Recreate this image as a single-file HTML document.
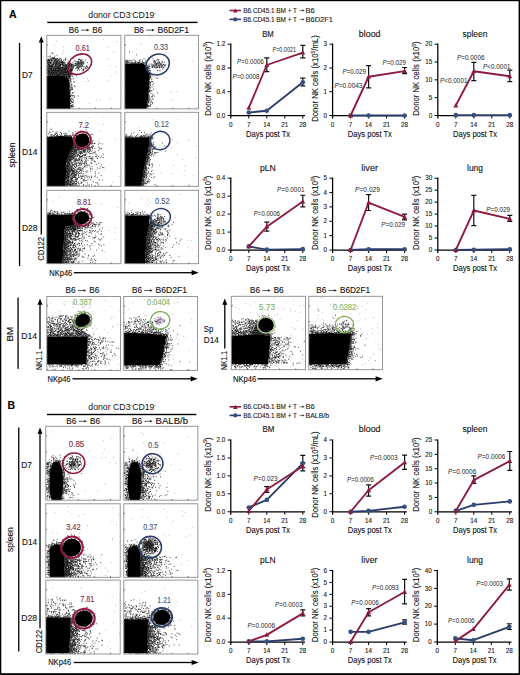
<!DOCTYPE html>
<html><head><meta charset="utf-8"><style>
html,body{margin:0;padding:0;background:#fff;}
svg{display:block;}
text{font-family:"Liberation Sans",sans-serif;}
</style></head><body>
<svg width="520" height="675" viewBox="0 0 520 675">
<defs><filter id="b1" x="-20%" y="-20%" width="140%" height="140%"><feGaussianBlur stdDeviation="0.65"/></filter><filter id="b2" x="-30%" y="-30%" width="160%" height="160%"><feGaussianBlur stdDeviation="1.0"/></filter><filter id="b0" x="-5%" y="-5%" width="110%" height="110%"><feGaussianBlur stdDeviation="0.35"/></filter></defs>
<rect x="0" y="0" width="520" height="675" fill="#fff"/>
<rect x="0" y="0" width="1.3" height="675" fill="#000"/>
<rect x="0" y="0" width="520" height="1.2" fill="#000"/>
<rect x="518.6" y="0" width="1.4" height="675" fill="#000"/>
<rect x="0" y="673.2" width="520" height="1.8" fill="#000"/>
<text x="9.00" y="17.98" font-size="11" fill="#000" stroke="#000" stroke-width="0.12" font-weight="bold" textLength="7.60" lengthAdjust="spacingAndGlyphs">A</text>
<text x="7.60" y="409.38" font-size="11" fill="#000" stroke="#000" stroke-width="0.12" font-weight="bold" textLength="7.60" lengthAdjust="spacingAndGlyphs">B</text>
<text x="88.3" y="18.00" font-size="8.2" fill="#111" textLength="67.8" lengthAdjust="spacingAndGlyphs">donor CD3<tspan dy="-2.9" font-size="4.6">-</tspan><tspan dy="2.9">CD19</tspan><tspan dy="-2.9" font-size="4.6">-</tspan></text>
<rect x="47.3" y="21.70" width="150.20" height="1.4" fill="#000"/>
<text x="68.70" y="32.92" font-size="8.2" fill="#111" stroke="#111" stroke-width="0.12" textLength="10.03" lengthAdjust="spacingAndGlyphs">B6</text>
<path d="M81.03 30.10H87.83" stroke="#222" stroke-width="0.75"/>
<path d="M89.33 30.10L86.73 28.80L86.73 31.40Z" fill="#222"/>
<text x="92.33" y="32.92" font-size="8.2" fill="#111" stroke="#111" stroke-width="0.12" textLength="10.03" lengthAdjust="spacingAndGlyphs">B6</text>
<text x="133.90" y="32.92" font-size="8.2" fill="#111" stroke="#111" stroke-width="0.12" textLength="10.03" lengthAdjust="spacingAndGlyphs">B6</text>
<path d="M146.23 30.10H153.03" stroke="#222" stroke-width="0.75"/>
<path d="M154.53 30.10L151.93 28.80L151.93 31.40Z" fill="#222"/>
<text x="157.53" y="32.92" font-size="8.2" fill="#111" stroke="#111" stroke-width="0.12" textLength="31.47" lengthAdjust="spacingAndGlyphs">B6D2F1</text>
<rect x="40.65" y="40.20" width="1.3" height="194.30" fill="#000"/>
<path d="M41.30 36.20 L43.80 42.40 L38.80 42.40 Z" fill="#000"/>
<text transform="translate(43.62,260.80) rotate(-90)" x="0" y="0" font-size="8.2" fill="#111" stroke="#111" stroke-width="0.12" textLength="23.80" lengthAdjust="spacingAndGlyphs">CD122</text>
<text x="49.20" y="275.52" font-size="8.2" fill="#111" stroke="#111" stroke-width="0.12" textLength="23.10" lengthAdjust="spacingAndGlyphs">NKp46</text>
<rect x="73.80" y="272.05" width="121.00" height="1.3" fill="#000"/>
<path d="M198.80 272.70 L191.60 270.10 L191.60 275.30 Z" fill="#000"/>
<rect x="18.9" y="43" width="1.3" height="223" fill="#000"/>
<text transform="translate(14.62,167.50) rotate(-90)" x="0" y="0" font-size="8.2" fill="#111" stroke="#111" stroke-width="0.12" textLength="24.90" lengthAdjust="spacingAndGlyphs">spleen</text>
<text x="22.00" y="77.82" font-size="8.2" fill="#111" stroke="#111" stroke-width="0.12" textLength="10.50" lengthAdjust="spacingAndGlyphs">D7</text>
<text x="22.00" y="154.62" font-size="8.2" fill="#111" stroke="#111" stroke-width="0.12" textLength="15.50" lengthAdjust="spacingAndGlyphs">D14</text>
<text x="22.00" y="231.32" font-size="8.2" fill="#111" stroke="#111" stroke-width="0.12" textLength="15.50" lengthAdjust="spacingAndGlyphs">D28</text>
<path d="M103.8 39.7h0m-47.2 1.5h0m60.3 .4h0m-62.3 3.7h0m9 1.5h0m44.7 1h0m-44.4 2.1h0m-1.1 2.1h0m51.2 0h0m-62 1.3h0m10.5 .9h0m14 .9h0m-9.8 2.7h0m40.8 1h0m-57 .7h0m18.7 1.3h0m41.2 5h0m-54.6 1h0m60.6 .4h0m-56 .8h0m10.3 4h0m45.5 .1h0m-5.8 3.6h0m-43.7 .7h0m10.5 .9h0m10.4 1.4h0m-16.9 1.7h0m17.8 .2h0m18.9-.3h0m-20.9 1.2h0m-14.8 8.5h0m-3.2 3.9h0m41.4 4.9h0m-13.6 1.2h0m4-.2h0m-31.3 2.8h0m4.1 .6h0m16.1 .1h0" stroke="#000" stroke-opacity="0.35" stroke-width="0.75" stroke-linecap="square" fill="none" filter="url(#b0)"/>
<path d="M52.1 52.9h0m.6 .7h0m4.3 1.6h0m23.2-.2h0m-29.7 1h0m-2.3 .4h0m6.6-.2h0m-5 .8h0m1.4 .2h0m1.5 .6h0m.9-.1h0m.8 .1h0m.2 .1h0m-3.6 .7h0m1.5-.5h0m1 .4h0m.7 .1h0m3.1-.2h0m2.8 .1h0m5.4 0h0m-17.2 .8h0m.9-.1h0m.9-.1h0m1.4-.1h0m.6-.2h0m.9 0h0m1-.1h0m.9 .3h0m.4 0h0m.7-.3h0m.9 .2h0m1.2 .1h0m.9 .2h0m.3-.1h0m1.7-.3h0m17.6 .3h0m.7 .1h0m-31.6 .4h0m1 .3h0m.1-.2h0m2.5-.1h0m.2 .3h0m1.5-.4h0m2 .3h0m.3-.4h0m1.1 .2h0m.6 .2h0m1.8-.3h0m2.6 0h0m2.7 .4h0m1.8-.4h0m13.8-.1h0m.6 .5h0m1.9-.1h0m-34.2 .7h0m.4-.2h0m.6-.1h0m1 .2h0m1.1-.1h0m.8 0h0m1.8-.1h0m.3 .1h0m1 .3h0m.8-.5h0m.2 .4h0m1.3-.2h0m1 .1h0m.7 0h0m6.4-.1h0m13.1-.2h0m2.7 .3h0m.3 0h0m4-.3h0m-37.7 .9h0m.7-.3h0m1.3 0h0m.4 .4h0m2-.4h0m2.3 .4h0m.7-.3h0m.8 0h0m1.6 .1h0m.3 .2h0m1.6-.1h0m.5 0h0m.7 .1h0m.5-.3h0m.7 .2h0m1.7-.2h0m11.4-.1h0m5.3 .3h0m.6-.2h0m-33.3 .6h0m.7-.1h0m1 .3h0m.2-.3h0m.6 .6h0m1.9-.3h0m2.4 .1h0m.7-.1h0m1.3 0h0m.3-.2h0m.5-.1h0m.9 .4h0m2.4 .2h0m1-.2h0m.6 0h0m.5-.2h0m12.7 .4h0m1.8-.2h0m3.7-.3h0m-33 1h0m.3 .1h0m.8-.1h0m.7-.1h0m.7 .2h0m.6-.2h0m.5-.3h0m1.8 .2h0m.2-.2h0m1.7 .3h0m.3-.1h0m1 .3h0m.6-.5h0m.4 .3h0m1.5 0h0m.7-.2h0m.3 .4h0m.9-.3h0m.9 .3h0m.2-.1h0m.6-.1h0m.8 .2h0m.7-.5h0m1.1 .5h0m2.7-.4h0m2.1 .4h0m3.3-.4h0m3.7-.1h0m1.8 0h0m1.8 .4h0m.5-.1h0m1.5-.1h0m1.6-.1h0m-36.6 .6h0m1.4 .2h0m.7 .2h0m.9-.3h0m.2-.1h0m.7 0h0m1.5 .4h0m.6-.2h0m.5 0h0m.7 .2h0m1.5-.1h0m.5-.3h0m.5 .3h0m1.2 0h0m.4-.2h0m.5 .1h0m2.1 .2h0m.6-.4h0m.7-.1h0m1.5 .5h0m5.9-.1h0m7.1-.1h0m1.5-.3h0m4.3 .6h0m.8-.1h0m3.5-.4h0m-39.5 .8h0m.4 .1h0m.9 .2h0m1.5-.4h0m1.3 .2h0m1.5-.2h0m1.3-.1h0m.8 .4h0m.7-.3h0m.4-.1h0m1 .5h0m.6-.4h0m.8 .3h0m.8-.1h0m2.5 .1h0m.4 0h0m.6-.3h0m.9-.1h0m3.7 .2h0m.9 .1h0m.7 .2h0m.5-.2h0m.3 .2h0m.7-.1h0m4.3 0h0m.3-.1h0m.5 .2h0m1-.5h0m.6 .2h0m1.7-.1h0m1.6 .2h0m.4-.1h0m1.3-.1h0m-34.7 .5h0m.4 .4h0m.6 0h0m1.4-.3h0m2 .5h0m1.4-.4h0m.3 .2h0m1.4-.1h0m1.1-.2h0m.6 .3h0m1.1 .1h0m.4-.3h0m1 .2h0m.7-.4h0m.3 .2h0m.6 0h0m.9 .1h0m.3 .2h0m.8-.2h0m1.5-.2h0m.3 .1h0m.8 .3h0m1.9-.4h0m.8 .3h0m.4-.2h0m.7 .3h0m1.5 .1h0m.5-.1h0m.7-.4h0m2 .1h0m2.8 0h0m.2-.1h0m1 .5h0m4.7-.1h0m-35.2 .2h0m.5 .1h0m.6 0h0m.6 .4h0m.6-.1h0m1.6-.4h0m.3 .5h0m1.1-.5h0m.4 .1h0m1.4 .4h0m.6-.1h0m.4-.3h0m.6 .2h0m2.7 .2h0m.9-.3h0m.3-.2h0m.7 .1h0m.8 .2h0m.7 .1h0m.5-.1h0m.8-.3h0m1.4 .4h0m.6-.2h0m.7 .3h0m.3 0h0m1.8-.3h0m.4 0h0m.7 0h0m.3 .3h0m1.1 0h0m.6-.2h0m.5-.2h0m.8 .1h0m2.9-.2h0m5.5 0h0m-33.8 1.1h0m.4-.4h0m1.3 .5h0m.9 0h0m.8-.2h0m.2 .1h0m.9-.3h0m.6-.1h0m2.2 0h0m.2 .5h0m.7-.2h0m1-.4h0m.3 0h0m1 0h0m.7 .4h0m.7 0h0m.5-.3h0m.4 .1h0m3-.2h0m.1 .2h0m.7 .2h0m1.8 .1h0m.5-.4h0m1.9 .3h0m.3 0h0m1.9-.1h0m.2-.2h0m2.1 .4h0m1.6-.2h0m2.4-.3h0m1 .2h0m2.1 .2h0m2.4-.2h0m4.1 .2h0m-39 .5h0m.7-.1h0m.5 .1h0m.9 .1h0m.9-.3h0m.8 .3h0m1 .1h0m.4-.4h0m.7 .1h0m1.6-.1h0m.3 .5h0m1.1-.4h0m1.1 0h0m.5 .2h0m.7-.2h0m.6-.1h0m.6 0h0m.6 .1h0m1.8 .3h0m.9-.3h0m.8 .3h0m.7-.4h0m.1 0h0m.9 .1h0m.5-.1h0m.8 .2h0m.7 .1h0m.7-.2h0m.7 .4h0m.4-.5h0m1 .3h0m.5-.3h0m.6 .1h0m.8 0h0m.8 0h0m.5 .1h0m1.8-.2h0m4.1 .5h0m.3-.2h0m-32.6 .5h0m.9 0h0m.9 0h0m.5-.1h0m.7 .1h0m.6-.1h0m.6 .2h0m.6-.2h0m.4 .3h0m1.2-.3h0m.3 .4h0m1.9-.2h0m.7 0h0m.6 0h0m.9 .1h0m.5 .1h0m.8-.4h0m.5 .1h0m2.1 .3h0m.4-.1h0m.5 .2h0m1.7-.5h0m.7 .3h0m.6 0h0m.3 .1h0m.9-.5h0m.8 .3h0m.6 .1h0m.3 0h0m.7-.2h0m1.7-.1h0m1.5 .4h0m.9-.1h0m5.1-.2h0m2.2-.1h0m.8 .2h0m2.4 0h0m2.3-.2h0m.8 .3h0m-39.6 .4h0m1.1 .1h0m.5-.1h0m.7 .1h0m.9 .3h0m.9-.3h0m.3-.1h0m.7 .4h0m1.6-.5h0m.7 .3h0m.2-.2h0m.6 0h0m.8-.1h0m.8 .4h0m.8-.4h0m.6 .2h0m.3-.2h0m.6 .2h0m.7 .2h0m.7-.1h0m.5 0h0m.7 0h0m.8 0h0m.6 0h0m1 .2h0m.4-.2h0m.9 .1h0m.5-.3h0m.5 0h0m.6 .4h0m.6-.2h0m1 0h0m1.2-.3h0m.6 .5h0m.6-.5h0m1.1 .3h0m.7-.3h0m3.8 .3h0m1.7 0h0m6.4-.3h0m1.9 0h0m-39.8 1.1h0m.7-.4h0m.7 0h0m1 .1h0m.5 .4h0m.7-.1h0m.2-.1h0m.7-.3h0m1.1 .4h0m.3-.2h0m.8 .1h0m1.2 0h0m.9-.1h0m.7 0h0m.7-.2h0m.2 .3h0m.5 0h0m.8 .2h0m.7-.5h0m.6 .1h0m.7-.1h0m.9 .2h0m.3-.2h0m.6 0h0m1 .2h0m.3 .1h0m.6 .1h0m1.2 0h0m.5 .1h0m.3-.5h0m.8 .5h0m.6-.1h0m.7-.1h0m1.5 .1h0m1.3-.5h0m.3 .3h0m4-.2h0m.8 .2h0m1.9-.1h0m2.8 .3h0m3.6-.1h0m1.5-.2h0m-39.3 1h0m1.1-.3h0m.3-.2h0m.7 .5h0m.6-.4h0m.8 .1h0m.6 .1h0m1.1-.3h0m.9 .5h0m.6-.2h0m.7-.2h0m.4 .2h0m.6-.3h0m.9 .1h0m1-.1h0m.3 .4h0m.7-.2h0m.6-.1h0m.5 .3h0m.9-.1h0m.8-.1h0m.5 0h0m.5-.1h0m.9 .1h0m.7 .1h0m.3 .2h0m.7 0h0m.5-.4h0m.9 .1h0m.5 .3h0m1-.4h0m.7 .3h0m2-.3h0m1 .2h0m.4 .2h0m.9-.3h0m2.7-.1h0m3 0h0m4.3 .2h0m2.9-.2h0m-38.3 .7h0m.5 .1h0m.9 0h0m.8-.1h0m.2-.1h0m1 .2h0m.4 .1h0m.6-.2h0m1 .2h0m.4 .1h0m.5 .1h0m1-.3h0m.5 .2h0m.7-.3h0m.8-.1h0m.3 .1h0m.7-.1h0m.7-.1h0m.8 .1h0m.4 .1h0m.7 .1h0m1.1 .3h0m.3-.1h0m.8-.3h0m.4 .1h0m.7 .2h0m.5 0h0m1.2-.1h0m.1-.3h0m1 0h0m.4 .1h0m1.1 .3h0m.4-.2h0m.4 0h0m.8-.2h0m1.1-.1h0m.8 .5h0m1-.4h0m5.4 .3h0m5.4 .1h0m.4-.2h0m-36.2 .8h0m.7-.2h0m.5 .2h0m1.1 .1h0m.3-.4h0m.8 .2h0m.7 .2h0m.5-.1h0m.9-.3h0m.4 .4h0m.4-.4h0m1 .4h0m.3-.1h0m.9-.1h0m.8 .1h0m.7 0h0m.6-.2h0m.6-.2h0m.3 .2h0m1.1 .3h0m.6 0h0m.3-.5h0m1.1 .5h0m.3-.3h0m.8 .3h0m.9-.5h0m.1 0h0m.9 .4h0m.5-.4h0m.7 .3h0m.5-.2h0m.8 .3h0m.7-.1h0m.9-.2h0m.7-.1h0m.4 .3h0m.7-.2h0m.4 .2h0m.6 0h0m7.4 .2h0m2.7-.2h0m1.4 .2h0m-36.2 .6h0m.6-.4h0m.7 .1h0m1 .2h0m.4-.3h0m1.1 .2h0m.1 .2h0m1.1 0h0m.4-.2h0m.5 0h0m1.1-.2h0m.6 .3h0m.2-.3h0m.8 .2h0m1 0h0m.2-.3h0m.9 .2h0m.6 .2h0m.7-.2h0m.8 0h0m.5 .3h0m.4-.3h0m.6 .1h0m.8-.1h0m.7 .3h0m.7-.4h0m.5 .4h0m.9-.2h0m.4 .2h0m1.1-.4h0m.5 .5h0m.7-.3h0m.7-.2h0m.2 .1h0m1 0h0m.7 .2h0m.5-.3h0m.5-.1h0m.6 .5h0m5.3-.3h0m-29.7 .7h0m.5 .1h0m.9 0h0m.4-.3h0m.4 .3h0m.8-.2h0m.7 0h0m.6-.1h0m1 .3h0m.1 .1h0m1-.4h0m.7 .4h0m.7-.4h0m.4 .2h0m.8-.1h0m.5 .1h0m.8 .1h0m.5-.3h0m.6 .4h0m.9-.4h0m.5 .2h0m1-.2h0m.2 .4h0m1-.1h0m.6-.1h0m.8-.2h0m.5 .2h0m.7 .2h0m.6-.2h0m.8-.2h0m.4 0h0m.6 .5h0m.9-.2h0m.2 0h0m.8-.1h0m.6 0h0m.7 .1h0m11.9-.3h0m-35.2 1.1h0m.7-.5h0m.4 .3h0m.7 .1h0m.5 .2h0m1-.4h0m.5 .4h0m.9-.2h0m.3-.1h0m.6 .2h0m.9-.3h0m.4 .2h0m1-.2h0m.5 .2h0m.5-.3h0m1 0h0m.7 .1h0m.5-.1h0m.5 .3h0m.6 .1h0m.5-.3h0m1.1 .2h0m.7-.1h0m.6 0h0m.4 .1h0m.9 .1h0m.5-.2h0m.5-.1h0m1 .1h0m.3 0h0m.5 .2h0m1-.4h0m.4 .1h0m.8 .2h0m.4-.2h0m1 0h0m.5-.1h0m.4 0h0m-23.9 1h0m.7-.3h0m.5 .2h0m.9 .2h0m.9-.5h0m.5 .3h0m.7-.3h0m.8 .2h0m.6-.1h0m.3-.1h0m.5 .4h0m1.1-.2h0m.5 .1h0m.3-.2h0m.7 0h0m1 .4h0m.3-.5h0m1.1 .1h0m.7 .4h0m.6-.2h0m.5 .1h0m.7-.3h0m.7-.1h0m.4 0h0m.5 .2h0m.6 0h0m.7-.1h0m1 .1h0m.7-.2h0m.7 .1h0m.3 .3h0m.9 0h0m.4-.2h0m1.1 .3h0m.3-.1h0m.6-.1h0m1.3-.2h0m-23.7 .5h0m.3 .4h0m.8-.2h0m.5-.1h0m1 .3h0m.6-.4h0m.5 .2h0m.6 .2h0m.7-.3h0m.8 .3h0m.5 .2h0m.5-.2h0m.9-.3h0m.5 .3h0m.4-.3h0m.6 .3h0m.9-.2h0m.8-.2h0m.6 .5h0m.6-.3h0m.4 .3h0m.8 0h0m.6-.4h0m.9 .5h0m.8-.3h0m.4-.3h0m.9 .1h0m.5 .2h0m.3-.1h0m.7 .3h0m1-.2h0m.5-.1h0m.9 0h0m.1-.1h0m1 .1h0m.4 0h0m.8 .2h0m.5 0h0m-24 .3h0m.9 .3h0m.4 .2h0m.7-.3h0m.6 .1h0m1-.2h0m.6 .1h0m.5 .3h0m.5-.5h0m.7 0h0m.5 .1h0m.8 0h0m.8 .2h0m.7-.1h0m.5-.1h0m.6 0h0m.8 .3h0m.8 .1h0m.6 0h0m.8-.3h0m.1 .3h0m.7-.3h0m.7 .3h0m.7-.4h0m.9 .4h0m.7-.5h0m.6 .3h0m.7-.3h0m.5 .5h0m.8-.1h0m.4-.2h0m.5 .1h0m1-.1h0m.4-.1h0m.8 .4h0m.4-.4h0m.6 .3h0m.7 0h0m-23.7 .5h0m.3-.1h0m.6-.1h0m1.2 .2h0m.4-.1h0m.3 0h0m1 .2h0m.5-.1h0m.5 .1h0m.7-.4h0m1.1 .2h0m.3-.1h0m.5 .4h0m1.2 .1h0m.2-.1h0m.6-.1h0m.6-.3h0m.6 .2h0m1 0h0m.4-.1h0m.8-.1h0m.9 .3h0m.7-.4h0m.3 .4h0m.6-.1h0m.8-.2h0m.7 .1h0m.3 .4h0m1-.2h0m.5-.2h0m.6 0h0m.9 0h0m.5 .2h0m.8-.3h0m.3 .4h0m.6-.1h0m.7-.3h0m-23.2 .9h0m.7-.2h0m.7 .1h0m.4 .2h0m.9-.2h0m.4 .1h0m.9-.2h0m.6 .4h0m.7-.5h0m1.4 .2h0m3.7-.2h0m.5 0h0m1.3 0h0m1.1 .1h0m.3-.1h0m.6 .2h0m.8 .3h0m.8-.5h0m.5 .2h0m.4 .3h0m.8-.2h0m.6-.3h0m1 .4h0m.5-.2h0m.8 .1h0m.3-.1h0m.6 .1h0m.6-.1h0m.7 0h0m.7 .1h0m1.7-.3h0m-23.4 .7h0m14.3-.1h0m.1 .2h0m.9 0h0m.6 .1h0m.5 .2h0m.8 0h0m.7 .1h0m.5-.1h0m.8-.1h0m.7-.1h0m.7 .1h0m.7 .2h0m5.8-.3h0m-9.8 .7h0m.4 .1h0m.9 .1h0m.6-.2h0m1-.1h0m.3-.2h0m1.1 .5h0m1.8-.4h0m-5.9 .9h0m.2 .2h0m1.1 0h0m.4-.6h0m.9 .1h0m.3 .2h0m-2 .7h0m1.1-.1h0m.6-.2h0m.4 .1h0m-1.5 .9h0m.7-.1h0m1 .2h0m.4-.1h0m3.1 0h0m-3.5 .6h0m1.8 0h0m-1.3 .8h0m-.9 .3h0m.9 .7h0m.8 .5h0m2.5 .4h0m-4.2 .7h0m4.8-.4h0m-4.6 1h0m1.4 0h0m-1.4 1h0m2.1 .4h0m-.9 .3h0m-1.2 .6h0m1.9 .2h0m2.8 0h0m-4.5 .7h0m.2 .8h0m1.2-.1h0m1.2 0h0m2.6-.4h0m-4 1.1h0m-1.3 .2h0m2.4 .4h0m-1.7 .8h0m1.2-.1h0m-.7 .3h0m.8-.1h0m.6 .1h0m-2.6 1.1h0m.6-.1h0m-.4 1.7h0m.3-.1h0m2.3 1h0m1.2-.4h0m-3.7 .7h0m2.4-.1h0m-1.3 1.2h0m-.8 1h0m1.5 .3h0m1-.1h0m1-.1h0m-3.5 .7h0m.4-.4h0m1.3 .1h0m6 .1h0m-8.1 .6h0m.1 .1h0m4-.3h0m.2 1h0m-4 .7h0m1.6 .1h0m0 .4h0m-1.7 .8h0m.6-.3h0m1.7 .2h0m-1.9 .6h0m.2 .5h0m2.7 .1h0m-2.5 .8h0m.5-.3h0m-.3 .9h0m.5-.1h0m1.2 .2h0m-.6 .3h0m.5 .1h0m-2.4 .9h0m.5-.1h0m1.5 1.5h0m-1.6 .6h0m1.1-.2h0m1.3 .3h0m-3 .4h0m1.1-.2h0m-.1 .6h0m.2 .1h0m1.2 .2h0m.8 .1h0m-2.4 .2h0m1.3 .2h0m-1.7 .7h0" stroke="#000" stroke-opacity="0.9" stroke-width="0.75" stroke-linecap="square" fill="none" filter="url(#b0)"/>
<path d="M77.6 61.5h0m.9-.1h0m1.3 0h0m2.1 .4h0m.8-.4h0m.8 .2h0m-5.2 .8h0m.7 .1h0m.5-.1h0m.8 0h0m1.1 0h0m2.1-.3h0m-5.7 .9h0m.6 0h0m1.3 .2h0m1.2-.3h0m.9-.1h0m.2 .1h0m-6.5 .9h0m2.1-.5h0m.6 .5h0m.7-.2h0m.8-.1h0m.3 .2h0m.9-.4h0m2.2 0h0m-5 .6h0m1 .5h0m.6-.2h0m.7-.2h0m1.6 .3h0m-5.6 .8h0m.4-.4h0m1 .1h0m.4 .3h0m2.2-.3h0m.4 .1h0m.7-.3h0m1.3 .4h0m-7.7 .7h0m.5-.2h0m1.4 .2h0m1.4-.3h0m1.3 .4h0m2.8-.1h0m-5.9 .3h0m1.2 .4h0m1.3 0h0m1.3-.1h0m.7-.2h0m.6-.2h0m.3 0h0m-4.9 1.2h0m.8-.5h0m.1 .2h0m2.9 .3h0m2.8-.5h0m-5 .8h0m-.2 .6h0m-.6 .5h0m.7 .2h0" stroke="#2d3b33" stroke-opacity="0.9" stroke-width="0.75" stroke-linecap="square" fill="none" filter="url(#b0)"/>
<path d="M46.80 76.00 L58.00 75.00 L66.00 76.50 L69.30 80.00 L70.00 95.00 L70.30 108.90 L46.80 108.90 Z" fill="#000" fill-opacity="1.0" filter="url(#b1)"/>
<ellipse cx="79.7" cy="64.2" rx="12.6" ry="9.4" transform="rotate(-30 79.7 64.2)" fill="none" stroke="#8c1b3d" stroke-width="1.6"/>
<text x="75.60" y="50.96" font-size="8.3" fill="#7a2d4c" stroke="#7a2d4c" stroke-width="0.12" textLength="14.20" lengthAdjust="spacingAndGlyphs">0.61</text>
<rect x="46.80" y="35.30" width="74.10" height="73.60" fill="none" stroke="#8a8a8a" stroke-width="0.9"/>
<path d="M46.80 92.90h1.3 M46.80 76.90h1.3 M46.80 60.90h1.3 M46.80 44.90h1.3 M62.91 108.90v-1.3 M79.02 108.90v-1.3 M95.13 108.90v-1.3 M111.23 108.90v-1.3" stroke="#444" stroke-width="0.7" fill="none"/>
<path d="M149.8 36.9h0m-8.7 6.7h0m55 .9h0m-60 4.8h0m-3.4 2.7h0m36.8 1.6h0m4.4 6.6h0m19.1 .7h0m-39.3 16.5h0m12.5 0h0m11.1 14.1h0m-6.6 .9h0m-28.5 4.6h0m8.3 2h0m-16 .8h0m2.2 .8h0m35.9-.2h0m25.3 6.7h0m-59.4 .5h0m57.2 .1h0" stroke="#000" stroke-opacity="0.35" stroke-width="0.75" stroke-linecap="square" fill="none" filter="url(#b0)"/>
<path d="M129.5 51.8h0m6.9 3h0m7.7 3.8h0m8.7 .4h0m4.6 .1h0m-17.3 .8h0m18.8-.3h0m-32.7 1h0m1-.5h0m2.5 .4h0m1.4 0h0m1.8-.4h0m1.9 0h0m4.5 .2h0m3.1-.1h0m3.5 .2h0m8.5 .2h0m2.5-.3h0m1.5-.2h0m-32.8 1h0m.6 .1h0m.9-.2h0m1.3 .1h0m7.1 .1h0m3.9-.3h0m14.2 .1h0m1.3-.1h0m3.4 .3h0m-31.2 .6h0m.4-.2h0m4.2 .3h0m3.3-.2h0m5.1 0h0m7.5-.2h0m7.3 0h0m.6 .2h0m6.7-.3h0m-36.7 .9h0m.6 .2h0m1.5 0h0m.8-.2h0m.7 0h0m1-.3h0m2.9 .4h0m2.1 .1h0m1.3-.3h0m1.1 .1h0m.9 .1h0m.6-.2h0m3.1-.2h0m.4 .1h0m1.6 .4h0m1.4-.2h0m.6-.2h0m8.1-.1h0m4.6 .2h0m.7-.2h0m3.1 .2h0m1.9 0h0m-38.7 .9h0m.6-.1h0m.8-.2h0m3.7-.2h0m1.1 .6h0m.7-.3h0m1.6 .1h0m.7 .2h0m.6-.3h0m2.6 0h0m.5-.2h0m.5 .5h0m1.3-.2h0m1 .1h0m1.4 0h0m.4 0h0m.5-.4h0m1.2 .5h0m9.8-.4h0m1.1 0h0m1.9 .2h0m1.8-.3h0m-27.4 .7h0m22.9 .3h0m1.2 0h0m.5-.1h0m.8 0h0m1.4-.1h0m1.1 .1h0m-15.8 .4h0m1.8 .1h0m2.8 .1h0m2.3-.1h0m5.2 .2h0m3.7-.3h0m.6 .4h0m1.2-.1h0m2-.1h0m1.3 .3h0m-19.2 .1h0m.4 .4h0m5.6 0h0m3.4-.1h0m.9-.2h0m5.3 0h0m1.9-.1h0m-17.3 1.1h0m1.1-.4h0m1.7 .1h0m3.3-.1h0m.6 .4h0m.9 0h0m1 0h0m1.3-.2h0m2.3 0h0m1.7 .3h0m2.2-.4h0m1.8 .2h0m.9-.2h0m-15.2 .9h0m4.2 0h0m.6 .1h0m4.4-.5h0m2.7 .5h0m.5-.5h0m2.9 .1h0m-17.8 .6h0m1.5 0h0m.2 .4h0m2.7-.1h0m.7-.1h0m5.1 0h0m1.6 .1h0m.4 0h0m1.2-.1h0m3.3 .1h0m-16.3 .7h0m.9-.4h0m3.7 0h0m.6 .4h0m1.9 .1h0m1.4-.4h0m.5 0h0m.9 .3h0m1.7 .1h0m2.2-.2h0m1.5 0h0m-14.9 .5h0m6.9-.1h0m1.7 0h0m2.6 0h0m4.3 0h0m-15.6 .9h0m.6-.2h0m1.2-.1h0m12.8 .5h0m-14.6 .4h0m1.4 .7h0m-.8 .8h0m1.4-.4h0m.5 .3h0m7-.2h0m1.5 0h0m1.2 .1h0m-11.3 .8h0m1 .9h0m-.9 .9h0m1.1 0h0m.2 .2h0m-1 .7h0m.6 0h0m4.3-.4h0m-4.9 .6h0m.8 .3h0m8.2-.3h0m-8.5 .7h0m1.3-.1h0m-.9 1.2h0m1.9-.2h0m-2.2 .4h0m.3-.1h0m-.2 .6h0m.6 .4h0m-.8 .8h0m1.4 0h0m5.1-.3h0m-6.6 .6h0m7.7 0h0m-7.8 .9h0m2.2 .3h0m-2.2 1.8h0m1.6-.1h0m.7 .5h0m.7-.3h0m-2.7 1h0m.5 .2h0m-.5 .3h0m.6-.2h0m3 .4h0m-3.5 .7h0m-.8 .5h0m.7-.2h0m.3 1.1h0m2.5-.4h0m-2.5 .6h0m-1.1 .8h0m1 .9h0m1.9-.2h0m-2.6 .8h0m.6-.4h0m0 1.1h0m3.6 .6h0m-4.4 .7h0m-.2 .6h0m1-.4h0m-.9 .6h0m.5 .5h0m1.1 0h0m.3-.2h0m1-.2h0m-2.7 .8h0m.4 .6h0m-1 .5h0m9 .3h0m-6.7 .4h0m1.8 .8h0m-4.2 .4h0m1.1 .4h0m-1.1 .6h0m4.4-.1h0m-4.6 .8h0m3.5 .1h0m2.6-.2h0m-5.3 .8h0m.4 .1h0m2.9-.3h0m-4.3 .7h0m3-.2h0m-2.8 .7h0m.5 .1h0m-.8 .4h0m.9 .5h0m4.2 0h0m-4.7 .5h0m1.3-.1h0m2.5-.3h0m-4.1 1.2h0m1-.3h0m1.9 .2h0m-3.2 .5h0m1.3-.2h0m-.7 1h0m.4 0h0m-1.1 .3h0m.8 .4h0m2.1 0h0m.8-.3h0m-3.4 .6h0m.4 .3h0m4-.2h0m-2.5 .6h0m-2.7 1h0m.4-.2h0m4.7-.2h0m-4.4 .6h0m3.1 .1h0m-3.7 1h0m1.3-.1h0m1.6 0h0m-3.1 .3h0m.4 .3h0m.7 .1h0m1.9-.3h0m-2.2 .6h0m.8 .3h0m1.4-.2h0m-2.6 .4h0m.4 1h0" stroke="#000" stroke-opacity="0.9" stroke-width="0.75" stroke-linecap="square" fill="none" filter="url(#b0)"/>
<path d="M155.2 61.8h0m-1.1 .7h0m3.7-.1h0m3.6-.2h0m-6.5 .7h0m.4 .9h0m3.9-.4h0m.6 .2h0m1.2 0h0m.5-.2h0m-9.3 .7h0m1.3 .2h0m.7 0h0m1.4-.1h0m2.3 .1h0m-2.8 .6h0m3.2-.2h0m.8 0h0m.5 .2h0m.9 0h0m-3.8 .5h0m1.1-.1h0m.4 .2h0m.9 .2h0m.9-.4h0m-7.2 .8h0m.7 .2h0m3.4 .1h0m1.5-.5h0m3.2 0h0m.5 .4h0m-7.4 .3h0m1.2 .1h0m.3 .7h0m1.4 .5h0" stroke="#555" stroke-opacity="0.9" stroke-width="0.75" stroke-linecap="square" fill="none" filter="url(#b0)"/>
<path d="M124.80 63.60 L143.00 63.20 L147.30 67.00 L149.70 76.00 L148.50 95.00 L146.60 108.90 L124.80 108.90 Z" fill="#000" fill-opacity="1.0" filter="url(#b1)"/>
<ellipse cx="157.7" cy="64.5" rx="12.0" ry="10.2" transform="rotate(-25 157.7 64.5)" fill="none" stroke="#2b3c69" stroke-width="1.5"/>
<text x="153.90" y="49.66" font-size="8.3" fill="#4a5a78" stroke="#4a5a78" stroke-width="0.12" textLength="14.30" lengthAdjust="spacingAndGlyphs">0.33</text>
<rect x="124.80" y="35.30" width="73.80" height="73.60" fill="none" stroke="#8a8a8a" stroke-width="0.9"/>
<path d="M124.80 92.90h1.3 M124.80 76.90h1.3 M124.80 60.90h1.3 M124.80 44.90h1.3 M140.84 108.90v-1.3 M156.89 108.90v-1.3 M172.93 108.90v-1.3 M188.97 108.90v-1.3" stroke="#444" stroke-width="0.7" fill="none"/>
<path d="M102.6 117.0h0m-13.5 .7h0m-33.2 5.5h0m47.5 1.3h0m-53 3.6h0m49.5 2.8h0m-12.5 1.4h0m-5.3 2.6h0m-25.9 3.2h0m43.1 .4h0m15.8 .9h0m-67.2 .4h0m32.3 .7h0m18.7 1.1h0m-17.6 10h0m-12.5 .6h0m7.5 .6h0m-28 2.3h0m32.5 0h0m-28.4 7.3h0m35.7 2.7h0m-4.4 2.1h0m-4.2 .5h0m17.2 1.7h0m7.4-.4h0m-35.4 .6h0m-8 5.5h0m-11.6 .4h0m70.6 .8h0m-72.1 .5h0m65.1 5.6h0m-49.3 2.9h0m35 .1h0" stroke="#000" stroke-opacity="0.35" stroke-width="0.75" stroke-linecap="square" fill="none" filter="url(#b0)"/>
<path d="M51.2 129.5h0m34.8 .2h0m-17 1.3h0m12.3 0h0m-28.5 .7h0m23-.3h0m6.6 .2h0m-32.8 .2h0m7.3 0h0m26.7 .6h0m3.3-.6h0m-36.8 .9h0m5.7 0h0m4.7-.2h0m12.2 .4h0m6.3-.2h0m4.9 0h0m2.9 0h0m-30.6 .7h0m.5 .1h0m4.8 .2h0m2.5-.3h0m1.2-.1h0m1.6 .2h0m6.5 .2h0m4.4-.1h0m5.2-.2h0m-34.6 .6h0m6.5 .3h0m.5 0h0m4.1-.1h0m2.2-.4h0m22.5 .3h0m1.3-.2h0m.9 .4h0m-34.1 .2h0m3.2 .1h0m2 .1h0m4 .1h0m3.5-.1h0m8.3 .1h0m6.7 .1h0m.8-.4h0m1-.1h0m1.3 .4h0m2.3-.1h0m.7 .1h0m5.2-.4h0m1.5 .2h0m-42.1 .5h0m1 0h0m2 .3h0m.6 .2h0m2.5-.2h0m1.2 .2h0m2.9 0h0m4.3-.1h0m1.1-.3h0m.5 0h0m1.2 .4h0m1.4 0h0m1.7-.4h0m1.7-.1h0m.3 .5h0m5.3-.3h0m1.4-.2h0m4.1 .3h0m3-.2h0m-34.7 .8h0m2.4 .3h0m2.2-.4h0m.9-.1h0m3.2 .1h0m1.5 .1h0m1.8 0h0m.8-.2h0m.2 0h0m.6 .1h0m1.6-.1h0m.6 .5h0m.9-.2h0m1.2-.1h0m.2-.3h0m5.7 0h0m.7 .2h0m.6-.2h0m5.1 .6h0m.5-.3h0m1.8-.1h0m.9 .1h0m1-.1h0m-38.9 .5h0m2.2 0h0m1.4 .1h0m.6 .1h0m19.7-.2h0m4.5 .4h0m.8-.2h0m1.1 .1h0m2.5-.1h0m1.4 .2h0m3.6-.4h0m4.4 .2h0m-10.9 .8h0m1.1-.2h0m6.6-.1h0m-13.8 .7h0m.7-.1h0m3 .4h0m5.2 0h0m1.3-.3h0m1 .3h0m2.6-.3h0m2.8 .3h0m1.9-.3h0m-18.3 .6h0m1.6 .3h0m1-.4h0m1.7 .3h0m.9-.2h0m1.6 .3h0m2.5 0h0m3.1 0h0m1 0h0m-13.2 .8h0m1.9-.3h0m.8 0h0m.7 .1h0m2.4-.2h0m.8 0h0m.2 .1h0m2.7 .2h0m1.3 0h0m.8-.4h0m.7 .2h0m2 .3h0m-14.2 .2h0m.4 .4h0m.8-.4h0m2.2 .3h0m1.9 .2h0m1.7-.3h0m2.6-.2h0m.7 .4h0m2.8-.1h0m-12.9 .6h0m1.5 0h0m1.6 .2h0m.9-.1h0m1.2 .1h0m2.4-.2h0m.7 .1h0m11.3 .1h0m-17.9 .3h0m.2 .1h0m2.5-.1h0m1.7 0h0m1.5 .3h0m3.6-.1h0m.9-.3h0m.5 0h0m5.9-.1h0m-14.9 .8h0m1.2 .4h0m2.8 0h0m3-.4h0m3.2 .3h0m.9 0h0m1.8-.2h0m.5 .3h0m.6-.1h0m1.1-.2h0m-18.4 .6h0m2.2 .1h0m3-.2h0m.5 .3h0m1.8-.1h0m.9-.3h0m5.4 .4h0m1.7-.2h0m1.6 0h0m-16.5 .8h0m.5-.3h0m.9 .3h0m.9-.1h0m1.3 .1h0m2.5 0h0m1.7 0h0m5.4-.1h0m3.5 .2h0m1.2 0h0m2.4-.2h0m5.2 0h0m-25.3 .5h0m.7 .5h0m.4-.4h0m.7 0h0m.7 0h0m.3-.1h0m.7 .2h0m1.1 .2h0m.8-.1h0m2.6-.1h0m1.5 0h0m5.3-.2h0m1.9 .5h0m.8-.4h0m2-.1h0m.7 0h0m3.5 .5h0m3.9-.2h0m-27.6 .3h0m.5 .1h0m.6 .3h0m1.3-.1h0m1.7-.3h0m.7 .4h0m1.5 .1h0m.9-.4h0m.6 .4h0m.7 0h0m.2-.1h0m1.1 0h0m.3-.3h0m1 0h0m.6 .2h0m.9 0h0m.8 0h0m-14.5 .7h0m.6-.1h0m.7 .2h0m.7-.3h0m.6 0h0m1-.1h0m.5 .4h0m.8-.4h0m.3 .1h0m2.7 .2h0m.6-.1h0m1-.1h0m.7 .1h0m2.6 0h0m.5 .1h0m-12.9 .7h0m.4 0h0m.9-.4h0m.3 .4h0m.8 0h0m.4-.3h0m.9 .2h0m.8 .2h0m1 0h0m1-.4h0m1.1 .1h0m11 .2h0m.9 .1h0m-20.3 .2h0m.7 .2h0m.6-.2h0m.8 .4h0m.3-.4h0m1.1 0h0m.6 .1h0m.4 .1h0m.8-.3h0m1 .1h0m.7 .3h0m1-.2h0m2.3 .2h0m1.3 .2h0m2.2-.4h0m-14.4 1h0m.4 0h0m.9-.4h0m.6 .4h0m.9 0h0m.8-.1h0m.7-.1h0m.9 0h0m.5 .1h0m.9-.4h0m1 .5h0m1.5-.3h0m1.4 .2h0m3.3 .1h0m.2-.2h0m2.1 0h0m.5 .1h0m.9-.2h0m1.4-.1h0m.5 0h0m1-.1h0m5.8 .3h0m-26.7 .8h0m.3-.3h0m.9 0h0m.6 0h0m1.2 .2h0m.4-.3h0m.8 0h0m1 .3h0m.3-.2h0m1.2 .1h0m.7 .1h0m.6-.4h0m1.8 .5h0m4.3-.2h0m1.1 .1h0m.7 0h0m.6 0h0m1.5-.3h0m1.3-.1h0m1.2 .5h0m-20 .3h0m.8 .1h0m.3 0h0m1.2 .3h0m2.2-.5h0m.8 .2h0m.6 .2h0m.6 0h0m.7-.2h0m2.2 .2h0m5.3-.1h0m1 0h0m1 .1h0m.6-.3h0m2.7 .4h0m7.5-.5h0m1 .4h0m-29.3 .5h0m.7-.2h0m.8-.1h0m.6 .3h0m.5 0h0m1-.1h0m.6-.2h0m.4 .4h0m1.4-.2h0m.6 .2h0m.4-.2h0m.8-.2h0m2.6 .5h0m1.6 .1h0m1.6-.1h0m1.6-.4h0m.4 .2h0m.9 .1h0m1.3-.3h0m.4 .3h0m.6 0h0m4.3-.4h0m4.4 .3h0m2.1-.2h0m-30 .8h0m.5 .2h0m.4 0h0m.7-.2h0m.6 .3h0m.7-.3h0m1 0h0m.8 .1h0m.5-.2h0m.6 .3h0m1.3-.4h0m.7 .3h0m.6 0h0m.8-.1h0m1.1-.1h0m.5-.1h0m1 .4h0m.6 .1h0m1.1 0h0m.5-.5h0m1.7 .3h0m2.1-.3h0m-17.9 1.1h0m.5-.3h0m.9-.1h0m1.1 .5h0m.5-.4h0m1 .1h0m.7 .1h0m1-.2h0m.9 .1h0m6 .2h0m.4-.1h0m.8-.1h0m2.4 .2h0m3.2-.3h0m1.7 0h0m-21.5 .8h0m.2-.2h0m.9 .4h0m.7 0h0m.5-.1h0m1.3-.4h0m.9 .4h0m.1 0h0m1-.4h0m1.7 .1h0m1.5 0h0m1.7-.1h0m1.5 .2h0m1.6 0h0m.8-.2h0m2 .4h0m1.4-.3h0m.9 0h0m9.1-.1h0m-27.8 1h0m.2-.3h0m.6 0h0m.9 .1h0m.4 .1h0m1 0h0m.6-.1h0m.4 .3h0m1.4-.4h0m2.4 .3h0m1.4 0h0m.9 0h0m1.4 .1h0m1.6-.2h0m.9 .1h0m.5 0h0m2.1 .1h0m2.1-.4h0m1.5 .1h0m4.3 .4h0m-25.2 .4h0m1.2-.2h0m.1-.1h0m1.2 0h0m1.9 .3h0m.5-.1h0m.3 0h0m1.1-.2h0m.8 .2h0m2.3 .2h0m.5-.4h0m.6 0h0m1.1 .3h0m1.8-.3h0m.3 0h0m4.6 .5h0m5.6-.4h0m-24.3 .8h0m.7 .1h0m.9 .1h0m.2-.4h0m.6 .4h0m1-.4h0m.6 .1h0m2.7 0h0m2.2 .1h0m2.3-.3h0m.8 .2h0m3 0h0m1.4 0h0m3.7 .3h0m2.8 .1h0m1-.4h0m1.1 .1h0m-25.4 .5h0m.5 .4h0m.4-.1h0m1 0h0m.7 0h0m1-.2h0m1-.1h0m.3 .1h0m.7 .1h0m1.5-.3h0m3.3 .2h0m.5 0h0m.7-.1h0m.5 .3h0m1.1-.3h0m8.6 .2h0m-21.5 .8h0m.9-.2h0m1.4-.1h0m.5-.2h0m.7 .3h0m.6 .1h0m.6 .1h0m.6-.3h0m.7-.1h0m1.4-.1h0m.8 .4h0m.8 0h0m1.9-.2h0m3.3 .4h0m1.4-.1h0m1.6-.4h0m3.2-.1h0m5.9 .2h0m7.4 .1h0m-34 .8h0m.7 0h0m.2-.1h0m1.7-.2h0m2.2 .3h0m2.9-.3h0m1.4 .4h0m5.5-.1h0m1.1 0h0m.3 .1h0m-16.8 .4h0m.9-.3h0m.5 .4h0m.8-.2h0m.2 .1h0m.6-.1h0m1.1 0h0m.2-.1h0m.6 .1h0m1.7-.1h0m.3 .2h0m1.6 0h0m.5 0h0m1.5 .1h0m.4 0h0m3 .2h0m.3-.1h0m1.8 0h0m.7-.4h0m11.7 0h0m-28.4 1h0m.4-.1h0m.6 .2h0m1.1-.1h0m.4 0h0m.9-.4h0m1.2 .2h0m.9 .3h0m6.1-.1h0m1.4 .1h0m.4-.2h0m.9-.3h0m6.7 .4h0m5.8 0h0m3.2 .1h0m3-.4h0m-33.7 .8h0m.6 .2h0m.7-.5h0m.4 .2h0m1 .2h0m.8-.2h0m.3-.1h0m.9-.1h0m1.1 .2h0m.8 0h0m1.1-.1h0m.6 .2h0m1.3-.2h0m1.7 .4h0m.6-.3h0m.7 .2h0m6.5 0h0m1.9-.2h0m1.1-.1h0m2.8 0h0m3.7 .2h0m-28.5 .8h0m.8-.1h0m.4-.1h0m.8 .3h0m.7 0h0m.4-.3h0m.9 .3h0m.7-.2h0m.6 .2h0m.8 0h0m5.7-.4h0m.7-.1h0m1.1 0h0m1.2 .1h0m2.4 0h0m15 .4h0m3-.2h0m-35.7 .6h0m.6-.1h0m.2 .1h0m.7 0h0m.9 .2h0m.9-.1h0m.4 0h0m.9 0h0m.8-.1h0m1.1 0h0m.2-.2h0m1.9 .2h0m2.9 .2h0m5.6-.2h0m1.9 0h0m2.6 .1h0m1.3 .1h0m1.1-.3h0m1 .1h0m4.8 0h0m-30 .9h0m.6-.4h0m.5 .2h0m.6 .2h0m.7 0h0m1.2-.5h0m2.1 .4h0m.8-.3h0m1.6 .2h0m.8 0h0m2.2 .2h0m.6 0h0m1.9 0h0m5.2-.4h0m4.5 0h0m1.1 .4h0m1.3-.4h0m4.4 .1h0m-30.5 .6h0m.5-.2h0m.4 0h0m1 .3h0m.5-.1h0m.8 0h0m.7 0h0m.2 .1h0m1.1 0h0m.1-.1h0m2.6 .3h0m.9 .1h0m.7-.3h0m2.8 .1h0m.3-.1h0m2.5-.1h0m-15.2 .5h0m.2 .1h0m.7 .1h0m1.1 .2h0m.6-.4h0m.2 .2h0m.9 .3h0m1.1-.5h0m1.6 .3h0m1.6 .2h0m1.7-.1h0m1-.3h0m1.9 .3h0m2.2-.1h0m3.5-.2h0m1.5 .1h0m1.5 .2h0m3.7-.2h0m.8 0h0m-26 .5h0m.7 .3h0m.7-.4h0m.6 .4h0m.6 .1h0m.6-.4h0m.5 .4h0m1.2-.1h0m3.7-.4h0m1 0h0m.8 .2h0m.9 .4h0m.4-.4h0m2.8 .1h0m.4-.3h0m4.2 .2h0m-19 .7h0m.8 0h0m.5 .3h0m.8 0h0m.1-.2h0m1.6-.1h0m3.4 .2h0m.8-.4h0m1.1 0h0m6.9 0h0m2.3 .3h0m9.2-.1h0m.2-.1h0m-27.7 .9h0m.4-.3h0m.9 .1h0m.6 .3h0m.3 0h0m.9-.2h0m.7 .1h0m1.3 .1h0m3.7-.2h0m4.6-.2h0m1 .4h0m1.5-.4h0m3.7 0h0m4.7 .4h0m4.3-.3h0m-28.5 .5h0m.6 .3h0m.7-.1h0m.6 .3h0m.6 0h0m2.2 0h0m.7-.5h0m2 .3h0m2.6 .1h0m1.6-.3h0m6.2 .3h0m1.3-.4h0m-18.9 1.1h0m1.1-.5h0m.5 .4h0m.6 0h0m2.7-.2h0m2.9-.1h0m2.1 0h0m2.1 .4h0m.8-.2h0m.2-.1h0m1.3 .4h0m1.6-.5h0m2 0h0m1.8 .3h0m4.3-.3h0m.9 .4h0m6.8-.3h0m-31.6 .9h0m.6-.3h0m1 .1h0m.4-.2h0m1.1 0h0m1.7 .5h0m.7-.2h0m.6 .2h0m1.8-.2h0m.9-.3h0m.6 .3h0m3.2 .2h0m.5-.1h0m3.1-.2h0m1.5-.1h0m1.5 .3h0m-19.3 .5h0m.7 .1h0m.9 .1h0m.4 0h0m.6-.2h0m.6 .1h0m2.4-.2h0m2.3 0h0m1.4-.2h0m5.4 0h0m3 .5h0m3.2 0h0m8.5-.4h0m5.2 .4h0m-34.8 .4h0m.6 .2h0m.4 .1h0m.9-.1h0m1.1-.3h0m1 .1h0m1.9 .2h0m1.1-.2h0m.4 .2h0m2.3 0h0m1.8-.1h0m2.9-.3h0m5.8 .5h0m2.3-.4h0m-22.9 1.1h0m1.1-.3h0m.6 .1h0m.4 0h0m.4-.3h0m1.1 0h0m.8 .3h0m.7 .1h0m.8-.3h0m2.8 .3h0m4.1-.2h0m.9 0h0m5.4-.2h0m-19.2 .9h0m.9-.3h0m.6 .2h0m.7 0h0m.5 0h0m.9 .2h0m1.3 .1h0m1.1-.3h0m2.1 0h0m2.1 .3h0m.6-.5h0m7.1 .1h0m6 .4h0m2-.4h0m8.1 .3h0m-33.4 .3h0m.6 0h0m.6 .1h0m1.7 .3h0m.7-.4h0m1.3 .4h0m.4 .1h0m11.9-.4h0m.9-.1h0m2-.1h0m15.5 .4h0m1.3 .2h0m-37.2 .1h0m.7 .1h0m.5 .3h0m.9 0h0m.4-.2h0m1-.2h0m1.5 .2h0m2 .2h0m1.7-.4h0m.3 0h0m2.8 .3h0m1-.1h0m1 0h0m1.4 0h0m15.8 .2h0m-31.1 .3h0m.8 .3h0m.4 0h0m.7-.4h0m.9 .2h0m.8 .3h0m.8 0h0m1 0h0m.4-.4h0m1.5 .3h0m.4 .1h0m4-.3h0m1.9 .2h0m2.6 .1h0m8.2 0h0m9-.1h0m-33.7 .6h0m.5-.2h0m.8 .1h0m.5 .1h0m.9 .2h0m.9-.1h0m1-.4h0m.6 0h0m.5 .5h0m5.1-.4h0m.7 .2h0m4.3-.1h0m1-.1h0m7.5-.1h0m2.1 .1h0m-26.1 .6h0m.9 .1h0m1.4-.2h0m.4 .5h0m1 0h0m1.2-.2h0m.4 0h0m.9 .2h0m1.5-.2h0m.7 0h0m1.1 .1h0m2.6-.3h0m1.1 0h0m.6 .1h0m.4 .3h0m-14.6 .6h0m.4 .1h0m.5-.2h0m.7-.1h0m1.1-.1h0m.1-.1h0m.9 0h0m1.1 .2h0m1.1 .3h0m.5-.4h0m.3 .1h0m1.1-.1h0m.3 .2h0m2.5-.1h0m4.1 .1h0m1-.1h0m-15.5 1h0m.8-.1h0m.6 0h0m.6 0h0m.6-.5h0m1.1 .4h0m.5-.3h0m.5 .1h0m.9 .2h0m.3-.3h0m.7 .3h0m.9 0h0m.4 .2h0m1.6-.2h0m1 0h0m.9-.2h0m2 .1h0m1.5-.2h0m2.1 .4h0m4-.4h0m3.3 .3h0m-24 .5h0m.8 .2h0m.4 0h0m.6-.4h0m.5 .1h0m.7 .2h0m.7-.1h0m2.2 0h0m.5 .2h0m.6-.1h0m.8 .1h0m2-.2h0m2.8-.2h0m6.7 .2h0m9.3 .1h0m-29.1 .7h0m.7-.1h0m.2 0h0m.6 0h0m.8-.3h0m.9 .3h0m1.5 .1h0m1.5 .2h0m1.5-.2h0m1.5 .2h0m1.2-.3h0m1.9-.1h0m3.4-.2h0m5.1 .2h0m-20.3 .8h0m.4 .1h0m.7 .1h0m.7 0h0m.9-.4h0m2.8 .3h0m.2 0h0m.5 0h0m1.4-.2h0m1 .1h0m1.5-.1h0m1.1 .1h0m.3-.1h0m3 .1h0m17.6 0h0m-31.8 .6h0m.2 .1h0m1.1-.2h0m.5 .2h0m.3-.3h0m.8 .1h0m1.5 .3h0m.7-.2h0m1.6-.2h0m.5 .3h0m2.5-.1h0m3.1-.2h0m1.4 .1h0m2.7 .1h0m11.6-.1h0m-29.3 .8h0m.6 0h0m.6-.3h0m.8 .2h0m.5-.2h0m.9 .1h0m1.8 .3h0m.4-.2h0m1.4 .3h0m.9 0h0m.3-.5h0m.7 .2h0m.8 .3h0m.3-.2h0m2.3 .1h0m-12.4 .8h0m.4 0h0m.8-.3h0m.5 .2h0m1-.4h0m.8 .1h0m1 0h0m1.8 .2h0m2.1-.1h0m1.4 0h0m.5 .3h0m6.5-.2h0m3.2 0h0m-19.6 .6h0m.9 .2h0m.5-.4h0m.9-.1h0m.9 .4h0m1.4 0h0m.9-.2h0m1.4-.2h0m1.1 .5h0m.9-.5h0m.1 .4h0m3-.2h0m2.5 .3h0m4.1 0h0m10.5 0h0m5.8-.3h0m-35.3 .9h0m.7-.2h0m.8-.2h0m.5 .4h0m.5 0h0m.4 0h0m1.8-.5h0m2.5 .4h0m1.3-.3h0m4.3 .1h0m1.6-.1h0m2.6 .3h0m.4-.2h0m3.4-.1h0m4.2 .1h0m3.6 .2h0m-28.2 .7h0m1.1 0h0m.6-.1h0m.4-.1h0m1 .1h0m.4-.1h0m2-.2h0m.6 .3h0m.4 .2h0m.8-.1h0m.8-.1h0m.3-.2h0m.9 .1h0m2.6 .3h0m3.1-.4h0m.8-.1h0m5.2 .4h0m1.5-.4h0m2.9 .5h0m-25.6 .6h0m.4-.3h0m.6 .2h0m.7-.3h0m.8 .1h0m1.9 .1h0m1.4 .3h0m.5 0h0m1.2-.5h0m1.4 .1h0m1.3 .2h0m2.8-.2h0m5.6 0h0m4.5 .3h0m2.2-.4h0m5.8 0h0m-30.8 1h0m.6 0h0m.9 0h0m.7 0h0m1.5 0h0m1.4-.4h0m.6 .5h0m3.4-.4h0m5.8 .2h0m.8-.2h0m-16.4 .9h0m1-.4h0m.5 .4h0m.6-.3h0m2.5 .2h0m1-.1h0m.5 .2h0m.3-.3h0m3 .2h0m1.3 .1h0m.8-.3h0m.2 .1h0m3.6 0h0m-14.3 .8h0m.9-.2h0m.8-.1h0m.7 .4h0m2-.1h0m.6 0h0m3.6-.1h0m1.5 0h0m6.4-.1h0m.9 0h0m3.7 .4h0m2.9-.1h0m8.5 0h0m-33.4 .4h0m.9 .2h0m.7 .1h0m.6 0h0m.2 .1h0m1.8-.5h0m.8 .1h0m.7 .4h0m1.4-.2h0m2.2-.1h0m1-.1h0m8.8 .2h0m1.1 .1h0m16.7-.4h0m-35.9 .7h0m.5 .1h0m.6 .1h0m.6-.2h0m.8 .2h0m2-.1h0m.9 0h0m.6 .2h0m.8 0h0m3.3-.2h0m6 .1h0m.5-.1h0m1.4 .1h0m-19.1 .8h0m.5-.1h0m.8-.1h0m1.6-.1h0m.8-.1h0m1 .2h0m.4 .2h0m1 0h0m2.3-.2h0m1.3 0h0m.9 .1h0m-10.6 .5h0m1 .1h0m.2-.3h0m.8 .3h0m.9 .1h0m.3-.1h0m1.3 .2h0m1.3 0h0m1.6-.4h0m1.4 .3h0m2-.3h0m1.6-.1h0m3.2 .2h0m11.8-.2h0m-27 .7h0m.6 .3h0m.4-.1h0m.8-.1h0m.3 .2h0m.6-.2h0m1.6 0h0m2.6 .3h0m5-.3h0m2.9 .1h0m.8 .2h0m5.6-.1h0m8.5-.2h0m1.4 .3h0m-31.1 .3h0m.4 .4h0m.6-.4h0m.7 0h0m1.1 .4h0m.8-.5h0m.6 .5h0m1.3-.5h0m.7 .4h0m.4-.2h0m.9 0h0m.8 0h0m1.3 0h0m.3 .1h0m.6 .2h0m2.3-.3h0m2.3-.1h0m-15.4 .8h0m.5 .1h0m1 0h0m.5-.2h0m.5-.1h0m1.1 .4h0m.2 0h0m.8 .1h0m.9-.2h0m1.3-.4h0m2.5 .4h0m.7 .1h0m3.1 0h0m19.2-.2h0m-32.4 .7h0m.8 0h0m.5 .2h0m.8-.2h0m.5-.1h0m.9 .2h0m.8-.2h0m.4 .3h0m.8 0h0m.7-.2h0m.3 .2h0m.8-.3h0m2.2 .3h0m8.4-.3h0m4.2 0h0m3.6 .1h0m-25.7 .7h0m.6 .1h0m1-.1h0m.3-.3h0m1.5 0h0m.8 .2h0m.2 .1h0m.8 0h0m1.2-.1h0m.8-.2h0m.7 .1h0m.9-.1h0m.3 .1h0m1.4 .2h0m1.2-.1h0m6.2-.1h0m2.5 .2h0m3.1-.4h0" stroke="#000" stroke-opacity="0.9" stroke-width="0.75" stroke-linecap="square" fill="none" filter="url(#b0)"/>
<path d="M46.80 137.00 L60.00 136.00 L72.00 136.50 L74.00 144.00 L70.00 152.00 L66.50 160.00 L65.50 186.30 L46.80 186.30 Z" fill="#000" fill-opacity="1.0" filter="url(#b1)"/>
<ellipse cx="82.3" cy="140.2" rx="7.2" ry="6.8" transform="rotate(0 82.3 140.2)" fill="#000" fill-opacity="1.0" filter="url(#b1)"/>
<ellipse cx="82.3" cy="139.9" rx="8.6" ry="8.3" transform="rotate(-10 82.3 139.9)" fill="none" stroke="#95183f" stroke-width="1.9"/>
<text x="78.40" y="128.26" font-size="8.3" fill="#7a2d4c" stroke="#7a2d4c" stroke-width="0.12" textLength="10.60" lengthAdjust="spacingAndGlyphs">7.2</text>
<rect x="46.80" y="112.30" width="74.10" height="74.00" fill="none" stroke="#8a8a8a" stroke-width="0.9"/>
<path d="M46.80 170.21h1.3 M46.80 154.13h1.3 M46.80 138.04h1.3 M46.80 121.95h1.3 M62.91 186.30v-1.3 M79.02 186.30v-1.3 M95.13 186.30v-1.3 M111.23 186.30v-1.3" stroke="#444" stroke-width="0.7" fill="none"/>
<path d="M153.3 119.3h0m24.3-.3h0m-38.4 8.6h0m18.2-.2h0m-13.7 8.4h0m28.8 3.7h0m16.7 .3h0m-.3 1.2h0m-11.8 1.8h0m-43.4 1.2h0m62.9 2h0m-25.4 1.9h0m-23.6 1.8h0m-16.1 4.9h0m19.5 .2h0m26.2 0h0m18.1 2.8h0m-12.9 1.8h0m-22.8 6.1h0m14-.1h0m11.4 .3h0m-50.6 5.7h0m50.6-.4h0m-42.3 .6h0m18.3 1.2h0m11.6 1.1h0m11.5 1.8h0m9.1 .1h0m-65.1 4.3h0m61 4h0" stroke="#000" stroke-opacity="0.35" stroke-width="0.75" stroke-linecap="square" fill="none" filter="url(#b0)"/>
<path d="M139.6 130.6h0m-5.6 2.2h0m7.5-.3h0m2.9 .2h0m6.7 .3h0m-19.6 .5h0m6.3 .7h0m8.8-.2h0m-20.8 .9h0m1-.1h0m20.8 0h0m2.4 0h0m-19.2 .7h0m6.1 .1h0m4.9-.3h0m2 0h0m1.3-.1h0m.5 0h0m4.7 0h0m-24.5 1h0m1.1-.2h0m1.5 .3h0m1.9 0h0m1.4-.1h0m5.2-.2h0m3.6 .3h0m.7-.3h0m2.7-.2h0m2.9 .3h0m1.7-.1h0m-22.6 .6h0m.5 .3h0m3.4-.3h0m5.7-.1h0m4 .3h0m1.3 0h0m.6 0h0m1.2-.4h0m1.4 .4h0m.6 0h0m.7 .1h0m2.6 0h0m.8 0h0m.6-.1h0m1.2-.4h0m1.9 .3h0m-26.9 .7h0m1 0h0m1-.3h0m1.5 .2h0m.4-.3h0m1.5 .3h0m1.4 0h0m.4-.1h0m.6-.2h0m2.7 .2h0m1.3 0h0m.6 .2h0m2.5-.2h0m1 0h0m1.2 .1h0m1.4-.2h0m2 0h0m1.3 0h0m1.4 .2h0m1.1-.1h0m.5 .4h0m1 0h0m-1.4 .5h0m.8 .1h0m1.7-.4h0m.9 .2h0m-3.2 .3h0m.9 .4h0m1.1 .2h0m-2.1 .1h0m.5 .4h0m1.5-.3h0m-2.2 .8h0m.9 .1h0m-.8 .4h0m.4 .1h0m-.7 .8h0m-.2 .8h0m1.5-.5h0m-.7 .6h0m3.1 .2h0m-4 .5h0m.2 .5h0m.7-.2h0m1.5 .2h0m10.9-.3h0m-13.3 .8h0m.5-.2h0m1.3 .1h0m.6 .2h0m1.8 0h0m-4.4 .5h0m1.2 0h0m.8-.3h0m-1.7 1.2h0m.2-.4h0m.8-.1h0m2.4 .2h0m1.1-.2h0m-4.8 1.1h0m.7-.2h0m.5-.1h0m1-.2h0m.2 .3h0m13.1 .2h0m-14.9 .6h0m.9-.2h0m-.8 .8h0m1.5-.3h0m.5-.1h0m3 .1h0m.8 0h0m-6.4 .7h0m1.4 0h0m-1.2 .5h0m.5 .5h0m.8-.1h0m2.5 .1h0m-4 .6h0m.7-.1h0m1.6 0h0m.8 0h0m1.3 .2h0m.6-.2h0m-5.2 .5h0m.8-.1h0m2.7 .2h0m-3.9 .8h0m.5-.3h0m1.5 .3h0m-2.2 .5h0m.8 .1h0m.5-.2h0m.8-.1h0m1.8 .3h0m13-.1h0m-16.5 .5h0m.4 .3h0m.5-.3h0m.8 .4h0m2-.2h0m-3.1 .5h0m1.3 .2h0m3.7 .1h0m3.7 0h0m-10.4 .3h0m1-.2h0m.5 .5h0m1.3-.3h0m1.2 .1h0m3.4-.1h0m.6 0h0m.9 0h0m-8.8 .9h0m.5 .1h0m.9-.1h0m.7-.4h0m.4 .3h0m2.4-.3h0m-5.1 1.2h0m1-.4h0m.3 .4h0m3.4-.5h0m2.5 .1h0m-7.4 1h0m.7-.3h0m.4 0h0m.6 .3h0m.8 0h0m1.8-.4h0m-4.6 .7h0m1-.1h0m2.1 0h0m3.4 .5h0m-6.5 .5h0m.7-.4h0m1 .2h0m2.6 0h0m-4.7 .8h0m.3 0h0m.6 .2h0m.9-.2h0m.4 0h0m-2.3 .4h0m.5 .1h0m.9 .1h0m.3 .2h0m.9 0h0m-2.5 .4h0m.5 .1h0m.4-.1h0m1.2 .1h0m.1-.2h0m-2.2 .7h0m1.3 .3h0m.3 0h0m.9-.3h0m-3.2 .8h0m.3 .1h0m.8-.2h0m.7-.3h0m2.7 .3h0m-4.6 .8h0m1.6-.4h0m2.3 .2h0m-3.9 .8h0m.7 .2h0m.3-.5h0m.8 .3h0m1.3-.4h0m-3.4 1.1h0m1.2 .1h0m.5-.4h0m.5 .2h0m1.1-.2h0m-3.2 .7h0m.6 .4h0m1-.3h0m2-.1h0m-3.6 .9h0m.9-.3h0m1.4 .4h0m1.1-.1h0m-3.7 .6h0m.4 0h0m1 0h0m-1.7 .5h0m1.5 .3h0m1-.3h0m2.1-.1h0m2 .4h0m.8-.1h0m-7 .8h0m.4-.4h0m2 .1h0m1.4 .1h0m-4.5 .7h0m.6-.3h0m.7 .1h0m3.3 0h0m.3 .1h0m-5 .4h0m.6 .3h0m.4 .1h0m3.1-.1h0m3.7-.3h0m-7.4 .6h0m.7 .1h0m-1.3 .8h0m1-.2h0m.3 .3h0m.7-.4h0m-2 1.1h0m1-.3h0m.6-.1h0m.3 .3h0m1.8 .1h0m3.8-.4h0m-7.6 .9h0m1.1 0h0m1.3-.2h0m2 0h0m-4.8 .8h0m.8 .2h0m.6 .1h0m.7-.4h0m.7 0h0m-1.3 .7h0m1.1 .3h0m-2.4 .4h0m.5 .1h0m2.2-.2h0m5.3 .1h0m-8.2 1h0m.7-.4h0m.7 0h0m3 .1h0m2.9 .2h0m-7.7 .4h0m.3-.1h0m.9-.1h0m1.1 .5h0m1.1-.3h0m-3 .8h0m.5-.2h0m1.6 .4h0m-2.3 .3h0m.6 0h0m1-.2h0m.7 .5h0m2.4-.5h0m-5.2 .7h0m.5 0h0m.5 .5h0m.9 0h0m1.8-.6h0m.9 .5h0m2.1-.2h0m.9 .2h0m2.3 0h0m-10 .7h0m.6-.1h0m.6-.2h0m1.5-.1h0m-2.7 .9h0m.7 .1h0m1.5-.1h0m.4-.1h0m.9-.1h0m4.6 0h0m-7.9 1h0m.4 0h0m.6-.5h0m2.1 .2h0m-3.6 .9h0m.5-.3h0m.5 .4h0m.5 0h0m1.5-.4h0m1.2 .1h0m2.3-.3h0m-6.3 1.1h0m1.1-.2h0m.9-.1h0m9.7-.1h0m-11.4 .9h0m.7 0h0m.3-.1h0m1.8 .3h0m.3-.1h0m4.8-.3h0m2.2 .4h0m-10.4 .4h0m2-.1h0m3 .2h0m-5.7 .3h0m.9 .5h0m.5 .1h0m2.1-.2h0m-3.3 .4h0m.5 .1h0m.8 0h0m1.4 .3h0m4 0h0m-6.5 .2h0m.4 .2h0m4.9-.3h0m-5.4 .8h0m.5 .1h0m.5 0h0m1.3 0h0m3.3 .2h0m-6.3 .7h0m.6-.2h0m.8-.3h0m.3 .1h0m3.1 0h0m.7 0h0m.4 .2h0m1.9 .1h0m-7.7 .3h0m.8 .1h0m.4 .4h0m.8-.3h0m.7 0h0m.2 .8h0m2.2-.3h0m1.7 .1h0m-7.1 .7h0m.8 .1h0m.7 .1h0m.4-.4h0m1.1 .1h0m.4-.1h0m.7 .4h0m.9 0h0m-5.3 .6h0m.7-.3h0m.2 .4h0m1-.2h0m2.4 0h0m-3.7 .6h0m.4 .1h0m1.2 .2h0m11.1-.3h0m-12.9 .6h0m.7 .2h0m.8-.3h0m.7 .5h0" stroke="#000" stroke-opacity="0.9" stroke-width="0.75" stroke-linecap="square" fill="none" filter="url(#b0)"/>
<path d="M124.80 137.60 L149.70 137.30 L148.50 150.00 L146.60 156.00 L143.50 171.50 L141.20 186.30 L124.80 186.30 Z" fill="#000" fill-opacity="1.0" filter="url(#b1)"/>
<ellipse cx="160.2" cy="140.5" rx="9.8" ry="9.2" transform="rotate(-10 160.2 140.5)" fill="none" stroke="#2b3c69" stroke-width="1.5"/>
<text x="154.50" y="127.46" font-size="8.3" fill="#4a5a78" stroke="#4a5a78" stroke-width="0.12" textLength="14.40" lengthAdjust="spacingAndGlyphs">0.12</text>
<rect x="124.80" y="112.30" width="73.80" height="74.00" fill="none" stroke="#8a8a8a" stroke-width="0.9"/>
<path d="M124.80 170.21h1.3 M124.80 154.13h1.3 M124.80 138.04h1.3 M124.80 121.95h1.3 M140.84 186.30v-1.3 M156.89 186.30v-1.3 M172.93 186.30v-1.3 M188.97 186.30v-1.3" stroke="#444" stroke-width="0.7" fill="none"/>
<path d="M59.3 197.1h0m18.3 0h0m-24.5 4.1h0m31.9-.1h0m16.5 2.8h0m-12.7 3.4h0m28.9 .3h0m-17.9 14.6h0m-5.4 2.9h0m20.8 3.2h0m-6.3 2.2h0m6 1.7h0m-55.2 2.8h0m30.7 2.5h0m-35.9 2.1h0m60.9 .1h0m-27.5 2.1h0m4.1 3.6h0m6.7 2.8h0m-16.1 .7h0m7.5 1.5h0m14.6 1.9h0m-9 8.4h0m-41.4 .9h0" stroke="#000" stroke-opacity="0.35" stroke-width="0.75" stroke-linecap="square" fill="none" filter="url(#b0)"/>
<path d="M80.8 207.7h0m2.5 .7h0m-1.2 .4h0m5.4-.2h0m-10.4 .9h0m8.6-.3h0m-34.2 1h0m25.5 .1h0m3.1-.1h0m-29.5 .8h0m2.2 0h0m32.2 0h0m-34.4 .4h0m3.8 .1h0m15.3-.1h0m6.9-.1h0m.7-.1h0m3.8 .2h0m3.1 .2h0m.6-.3h0m3.3 .2h0m2 0h0m-36 .6h0m.9 0h0m.3-.2h0m1.5 0h0m.7 .2h0m3.6 .1h0m2.7-.3h0m14.5 .3h0m.6-.3h0m1.6 .2h0m.8-.2h0m-33.2 1h0m1.1 .1h0m.4-.1h0m1.5 0h0m6.8-.2h0m4.3-.1h0m1.7 .1h0m8.8-.2h0m2.2 .2h0m4.2 .1h0m.9-.4h0m1.4 .2h0m.6 .2h0m2.4-.2h0m2.6 .2h0m-39.4 .7h0m2.1-.4h0m1.2 .4h0m1.6-.4h0m1.3 .4h0m4-.2h0m3.4 .3h0m3.9 0h0m2.2-.4h0m2.6 .1h0m2 .2h0m.3-.2h0m.6 .3h0m5.8 0h0m2.2-.2h0m1.3 .1h0m5.4-.2h0m-39 .6h0m1.5 0h0m.1 .3h0m1.1-.3h0m1.7 .1h0m1.5 .3h0m2-.4h0m1.2-.1h0m1.6 .1h0m5.3 .3h0m.7-.1h0m.6-.3h0m.9 .4h0m.6-.2h0m.6-.3h0m.9 .1h0m.3 .4h0m.5-.4h0m2.5 .4h0m1.1 0h0m.8-.4h0m.7 .5h0m.5 0h0m8.3 0h0m5.3-.2h0m-41.2 .3h0m.9 .1h0m.5 .3h0m.7-.4h0m1.3 .1h0m1.5 .4h0m.3-.1h0m.8-.1h0m.5-.2h0m1.2 0h0m1.8 .2h0m.6-.1h0m1.9 0h0m1.8 .1h0m1.2 0h0m7.5-.3h0m.5 0h0m.6 0h0m2.8 .4h0m.2-.3h0m1 .2h0m1.4-.3h0m1.5 .3h0m1.4-.2h0m.6 .3h0m2.3-.3h0m.6 .1h0m.2 .3h0m1 0h0m1.7-.1h0m.7 .1h0m2.8 0h0m.8-.4h0m1.5 .4h0m-17.5 .7h0m.6-.2h0m2.9-.4h0m1.8 .5h0m1.3 0h0m2.4-.4h0m1 .4h0m-9.4 .6h0m.7 .1h0m2.9-.4h0m.7 .1h0m2.6 .3h0m1.2-.2h0m1.1-.1h0m1 .1h0m1.7-.1h0m.4-.1h0m-11.3 .9h0m3.9 .2h0m1.2-.3h0m2.8-.2h0m.7 0h0m1.2 .3h0m.3-.3h0m-11.8 .8h0m1.2 .1h0m.8 0h0m2.1 .2h0m.7-.3h0m2.6 .2h0m.4-.1h0m1.2-.1h0m3.9 .1h0m1.3-.2h0m3.4 .4h0m1 0h0m1.3-.4h0m-19.1 .5h0m1.5 .1h0m.7 .5h0m1.1-.2h0m.9 .2h0m1.3-.2h0m.7-.3h0m.3 .2h0m.8 0h0m3.2 0h0m2 .2h0m.7-.3h0m.7 .2h0m-13.2 .3h0m.6 .3h0m2.4-.2h0m.5 .4h0m1.8-.5h0m2.9 .1h0m1.3 0h0m3.5 .2h0m1-.2h0m.6 0h0m.5 .4h0m-14.3 .3h0m1.1 0h0m1.7 .2h0m.7-.2h0m.4 .1h0m1.5-.2h0m.6 .1h0m.4-.1h0m4.5 .2h0m-12.6 .6h0m3.3 .2h0m3.1-.2h0m.9 .3h0m3.2-.3h0m3 .3h0m.6-.5h0m-11 1h0m2.2 .1h0m3.3-.1h0m1.1-.2h0m3 0h0m1.1 .2h0m-14.5 .5h0m.6 .1h0m1.6-.2h0m1.9 .4h0m1.6-.3h0m1.8 .3h0m1.4-.5h0m.5 .1h0m1.9-.1h0m1.7 .3h0m2.1-.3h0m-14.8 1.2h0m.6-.5h0m1.5 .4h0m.5-.4h0m2.1 .4h0m.7-.1h0m1.3-.2h0m.8 .3h0m1.1-.1h0m.9-.4h0m1.2 .5h0m.4-.3h0m.8 .3h0m4.9-.4h0m-16 1h0m.8 0h0m1.1 0h0m1.3-.4h0m3.7 .3h0m2 .1h0m.9-.4h0m4.4 0h0m1.8 .4h0m2.9-.3h0m2.7 .3h0m3 0h0m1.3-.1h0m-27 .8h0m1.2-.2h0m9.6 .2h0m4.5-.3h0m.7-.1h0m2.1 .3h0m-17.8 .3h0m.5 .1h0m1.6 .1h0m.4 .3h0m1-.4h0m1.9 .1h0m6.9 .1h0m1.6 .1h0m1.2-.1h0m2.6 0h0m1.4 .2h0m.7-.1h0m5.8 .1h0m-25.8 .6h0m1.1-.4h0m.6 .1h0m.3-.1h0m1.5 .4h0m1.6 0h0m.2-.3h0m1.6-.1h0m.4 0h0m4.1 .3h0m1.4-.1h0m1.3 .1h0m.3 .2h0m2-.3h0m4 .3h0m.5 0h0m2.2-.5h0m1.7 0h0m-24.9 1.1h0m.1-.4h0m.7 0h0m1.5-.1h0m2 0h0m.5 0h0m1.4 .2h0m.8 .2h0m.9-.2h0m5 .1h0m1.8-.1h0m3.8 .1h0m3-.2h0m.6-.1h0m3.5 .1h0m-26.9 .8h0m1.2-.1h0m.2-.1h0m1.2 0h0m.5 .2h0m.3 0h0m.8 .2h0m.5 .1h0m.7-.1h0m.8-.3h0m.8 .2h0m.3 .1h0m1.5 .1h0m2.3-.2h0m.3 0h0m1 0h0m.3-.4h0m1.3 .3h0m1.6-.3h0m.9 .3h0m3.5-.3h0m-27.4 1.2h0m1.8-.3h0m1.6 .1h0m.3-.2h0m1 .1h0m.6 .2h0m.4-.1h0m.5 0h0m.8 .2h0m.5-.1h0m.7 .1h0m.8-.2h0m.5-.1h0m.8 .3h0m.6-.4h0m1 .1h0m.2 .3h0m1.5-.4h0m1-.1h0m2.8 .2h0m.6 0h0m.6 .3h0m1.5 0h0m1.9-.1h0m.8-.4h0m4.1 .2h0m.9-.2h0m2.1 .3h0m3.2-.3h0m-33.1 .7h0m.8 .4h0m.4-.4h0m.8 .2h0m.5 .2h0m.9-.1h0m.6 .2h0m.3-.1h0m1.1-.1h0m.2-.1h0m.9-.3h0m.5 .1h0m1.1 0h0m.5 0h0m.9 .3h0m.9-.1h0m.8-.1h0m.3 .2h0m1 0h0m.7-.3h0m1 .1h0m2.9 .2h0m2.5-.2h0m3.4 0h0m2.1 .2h0m1.5-.2h0m3.4 0h0m-29.9 .5h0m.6 .3h0m.6 .2h0m.4-.2h0m1 .2h0m.6-.5h0m.3 0h0m1.1 .2h0m.7 0h0m1.3 0h0m.5 0h0m.8 .2h0m.7-.2h0m.1 .2h0m.9 .1h0m.6-.2h0m1.9 .2h0m.7-.2h0m1.4 .2h0m.6-.2h0m.9 .1h0m1 .1h0m3.4-.3h0m1.4 0h0m1.1-.1h0m2.2 .4h0m-24.9 .4h0m.4-.2h0m1.2 0h0m.5 0h0m.3 .1h0m1.1-.2h0m.6 .3h0m.7 .1h0m.5-.3h0m.3 .3h0m1.2-.1h0m.5 .2h0m.2-.3h0m.8 .3h0m.8 0h0m.5-.1h0m.7-.1h0m1.4 .1h0m.8-.3h0m1 .3h0m.9 0h0m2.5 .2h0m2.6-.6h0m2.1 .6h0m15.5-.5h0m-37.4 .6h0m.7 .5h0m.7 0h0m.8 0h0m.5-.5h0m1.2 0h0m1.8 .4h0m.3 0h0m.5-.3h0m.8-.1h0m1 .1h0m.7 .3h0m.3-.2h0m.6-.1h0m.9 .4h0m.3-.3h0m1.4-.2h0m1.1 0h0m2.1 .4h0m4.3 .1h0m7-.5h0m-26.8 .8h0m.7-.1h0m.7 0h0m.6 .5h0m.9-.3h0m.6 .2h0m.3 .1h0m.8-.2h0m.7 0h0m.7-.2h0m.6-.1h0m1.6 0h0m.5 .1h0m1-.1h0m.5 .1h0m1.2 .3h0m3.7 0h0m19.3-.1h0m-34.1 .8h0m.7-.3h0m.6 0h0m1.1 0h0m.5-.2h0m.6 .4h0m1.1-.4h0m.7 .2h0m1-.2h0m.9 0h0m.2 .3h0m.7-.1h0m.7-.1h0m.5-.1h0m1 0h0m1.4 .4h0m.2-.3h0m.8 .4h0m1.3 0h0m2.2 0h0m.8-.3h0m7 .2h0m1.5 0h0m2.3 0h0m2 0h0m-30.1 .8h0m.7-.2h0m1.1-.3h0m.9 .5h0m.6-.1h0m3.5-.1h0m.4-.1h0m1.6 .3h0m.4-.4h0m.5 0h0m3.6-.1h0m.7 0h0m.6 0h0m.3 .5h0m.7-.6h0m1.6 .6h0m4.6-.1h0m14.3 0h0m-36.4 .3h0m.4 0h0m1.7-.1h0m2.3 .2h0m.3 .3h0m1.7-.4h0m1.4 .2h0m.1 .2h0m.9-.5h0m.8 .1h0m3 0h0m7.2 .4h0m7.9-.5h0m2.2 .2h0m3.3 .2h0m-33 .8h0m.7-.4h0m.6 .3h0m.8-.2h0m2.4 0h0m2.4-.1h0m.4 .2h0m2-.1h0m1.6-.2h0m.8 .1h0m1.7 .3h0m7.2 .1h0m4.3-.4h0m.8-.1h0m6.4 .1h0m-31.8 .9h0m.5-.1h0m.6 .1h0m.6-.3h0m.8 .1h0m1.4 .3h0m.6-.1h0m.6-.1h0m1.8 0h0m3.6-.2h0m2.3 0h0m4.4 .2h0m6.7-.1h0m-24.5 .9h0m.3-.4h0m.6 .1h0m.8 .2h0m.9-.3h0m1.3 .2h0m.6-.1h0m.4 .1h0m.9 0h0m.5 .2h0m1-.4h0m.6 .4h0m2.9-.4h0m.7 .2h0m.6 .2h0m1.6-.4h0m.2 .4h0m.9-.2h0m4.2 0h0m7.4-.2h0m10.5 .3h0m-36.8 .5h0m.3 .2h0m.9-.2h0m1.4-.1h0m1 0h0m.8 .3h0m1.5-.1h0m1.4-.1h0m1.1 0h0m3.1 0h0m2.1-.2h0m1 0h0m2.1 .1h0m1.1 .3h0m3.6 0h0m-21.7 .7h0m1.5-.4h0m.6 .4h0m.6-.2h0m.8 .1h0m.3 .1h0m.5-.4h0m1.5-.1h0m2.4 0h0m2.3 .1h0m.6 .1h0m3 .2h0m16.6 .1h0m5.6-.5h0m-36.4 .7h0m.9 .3h0m.4-.1h0m.5 .1h0m1.1-.1h0m.3 .2h0m2.3 .1h0m.5-.2h0m.9-.2h0m.1-.1h0m1.6 .5h0m2.3-.2h0m3.3-.3h0m1.3 .2h0m2.9 .3h0m-18.3 .6h0m.8-.2h0m.6-.1h0m.7 .2h0m1.5-.2h0m1.2-.1h0m.2 .2h0m.6-.1h0m.8 .3h0m3.8-.1h0m1.8 0h0m6.3 .1h0m6-.1h0m.4 .1h0m-25 .7h0m.5-.3h0m.8 .2h0m.6-.3h0m1 .4h0m.5-.5h0m1.8 .4h0m.3-.3h0m.8-.1h0m.4 .3h0m2-.3h0m2.3 .1h0m.6 .1h0m1.3-.1h0m.3 0h0m1 0h0m17.4 .1h0m7.8 .2h0m-38.9 .8h0m.4-.3h0m.5-.3h0m1.5 .3h0m1.3 .2h0m1.2-.3h0m.7 .2h0m6.7-.2h0m1.1 0h0m3.8 .3h0m12 0h0m1.3-.1h0m-30.8 .5h0m.5-.1h0m1.9-.1h0m.1 .4h0m.8-.1h0m3.6 0h0m2.2 .1h0m1.4-.3h0m.6 .4h0m8.1-.2h0m.8-.2h0m8.5 0h0m1.4 .4h0m-29.6 .2h0m.7 .1h0m.2 .2h0m.7 0h0m.8 .1h0m2.6-.2h0m.7-.2h0m.9 .3h0m.5-.1h0m1.9-.1h0m1 .1h0m3.3 .1h0m1.6-.3h0m1.3 .2h0m17.4 .1h0m3.3 0h0m-37.5 .8h0m.3-.5h0m.6 .1h0m.6 .3h0m1-.4h0m.6 .4h0m.7-.1h0m2.7-.2h0m.5 .1h0m1.7-.2h0m1.4 0h0m1.5 .5h0m.3-.1h0m1.7 0h0m1.3-.4h0m-15.1 .9h0m.8-.1h0m1-.1h0m1 .3h0m.2-.1h0m2.1 .1h0m2.8-.2h0m.8 0h0m1 .1h0m1.2 .3h0m1-.5h0m7 0h0m16.7 0h0m.8 .1h0m-36.3 .7h0m.7-.1h0m.6 .3h0m1.2 0h0m1.1-.4h0m.9 .3h0m1.1 0h0m6.2-.2h0m3.8 .2h0m1.6 0h0m4.4-.1h0m1.6 .2h0m-23.3 .8h0m.8-.2h0m.4-.2h0m.6 .2h0m2.1 0h0m.9-.2h0m.3 .1h0m.7 .1h0m2.7 0h0m9.6 .1h0m12-.3h0m-30.1 .8h0m.6 .1h0m1.2-.4h0m.8 0h0m.8 .4h0m1 0h0m1.4-.3h0m.9 .1h0m.2 .3h0m1.6-.1h0m.3 .1h0m22.4-.2h0m-31 .7h0m.2 0h0m.6-.3h0m.9 .3h0m1.4-.2h0m.7 0h0m.7 .3h0m.7-.1h0m.5-.1h0m.3-.1h0m1 .1h0m1.2 .3h0m.6-.1h0m-8.8 .3h0m.2 0h0m1.1-.1h0m.7 .4h0m.3 .1h0m.6-.5h0m.6 .5h0m.6-.2h0m.8-.3h0m3.1 .5h0m2.3 0h0m.4-.3h0m4-.2h0m.6 .5h0m2.4-.3h0m9.9 .3h0m-27.5 .4h0m.3 .1h0m.8 0h0m.4-.2h0m.8 .1h0m1.3 .2h0m.8-.3h0m.3 .1h0m1.4 .3h0m.6-.3h0m3.8 0h0m3-.3h0m3.7 .4h0m16.8 0h0m-34.5 .5h0m.6 0h0m1-.2h0m.7 .3h0m.3 .2h0m1 0h0m3.9-.2h0m2.5 0h0m3.5-.1h0m10 .3h0m16.6 0h0m-39.9 .4h0m.8-.1h0m.6 .4h0m1-.4h0m.6 .1h0m1.6 0h0m1.2 .2h0m.4-.3h0m1.1 .1h0m1.7-.2h0m.8 .1h0m.4 .2h0m1-.1h0m3.8-.1h0m.7 .2h0m5-.3h0m5.2 .5h0m9.7-.4h0m-35.5 .8h0m.6-.3h0m.7 0h0m.8 .1h0m.8 0h0m.8 .4h0m.9 0h0m1.4-.4h0m2.6 .2h0m.9 0h0m1.9 .1h0m7.3-.2h0m18.5 0h0m-37.2 .8h0m.7 0h0m.8 .2h0m.4-.2h0m1.3-.3h0m.8 0h0m.3 .2h0m.7 .1h0m6.5 0h0m-11.4 .3h0m.5 .1h0m.4 .4h0m.6-.1h0m1-.1h0m.6 .2h0m3-.4h0m3.6 .1h0m15.8-.1h0m-25.6 .8h0m.3 0h0m.6 0h0m1.1 0h0m.7-.3h0m.2 .5h0m1.1-.2h0m2.2-.2h0m2 0h0m.9 .1h0m.3-.2h0m.9 .5h0m1.8-.3h0m8.3 .2h0m-20.4 .4h0m.4 .4h0m.5-.5h0m.7 .4h0m2.1 .1h0m.5-.4h0m.9 0h0m1 .4h0m1.5-.4h0m6 .1h0m.8-.2h0m1.6 .2h0m4.6 0h0m-20.7 .7h0m.8-.2h0m.3 .1h0m.7 .1h0m.8-.2h0m.8 .2h0m1.3-.1h0m.4 .4h0m2.2-.2h0m.4-.3h0m3.8 .4h0m4.3 0h0m.7-.2h0m2.5-.3h0m.8 .1h0m6.9 .1h0m-26.5 .8h0m.6 .2h0m1.1-.3h0m.6 .1h0m2.7 0h0m1.5-.1h0m1.6-.2h0m2.1 .4h0m.7-.2h0m.4-.1h0m2.3 .2h0m18.9 .2h0m-33.3 .6h0m.6-.4h0m.5 .2h0m1.7 .3h0m.5-.3h0m.8-.1h0m3.2 .3h0m.2 0h0m1.4-.3h0m2.3 .2h0m.9 .2h0m3.9-.5h0m1 .3h0m21.8-.1h0m-38.7 .4h0m.4 .2h0m.7 .2h0m.8 0h0m1.5-.4h0m1 .1h0m.7 0h0m.8-.1h0m.5 .1h0m.3 .3h0m4.5-.1h0m2.1 .1h0m2.6-.2h0m2.7-.1h0m.9 .4h0m-19.6 .2h0m.7 0h0m.4 0h0m.6-.1h0m1.3 .3h0m1.4 0h0m.6 0h0m2.2-.2h0m1.6 .2h0m.9 .2h0m.5-.4h0m2.5 .3h0m-12.5 .4h0m.6 .3h0m.5 .1h0m.4-.2h0m.7-.3h0m.6 .1h0m.8 0h0m2-.1h0m2.2 .2h0m5-.1h0m1.2 0h0m-14.3 .7h0m.5-.1h0m1.1 .3h0m.2-.3h0m.6-.1h0m.9 .3h0m.4-.2h0m2.1 .2h0m.5 .2h0m.8-.4h0m.7 .3h0m2.5-.1h0m.8 .3h0m1.3-.6h0m.5 0h0m3 .5h0m-15.8 .6h0m.6 .1h0m1.4-.4h0m1 .2h0m.8-.1h0m3.7 .1h0m6.2-.2h0m7.9 .4h0m-21.8 .2h0m.9 .1h0m.3 .2h0m.7-.1h0m.8-.2h0m.7 .3h0m2.5-.2h0m.6 0h0m1.2 .4h0m1.9-.1h0m.9-.3h0m2.7 .1h0m2.5 .2h0m-15.4 .6h0m.4-.1h0m.9 0h0m.4-.2h0m.5 .2h0m.9 0h0m.9 .1h0m.3-.3h0m.8 0h0m1.7 .3h0m1.6-.2h0m1.2 .3h0m.7-.3h0m.8-.1h0m.6 .4h0m.9-.4h0m1.4 .1h0m2.2 .1h0m8.9 .2h0m5.7 0h0m-31.1 .3h0m.5-.1h0m1 0h0m1.4 .3h0m.8 .2h0m.2 0h0m1-.5h0m1.8 .1h0m.4-.1h0m1.6 0h0m2 .4h0m2-.5h0m-12.3 1.1h0m.6 .1h0m.5-.5h0m2.1 .3h0m.3-.1h0m3.2 .3h0m2.7-.4h0m.5 .4h0m4.6-.2h0m.8-.2h0m3.4 .2h0m6.1-.3h0m4.7 .3h0m-29.9 .4h0m.8 .4h0m.9-.3h0m.2 .3h0m3.7 0h0m1-.1h0m.8-.2h0m.7 .1h0m.4-.3h0m2 .1h0m10.2 .3h0m-20.7 .6h0m.8 .1h0m.9 .1h0m1.1-.3h0m.8-.1h0m.3 .3h0m.9-.3h0m1.1 0h0m6.1 .3h0m7.8-.3h0m-20 1h0m.7-.5h0m1.8 .1h0m.5 .4h0m.8-.5h0m.7 .5h0m.7-.1h0m1.2 .1h0m.6-.1h0m1.4 .2h0m.5-.5h0m4.9 0h0m11.1 .3h0m-24.5 .4h0m.8 .2h0m.5 .2h0m.6-.1h0m.5 .1h0m2.3-.3h0m.3 .1h0m1.6 .2h0m.3 0h0m.7 0h0m1.7-.2h0m1.5-.1h0m1.1-.2h0m.5 .1h0m15.5-.1h0m-28.1 1.1h0m.7-.2h0m.9 .3h0m1.4-.2h0m.5-.1h0m.7-.1h0m.3 0h0m1.7 .2h0m.3 .1h0m1.6-.3h0m.9 .3h0m2.2-.3h0m1.7 .3h0m18.4-.3h0m-31 .6h0m.7 0h0m.3-.1h0m.9 .1h0m1.6-.1h0m1.2 .3h0m.4-.3h0m1.8 .1h0m4.1 0h0m16.4 .1h0m1 0h0m-28.6 .5h0m1 .5h0m.8-.2h0m1-.1h0m1.2 .1h0m2.9 0h0m3-.1h0m2.9 .1h0m6 .2h0m13.7-.5h0m-32.3 .8h0m2.6 .1h0m.4 .2h0m1.5-.5h0m.4 .1h0m2.9 .4h0m2.2-.2h0m5.5 0h0m-16.3 .4h0m.8 .4h0m.2-.2h0m1.1 0h0m.7-.2h0m.6 .2h0m.5-.2h0m1.1 .2h0m.9-.1h0m1-.1h0m.6 .1h0m1.6 0h0m.9 0h0m.4 .4h0m.8-.5h0m.4 .3h0m18.2-.2h0m-28.9 .7h0m.4-.2h0m.7 .2h0m.4-.2h0m1 .2h0m.7-.2h0m.9 .5h0m.6-.2h0m3.5-.1h0m.4 0h0m.9 .3h0m4.7-.2h0m12.6-.2h0" stroke="#000" stroke-opacity="0.9" stroke-width="0.75" stroke-linecap="square" fill="none" filter="url(#b0)"/>
<path d="M46.80 215.00 L74.00 214.50 L74.00 225.50 L65.00 226.50 L64.00 240.00 L62.50 263.70 L46.80 263.70 Z" fill="#000" fill-opacity="1.0" filter="url(#b1)"/>
<ellipse cx="81.8" cy="218.0" rx="7.4" ry="6.5" transform="rotate(-10 81.8 218.0)" fill="#000" fill-opacity="1.0" filter="url(#b1)"/>
<ellipse cx="82.4" cy="217.4" rx="9.4" ry="8.4" transform="rotate(-10 82.4 217.4)" fill="none" stroke="#95183f" stroke-width="1.9"/>
<text x="77.00" y="204.66" font-size="8.3" fill="#7a2d4c" stroke="#7a2d4c" stroke-width="0.12" textLength="14.20" lengthAdjust="spacingAndGlyphs">8.81</text>
<rect x="46.80" y="190.30" width="74.10" height="73.40" fill="none" stroke="#8a8a8a" stroke-width="0.9"/>
<path d="M46.80 247.74h1.3 M46.80 231.79h1.3 M46.80 215.83h1.3 M46.80 199.87h1.3 M62.91 263.70v-1.3 M79.02 263.70v-1.3 M95.13 263.70v-1.3 M111.23 263.70v-1.3" stroke="#444" stroke-width="0.7" fill="none"/>
<path d="M179.6 194.5h0m-38.6 4.4h0m7.7 1h0m1.6 2.6h0m-21.5 .9h0m19.2 1.6h0m24.3 6h0m3.3 6.4h0m-40.1 1.6h0m36.4 1.6h0m-6.6 3h0m-21.8 3.6h0m-17.1 2.4h0m42.8 1.3h0m-11.1 2.1h0m38.5-.2h0m-69.1 1.4h0m35.6 3.4h0m-27.6 1.6h0m52.1 1.6h0m3.7-.4h0m-54.3 .9h0m14.5 5.4h0m36.6 .2h0m4 2.8h0m-38.3 1.1h0m-26.8 3.5h0m4.2 .8h0m65.5 .7h0" stroke="#000" stroke-opacity="0.35" stroke-width="0.75" stroke-linecap="square" fill="none" filter="url(#b0)"/>
<path d="M132.0 210.3h0m-6.2 2h0m2.1-.1h0m3.6 .1h0m4.4-.3h0m2.2 0h0m4.4-.2h0m2.1 .3h0m-4.5 .4h0m-11 1.1h0m.4-.3h0m4.1 .2h0m2.8-.3h0m1.1-.1h0m3.3 0h0m2.1 .4h0m7.4-.3h0m-23.3 .7h0m5.9-.2h0m5 .2h0m2.5 .2h0m17.4-.2h0m-32 .5h0m.5 .3h0m1.4-.3h0m.4 .3h0m1.4 .2h0m.6-.2h0m1 .1h0m.6 .1h0m.7-.2h0m.5 .1h0m1.2-.3h0m1.5 0h0m.4 .3h0m.9 0h0m1.1-.1h0m2 0h0m3.7-.1h0m2 .1h0m1.4-.2h0m.8 .2h0m9.5 .2h0m1.4-.3h0m1.5 .2h0m-34.8 .3h0m1.1 .5h0m1.1-.1h0m3.3-.1h0m.9-.3h0m.1 .3h0m1.1-.3h0m.3 .3h0m1.3-.3h0m1.3 .1h0m1.5 .3h0m1.7-.1h0m1.1-.4h0m.9 .4h0m1.2 0h0m2.5-.2h0m2.3 0h0m1.4-.1h0m.5 .3h0m2.3 0h0m2.9-.1h0m-26.2 .4h0m21.6 .4h0m.5-.4h0m2.5 .3h0m2.8 0h0m2.5-.3h0m-7.8 .7h0m1 .4h0m6.8-.4h0m2.5 .4h0m.4 .1h0m3.7-.4h0m-14.6 .9h0m.4-.4h0m.6 .5h0m6.6-.1h0m3.8-.4h0m1 0h0m-11.5 1.2h0m6.8-.3h0m1.4-.1h0m.2 .2h0m1.9-.4h0m1.1 .2h0m.8 .2h0m-13.6 .7h0m1.9-.2h0m5.4-.2h0m1.1 .3h0m.3-.2h0m.4 .4h0m2.2-.3h0m.6-.1h0m2.3 0h0m-13.5 .8h0m4.4 .2h0m.3 0h0m2.6-.2h0m2.7 .2h0m1.3 0h0m2-.1h0m-10.9 .7h0m2.1-.4h0m2.8 .3h0m.6 .1h0m1.2-.3h0m2 .4h0m1.7-.3h0m-12.3 .4h0m2.4 .5h0m.7-.3h0m1.2 .4h0m.7-.3h0m.9 .1h0m1.3 0h0m1-.2h0m1-.2h0m4.1 .1h0m-13.9 1h0m.6-.1h0m2.1 .2h0m1 0h0m1.9-.2h0m.5 .2h0m3.3-.1h0m1.3-.1h0m.6-.1h0m2 .1h0m1.3-.1h0m-13.9 .9h0m2.7 0h0m1.3-.2h0m1.6 0h0m.3 .2h0m5.9 0h0m1-.2h0m.6 0h0m1.4-.1h0m-15.5 1h0m.6-.5h0m.2 .3h0m.8-.2h0m.4-.1h0m.9 0h0m.8 .3h0m4.1-.2h0m.6 .1h0m1-.1h0m1.3 .3h0m4.4 0h0m8.2-.2h0m-23.4 .6h0m.4 .3h0m.4-.3h0m1.6-.1h0m2.1 0h0m1 0h0m1.7 .4h0m1 0h0m.4-.1h0m.8-.3h0m1.7 .4h0m.2-.3h0m-11.5 .5h0m.9 .3h0m.6-.2h0m.4-.1h0m.7 .2h0m.8-.1h0m.6 0h0m.8-.1h0m1.6 .5h0m1.4 0h0m2.6-.2h0m2.8 .1h0m1 0h0m-14.5 .6h0m.8-.1h0m1.6-.1h0m1.2 .4h0m.4-.1h0m2.3 0h0m2-.1h0m1.7-.2h0m1.9-.1h0m-11.8 .9h0m.7-.3h0m.8 0h0m.8 .2h0m.2 .1h0m.8 .2h0m.9-.1h0m.8-.2h0m1.1 .3h0m.5 0h0m1.8-.5h0m.9 0h0m2 .4h0m7.5-.1h0m3.5-.2h0m-22.8 .7h0m.5-.1h0m.6 0h0m1 .2h0m.5-.2h0m.7 0h0m.9 .3h0m1.3 0h0m.4-.1h0m2.6 .1h0m10.6-.2h0m-18.8 .8h0m.2-.3h0m.8 .3h0m.9-.3h0m.5 .3h0m.9-.2h0m.3 .2h0m6.7 0h0m3.2 0h0m5.1 .1h0m.9 .1h0m-19.7 .1h0m.9 0h0m.2 .6h0m1-.4h0m.2 0h0m1.1 .1h0m1.3-.1h0m.4 0h0m.7-.1h0m2.7 .3h0m4.8 0h0m-13.2 .4h0m.4-.1h0m1 .1h0m.1-.1h0m.9 .4h0m.8 .1h0m3.8-.3h0m1.5-.1h0m1 .4h0m2.2-.3h0m-11.9 .9h0m.6-.1h0m.7-.3h0m.8 .2h0m.5 .3h0m1.3-.1h0m.8-.5h0m4 .3h0m.3 .3h0m1.5-.4h0m1.5-.1h0m-12.6 1.1h0m.5-.3h0m1 0h0m.3-.1h0m1 0h0m.4 .4h0m1-.3h0m.9 .1h0m2-.2h0m.8-.1h0m1.7 .2h0m6 0h0m1.2 .2h0m.6-.1h0m-17.7 .6h0m1.2 .2h0m.4-.3h0m.4 .3h0m.8-.2h0m.5 .2h0m1-.1h0m.6 0h0m1.2 0h0m.8-.3h0m.4 .1h0m.9-.2h0m4 .1h0m-12.3 .7h0m.2-.1h0m.7 .2h0m1.5-.2h0m1 .4h0m.9-.3h0m2.5 .3h0m5.4-.2h0m6.8 .1h0m2.6-.3h0m-21 1.1h0m.3-.1h0m1 .1h0m.3 0h0m.7-.5h0m.8 0h0m1.5 .4h0m.5-.3h0m.5 .4h0m.9-.3h0m.9 .1h0m-8 .5h0m.2-.1h0m1 .4h0m.3 0h0m.6 0h0m1.4-.4h0m1.7 .3h0m.6 .2h0m.5-.4h0m2.6 0h0m10.2 .2h0m-19.3 .5h0m.5-.1h0m.9 0h0m.3 0h0m1.8 .3h0m1.3-.3h0m1.6 .4h0m1.6 0h0m.2-.2h0m3.8-.1h0m7.9 0h0m-20 .8h0m.8 .1h0m.3-.1h0m1.1-.1h0m.4 .1h0m1.8-.1h0m1.2 .1h0m2.4 0h0m.5-.2h0m4.4 .1h0m1.5 0h0m6 .1h0m-20.6 .5h0m1.1 .1h0m.2 .3h0m.9 0h0m1.5-.5h0m1.4 .3h0m1.8-.2h0m.3 .1h0m5.9-.1h0m1.7 .2h0m-14.8 .7h0m.9-.1h0m.6-.1h0m1-.2h0m.1 0h0m1 .2h0m.7-.2h0m.7 .2h0m.4 .2h0m5.9-.2h0m3.5 .2h0m5.6-.3h0m-20.8 .6h0m.5 .3h0m.5-.1h0m1.1 0h0m.6 .1h0m.6-.1h0m.7 .3h0m2.7-.4h0m1.8 0h0m2.7 .3h0m1.5-.2h0m1.6-.2h0m.4 .4h0m1.2-.3h0m4.3 0h0m.4-.2h0m-20.3 .8h0m.2-.1h0m.8 0h0m.7 .3h0m.8 .2h0m.4-.2h0m.8-.2h0m1.7 .1h0m6.9 .1h0m7.6 .1h0m-20 .7h0m.5-.1h0m2.4-.2h0m1 .2h0m.3-.3h0m1.1 .3h0m.1 0h0m.9 .1h0m16-.2h0m-22.4 .7h0m.7 .2h0m.8-.2h0m.2-.1h0m.8-.2h0m1.7 0h0m2 .4h0m.8-.2h0m3.6 .1h0m7.1-.1h0m-17.6 .6h0m.5 .2h0m.5-.3h0m.6 .3h0m.7 .1h0m.6-.2h0m1.6-.1h0m1.7 .2h0m2-.4h0m.7 .1h0m-9.6 .7h0m.4-.1h0m.8 0h0m.9 .2h0m.5 .2h0m.4-.3h0m.5-.1h0m1.1 .2h0m1.9 .2h0m2.3 0h0m1.3-.1h0m10.7-.1h0m-20.3 1h0m.4-.4h0m1.5-.1h0m.8 .5h0m2.8-.5h0m3 .3h0m2.6-.1h0m1.8 .1h0m15.7-.2h0m-29.3 .5h0m.4 .1h0m.7 .3h0m.8 0h0m.7 .1h0m.8 0h0m.9-.2h0m1.5 0h0m1 .2h0m3.1-.1h0m1.1 0h0m1.9-.1h0m3.8-.3h0m2.3 .2h0m15.6-.2h0m-34.6 1.2h0m.9-.4h0m.3-.1h0m.9 0h0m.3 .4h0m1.3-.3h0m1 0h0m1.8 0h0m1.3-.2h0m2.7 .3h0m2-.2h0m2.7-.1h0m1.9 .5h0m2.7-.1h0m-19.3 .4h0m.8 .4h0m.6-.5h0m.5 .4h0m.9 .1h0m.4-.4h0m1.4 0h0m2.5 0h0m4.2 .1h0m21.8 .3h0m-33.6 .6h0m.7-.4h0m1.5 .1h0m1 .2h0m1.3 0h0m.6 .1h0m1.6 0h0m.7-.2h0m4.1 .1h0m2.7-.4h0m4.9 .2h0m-18.5 .6h0m.5 .3h0m1 0h0m.5-.3h0m.5 .1h0m.6 .2h0m.9-.1h0m.5 0h0m3.5 .2h0m7.1 0h0m-15.5 .4h0m.6-.1h0m.6 .2h0m.8 .2h0m.5-.1h0m.4-.1h0m2.5 .2h0m1.8-.5h0m.2 .2h0m1-.1h0m.4 0h0m.5 .3h0m.9-.4h0m4.8 .3h0m1.7-.2h0m13.1 .1h0m-30.2 .7h0m.7-.1h0m.8 .2h0m.5-.1h0m1.7 .2h0m.2-.4h0m2.8 .1h0m2.3 0h0m5.3-.1h0m3 0h0m-16.9 .9h0m.3-.4h0m.7 .6h0m1.1-.6h0m.3 .2h0m.8-.2h0m1 .6h0m.7-.3h0m1 .1h0m1.3 .1h0m3.2-.2h0m.5 .3h0m21.3-.2h0m-32.5 .7h0m1-.2h0m1.3 .1h0m1.6-.2h0m2.3 .3h0m1.5 .1h0m1.6-.4h0m-9.2 .7h0m.6-.1h0m.7 .2h0m.5-.1h0m2.3 .4h0m.3-.2h0m1.3 0h0m2.6 0h0m3.7 .1h0m1.8-.3h0m13.4-.1h0m-27.1 .9h0m.7-.1h0m.3 0h0m.7 0h0m.9-.1h0m.7 .1h0m1.1-.2h0m2.8 .2h0m1.5 .2h0m.3-.1h0m1.6 0h0m.2-.1h0m2 .2h0m4.2 .1h0m-17.1 .6h0m.8-.3h0m.7 .1h0m.7 .2h0m.7 0h0m.5 0h0m.4-.2h0m1.4 .2h0m4.9 0h0m-10.4 .7h0m.4-.3h0m.3 .2h0m1.2-.2h0m.4 0h0m.4 0h0m.9 .1h0m3.3-.1h0m1 .3h0m1.4-.1h0m2.1-.4h0m8.2 .5h0m6.7-.1h0m-26.4 .5h0m.6 .3h0m.4-.2h0m.7-.1h0m.6-.2h0m1.5 .1h0m.8 .3h0m.3-.3h0m4.8 .4h0m2.4-.3h0m.9-.1h0m1.9 .2h0m1 .1h0m-15.9 .5h0m.4 0h0m.7-.1h0m.9 .1h0m.3-.2h0m.7 .3h0m.6-.1h0m.7-.1h0m.8 .1h0m1.2-.1h0m-5.9 .9h0m.5-.3h0m.8 .2h0m1.6-.2h0m.2 .1h0m1.1-.1h0m.7-.1h0m1.3 .3h0m1.6 .1h0m.8-.4h0m.5 .4h0m5.3 .1h0m2-.5h0m-16.7 .8h0m.5-.1h0m.7 0h0m.6-.1h0m.3 0h0m.8 .5h0m2-.5h0m4.1 .2h0m1.4 .2h0m1.7 0h0m-11.8 .5h0m1-.1h0m.2-.1h0m1 .1h0m1 .2h0m.7-.1h0m2.1 .3h0m.8-.5h0m2.5-.1h0m1.9 0h0m1.5 0h0m-13.3 1.1h0m.9 0h0m.2-.3h0m.9 .1h0m.5 .3h0m1.8-.3h0m.7-.1h0m.8 .4h0m4.7-.3h0m-10.5 .6h0m.9 .3h0m.5 .1h0m.8-.3h0m.6-.3h0m.3 .2h0m.9 .1h0m1.4 .1h0m1-.2h0m7.9 .1h0m-14.1 .5h0m.3 .2h0m.9 .2h0m.4 0h0m1-.5h0m.7 .3h0m.3-.1h0m.6-.1h0m.6 .1h0m.6-.2h0m.9 0h0m3 .2h0m3.9-.1h0m1.6 .2h0m5.9-.1h0m-20.2 .5h0m.6 .2h0m.7 0h0m3.3-.2h0m7.2 .3h0m2-.3h0m-14.3 1.1h0m.5-.5h0m.5 .4h0m.7 .1h0m.8-.1h0m.5-.4h0m.7 0h0m5.8 .3h0m2.1-.2h0m5.9 0h0m2.3 .1h0m-20 .9h0m.4-.3h0m1 .4h0m.3-.3h0m.9-.1h0m1.3 .3h0m2.1 0h0m5.8-.5h0m-12 1.2h0m.9-.1h0m.3-.3h0m.9 .1h0m.9-.1h0m.9 .3h0m3.6 .1h0m1.9-.1h0m2.3-.2h0m1.9-.2h0m.6 .4h0m2 .1h0m.9-.1h0m1.3 0h0m-18 .5h0m.3 .2h0m.7 0h0m2.2-.3h0m1 0h0m2.5 .4h0m5-.1h0m.9 0h0m5.8-.5h0m5.2 .2h0m-23.8 .6h0m.6 .4h0m.4-.5h0m1.1 .5h0m.3-.3h0m3.7-.2h0m.3 .4h0m3.4-.2h0m1.5 0h0m4 .3h0m17.8-.2h0m-33.2 .6h0m1-.2h0m.4 .1h0m.7 .3h0m2.1-.2h0m.2-.2h0m2.1-.1h0m3.5 .5h0m7.4-.3h0m-17.8 .9h0m.6-.4h0m.7 .4h0m1.2-.3h0m.7 .3h0m.6 0h0m1.4-.3h0m1.2 .1h0m1.1 .1h0m2-.3h0m1 .5h0m4.1-.5h0m.7 .5h0m10.2-.4h0m-25.1 .6h0m1 .1h0m.4 .1h0m.5 0h0m1.3 0h0m1.2 0h0m1.3 .1h0m1.1 .2h0m.9-.4h0m7.1 .1h0m-15.1 .4h0m.4 .2h0m.4 .1h0m1.7-.2h0m.3 0h0m1-.1h0m.6 .4h0m.3 0h0m2-.3h0m2.8 .1h0m.7 0h0m.7-.2h0m1.9 .2h0m-12.3 .5h0m.5 .2h0m1.6-.2h0m.5 .2h0m2.3-.2h0m2.7 .4h0m1.9-.2h0m.7 .1h0m.5 .1h0m-10.9 .4h0m1 0h0m.6-.1h0m.3 .4h0m1.9-.1h0m1.3-.3h0m1.6 .4h0m1.6 0h0m1.8-.4h0m2 .3h0m8.2-.2h0m-20.8 .9h0m.7 0h0m.5-.1h0m.8-.2h0m.4 .4h0m.8-.2h0m1.5-.4h0m.9 .2h0m2.2-.1h0m.4 .4h0m1-.2h0m5.8 .3h0m2.6-.5h0m10.2 .3h0m1.3-.2h0m-29 .6h0m.7 .1h0m.7 .1h0m.4 0h0m.6 0h0m.6 0h0m1-.1h0m2.3 .2h0m8.4-.3h0m1.7 .3h0m4.2 .1h0m-20.7 .6h0m.6 .1h0m.4-.6h0m.8 .1h0m.9 .3h0m1-.3h0m.6 .4h0m1.7-.1h0m.5-.1h0m.7 0h0m.3 .2h0m3.7-.4h0m-11.3 .6h0m.9 .1h0m.3 0h0m1.1 .4h0m.2 0h0m.6-.3h0m2.1-.1h0m2 .1h0m2.5 0h0m1.7 .2h0m3.6 0h0m.8 0h0m2.9-.4h0m2.8 0h0" stroke="#000" stroke-opacity="0.9" stroke-width="0.75" stroke-linecap="square" fill="none" filter="url(#b0)"/>
<path d="M124.80 215.70 L149.70 215.50 L149.00 226.00 L146.60 237.00 L145.00 263.70 L124.80 263.70 Z" fill="#000" fill-opacity="1.0" filter="url(#b1)"/>
<ellipse cx="160.5" cy="217.2" rx="10.0" ry="8.7" transform="rotate(-10 160.5 217.2)" fill="none" stroke="#2b3c69" stroke-width="1.5"/>
<text x="155.00" y="203.96" font-size="8.3" fill="#4a5a78" stroke="#4a5a78" stroke-width="0.12" textLength="14.60" lengthAdjust="spacingAndGlyphs">0.52</text>
<rect x="124.80" y="190.30" width="73.80" height="73.40" fill="none" stroke="#8a8a8a" stroke-width="0.9"/>
<path d="M124.80 247.74h1.3 M124.80 231.79h1.3 M124.80 215.83h1.3 M124.80 199.87h1.3 M140.84 263.70v-1.3 M156.89 263.70v-1.3 M172.93 263.70v-1.3 M188.97 263.70v-1.3" stroke="#444" stroke-width="0.7" fill="none"/>
<text x="65.60" y="293.32" font-size="8.2" fill="#111" stroke="#111" stroke-width="0.12" textLength="10.03" lengthAdjust="spacingAndGlyphs">B6</text>
<path d="M77.93 290.50H84.73" stroke="#222" stroke-width="0.75"/>
<path d="M86.23 290.50L83.63 289.20L83.63 291.80Z" fill="#222"/>
<text x="89.23" y="293.32" font-size="8.2" fill="#111" stroke="#111" stroke-width="0.12" textLength="10.03" lengthAdjust="spacingAndGlyphs">B6</text>
<text x="132.00" y="293.32" font-size="8.2" fill="#111" stroke="#111" stroke-width="0.12" textLength="10.03" lengthAdjust="spacingAndGlyphs">B6</text>
<path d="M144.33 290.50H151.13" stroke="#222" stroke-width="0.75"/>
<path d="M152.63 290.50L150.03 289.20L150.03 291.80Z" fill="#222"/>
<text x="155.63" y="293.32" font-size="8.2" fill="#111" stroke="#111" stroke-width="0.12" textLength="31.37" lengthAdjust="spacingAndGlyphs">B6D2F1</text>
<text x="250.00" y="293.32" font-size="8.2" fill="#111" stroke="#111" stroke-width="0.12" textLength="10.03" lengthAdjust="spacingAndGlyphs">B6</text>
<path d="M262.33 290.50H269.13" stroke="#222" stroke-width="0.75"/>
<path d="M270.63 290.50L268.03 289.20L268.03 291.80Z" fill="#222"/>
<text x="273.63" y="293.32" font-size="8.2" fill="#111" stroke="#111" stroke-width="0.12" textLength="10.03" lengthAdjust="spacingAndGlyphs">B6</text>
<text x="316.30" y="293.32" font-size="8.2" fill="#111" stroke="#111" stroke-width="0.12" textLength="10.03" lengthAdjust="spacingAndGlyphs">B6</text>
<path d="M328.63 290.50H335.43" stroke="#222" stroke-width="0.75"/>
<path d="M336.93 290.50L334.33 289.20L334.33 291.80Z" fill="#222"/>
<text x="339.93" y="293.32" font-size="8.2" fill="#111" stroke="#111" stroke-width="0.12" textLength="30.07" lengthAdjust="spacingAndGlyphs">B6D2F1</text>
<rect x="17.4" y="297.5" width="1.3" height="71.3" fill="#000"/>
<text transform="translate(12.82,341.50) rotate(-90)" x="0" y="0" font-size="8.2" fill="#111" stroke="#111" stroke-width="0.12" textLength="14.70" lengthAdjust="spacingAndGlyphs">BM</text>
<text x="21.30" y="339.12" font-size="8.2" fill="#111" stroke="#111" stroke-width="0.12" textLength="15.70" lengthAdjust="spacingAndGlyphs">D14</text>
<text x="203.80" y="332.46" font-size="8.2" fill="#111" stroke="#111" stroke-width="0.12" textLength="9.50" lengthAdjust="spacingAndGlyphs">Sp</text>
<text x="203.80" y="343.32" font-size="8.2" fill="#111" stroke="#111" stroke-width="0.12" textLength="15.00" lengthAdjust="spacingAndGlyphs">D14</text>
<rect x="39.35" y="302.50" width="1.3" height="46.50" fill="#000"/>
<path d="M40.00 298.50 L42.50 304.70 L37.50 304.70 Z" fill="#000"/>
<text transform="translate(42.32,370.00) rotate(-90)" x="0" y="0" font-size="8.2" fill="#111" stroke="#111" stroke-width="0.12" textLength="19.00" lengthAdjust="spacingAndGlyphs">NK1.1</text>
<text x="47.50" y="381.62" font-size="8.2" fill="#111" stroke="#111" stroke-width="0.12" textLength="23.00" lengthAdjust="spacingAndGlyphs">NKp46</text>
<rect x="72.50" y="378.15" width="121.30" height="1.3" fill="#000"/>
<path d="M197.80 378.80 L190.60 376.20 L190.60 381.40 Z" fill="#000"/>
<rect x="224.15" y="302.50" width="1.3" height="46.00" fill="#000"/>
<path d="M224.80 298.50 L227.30 304.70 L222.30 304.70 Z" fill="#000"/>
<text transform="translate(227.12,370.00) rotate(-90)" x="0" y="0" font-size="8.2" fill="#111" stroke="#111" stroke-width="0.12" textLength="19.00" lengthAdjust="spacingAndGlyphs">NK1.1</text>
<text x="233.00" y="381.62" font-size="8.2" fill="#111" stroke="#111" stroke-width="0.12" textLength="23.30" lengthAdjust="spacingAndGlyphs">NKp46</text>
<rect x="257.50" y="378.15" width="121.30" height="1.3" fill="#000"/>
<path d="M382.80 378.80 L375.60 376.20 L375.60 381.40 Z" fill="#000"/>
<path d="M105.2 300.5h0m-40 .7h0m8 1.6h0m1.3-.4h0m-23.9 .8h0m22.7 .2h0m-9.5 .4h0m-16.3 .7h0m16.9 .2h0m8.3 .3h0m17.8 .1h0m-5.7 .7h0m-2.4 .8h0m28.4 0h0m-37.6 .7h0m9.7-.1h0m7.7-.1h0m-1.7 1.3h0m15.2 1.7h0m14.7 .5h0m-58.9 .6h0m32.7 .5h0m-41.1 .4h0m3.4 1h0m-1.6 2.5h0m5.6 .3h0m25.2 .2h0m27.5 .8h0m2.2 .4h0m-3.2 1.6h0m-52.1 2h0m20.6 .2h0m.1 .6h0m-9.2 .4h0m15.9-.1h0m-24.9 1.3h0m4.7 0h0m15.3 1.1h0m-17.7 .6h0m22.3-.3h0m32 .1h0m-21.8 .7h0m-38.1 .4h0m54.6 .9h0m.6-.2h0m-20.3 1.8h0m3.7 .2h0m-29.3 .7h0m37.4 .5h0m-27 2.2h0m8.2-.2h0m7.6 .3h0m14.4 .5h0m-54.4 1.1h0m39.3 3.2h0m6.5 .3h0m-28.5 1h0m40.3 0h0m-13.7 1.1h0m-37.7 .5h0m-4.2 .3h0m47.6 .6h0m-47 .9h0m-.9 .9h0m57.7 0h0m-14.6 .4h0m-37.9 .5h0m33.7 1h0m-7.9 .3h0m1.4 2.8h0m17.9 .2h0m2.2-.3h0m-57.5 .5h0m1.6 .1h0m25.8 .2h0m23.9 .7h0m7.3-.1h0m-14.3 2h0m11.3 .5h0m-37.5 .6h0m1 .2h0m24.5 .2h0m-33.5 2.5h0m54.5 .6h0m-61.1 1.2h0m5.6 .6h0m15.8 .4h0m15.3 .2h0m-1.6 1h0m1.3 0h0m22.2 1.1h0m-19.1 1.5h0m5.1-.4h0m-49.4 1.7h0m57.1 1.7h0m13.2 .2h0m-44.2 .5h0m-17.2 2.7h0m34 1.1h0m-21 .6h0m46.9 .1h0" stroke="#000" stroke-opacity="0.35" stroke-width="0.75" stroke-linecap="square" fill="none" filter="url(#b0)"/>
<path d="M78.4 311.3h0m5.7-.2h0m-4 .6h0m4.6 .8h0m-4.8 .8h0m4.4 0h0m1.1-.3h0m3.1 .2h0m-6.8 .3h0m0 .7h0m.6 .1h0m.4 .2h0m1.4-.4h0m1.2 .1h0m-10.1 .8h0m5.9 .1h0m2.6-.3h0m.3 .3h0m5.9-.3h0m-29.7 .6h0m1.8 .5h0m1.2-.5h0m2.8 .5h0m9.1-.3h0m2.1-.1h0m6.6 .4h0m3.5-.3h0m-28.1 .5h0m1.8 .3h0m.9-.3h0m4.1 0h0m1 0h0m10.9 0h0m1.3 .2h0m3-.1h0m1.2 .1h0m.6-.2h0m4.3 .3h0m-39.2 .7h0m7.8 0h0m3.3-.2h0m5.2-.2h0m.7 .3h0m2.3 .2h0m2-.3h0m1 .2h0m1.2-.2h0m5.9 0h0m2 .2h0m2.8-.4h0m.7 .4h0m4.8-.2h0m-40.5 .5h0m4.1 .3h0m.7 .2h0m2-.2h0m22-.4h0m1.3 .2h0m.8-.1h0m1.9 .1h0m.4 .3h0m3.3-.2h0m1.2 .1h0m2.5-.1h0m2-.2h0m-40.9 .8h0m1.5 .3h0m7.5-.4h0m1 .1h0m.4 0h0m1.4 .3h0m3.8-.1h0m.6-.2h0m1.9 .1h0m1 0h0m7.7 .2h0m2.2-.3h0m.8 0h0m5.7 .1h0m1.6 0h0m.9-.2h0m1.3 0h0m-41.4 .7h0m4.9-.1h0m9 .1h0m10.5 0h0m4.4 .3h0m1.1 0h0m.8 .1h0m.7-.2h0m1.1 .1h0m2.1-.3h0m5.1 .2h0m1.3 .1h0m3.2-.1h0m-36.8 .7h0m.7-.1h0m1.9 .2h0m3.3-.4h0m3.4-.1h0m.6 .3h0m4.5 0h0m.8 .1h0m.6-.2h0m.7 .3h0m1.9-.1h0m4.2-.1h0m2.1-.1h0m.7-.2h0m3.1 .2h0m.9 .2h0m1.4-.2h0m.8 .3h0m1.4-.5h0m-38.3 .8h0m1.5-.1h0m1.8 .2h0m4.7 0h0m3-.2h0m2.1 .4h0m3.5-.2h0m.3-.1h0m2.7-.1h0m3.2 .4h0m.8-.2h0m1.3 .1h0m3.1-.2h0m2.9-.1h0m.3 .3h0m.7 .2h0m.4-.5h0m2.3 .5h0m.8-.5h0m.3 .4h0m3.3-.2h0m1.8 .1h0m-38.8 .7h0m11.2 0h0m2.3 .1h0m.6-.3h0m3.1 0h0m.2 0h0m5 .3h0m.5 0h0m1.4-.1h0m1.2 0h0m2.6-.1h0m.5 .1h0m3.2-.2h0m2.1-.1h0m4.9 .3h0m-42.7 .3h0m1.5 .3h0m2.7-.3h0m1.3 .1h0m4.3 .1h0m2.5 .2h0m3.2-.2h0m4.8 .3h0m.5-.3h0m.6 .1h0m3.4 .2h0m.9-.2h0m3.5-.2h0m3 .4h0m.3-.5h0m1.3 0h0m.7 .3h0m.6-.2h0m3.4 .2h0m.6-.4h0m3.1 .4h0m-41.7 .6h0m1.5 .2h0m1.3 0h0m2-.2h0m7 .2h0m9.2-.1h0m1.3 0h0m.8-.1h0m2 0h0m.3 .1h0m1.4 .1h0m6-.4h0m.4 .1h0m1.5 .2h0m.7 .1h0m.5-.2h0m3.3-.3h0m-29.5 1.1h0m6.8 0h0m.8-.5h0m4.2 .4h0m.8-.1h0m3.2-.1h0m.9-.1h0m2.2 .4h0m1.6-.1h0m.4-.2h0m1.6 .2h0m1.3 .1h0m.3 0h0m1-.1h0m1.9-.3h0m.4 0h0m.8 .5h0m.7-.2h0m1.3 .1h0m1.4-.2h0m-41.2 .5h0m3.4 .1h0m.7 0h0m.8 0h0m.3 .3h0m.5-.2h0m3.6-.3h0m.7 0h0m4.6 .5h0m1.3-.3h0m2.1 0h0m7 0h0m.7-.1h0m2.3 0h0m1.8 .2h0m2.4-.1h0m.6 0h0m.9 .2h0m3.7-.2h0m.2 .3h0m5.7-.5h0m-41.3 .7h0m4 0h0m.7-.1h0m1.2 .3h0m.5 .2h0m2.4-.1h0m1.1 0h0m.7-.2h0m.9-.1h0m5 .2h0m2.8-.1h0m4.7 0h0m.9 .2h0m1.2-.1h0m1.1 .3h0m3-.3h0m1.3 .3h0m.5-.3h0m1.6 0h0m1.6-.1h0m5 0h0m-41.5 .5h0m5.1 .4h0m.7-.1h0m1.8-.1h0m.8 .3h0m1.9 0h0m.8-.5h0m3.7 .2h0m1.7 .1h0m2.1-.1h0m2.3 .3h0m.8 0h0m1-.2h0m1.2-.2h0m3.6-.1h0m.5 .4h0m1.2-.3h0m2 .2h0m1.3 0h0m1.5 .2h0m.6 0h0m.6-.3h0m2.5-.2h0m2.2 .1h0m-39.3 .7h0m.8-.1h0m.4 .1h0m3 .3h0m3.2-.5h0m3.2 .3h0m2.5 .1h0m1.1-.2h0m2.2 .1h0m7 0h0m1.7 .2h0m1.9 0h0m.5-.1h0m2.1 .1h0m1.2-.1h0m1.3-.3h0m5.6 .2h0m3.5-.1h0m-40.3 1h0m.5-.1h0m.6 0h0m4-.3h0m3.2 0h0m.8 .3h0m4.4 0h0m.4-.1h0m4.1 .2h0m2.1-.1h0m1.9 0h0m.4-.3h0m.9 .3h0m2-.2h0m2.6 .2h0m.5-.1h0m.5 0h0m2.5-.2h0m2.3 .4h0m1.6 0h0m3.8-.3h0m-41.8 .7h0m.6-.1h0m2 .3h0m.6 .1h0m5.5-.2h0m1.2-.1h0m1.8 .2h0m1.1-.1h0m2.1 .2h0m.7-.2h0m1.3-.1h0m3.1 0h0m4-.2h0m.4-.1h0m2.2 .1h0m2.5 .3h0m1.3-.2h0m.8-.1h0m1.1 .5h0m1-.4h0m.8 .1h0m2.7-.2h0m3.4 .4h0m-40.2 .5h0m.4-.1h0m1.1-.1h0m3.6 .4h0m1.4-.5h0m5.7 .4h0m3.2-.1h0m2.5 0h0m1-.1h0m.5 .3h0m3.4-.1h0m1.1-.3h0m3.2 .1h0m1.1 0h0m.2 .3h0m2.1-.3h0m.9 .1h0m6.9-.2h0m.7-.1h0m-38.5 .9h0m2.1-.1h0m.8 .3h0m1.1-.2h0m5 .2h0m1.1-.1h0m.3 .1h0m3.1-.3h0m4.1 0h0m2.2-.1h0m2.2-.1h0m1.5 .2h0m.7-.1h0m.4 .1h0m.6-.1h0m2.2 .2h0m1.8 0h0m.7-.2h0m.8 .5h0m1.1-.5h0m4.1 .5h0m-32.1 .4h0m2.6-.1h0m1.2 0h0m2.4 .3h0m.5-.2h0m1.9 .2h0m1.1-.2h0m2.4 .2h0m1.2-.3h0m.7 .2h0m2.1-.1h0m1.2-.1h0m2.3 .1h0m2 0h0m2.5 0h0m1-.1h0m.2-.2h0m5.4 .5h0m.6-.2h0m-34.5 .8h0m1.5-.5h0m.5 .1h0m.8 .5h0m.4-.4h0m2 0h0m2.7 .1h0m4.3-.2h0m1 .1h0m3-.1h0m1.3 .1h0m1 .2h0m1.4-.3h0m1.3 .1h0m.3 .3h0m1.6-.3h0m1.6-.2h0m.6 .4h0m3.9-.1h0m1.1 0h0m.6 .3h0m1.7-.1h0m.6-.1h0m.5-.4h0m-35.1 .9h0m2.3-.1h0m2.3 .1h0m.8 .3h0m6.1-.4h0m1.3 .3h0m.3-.2h0m.5 .1h0m4.1 .1h0m.6-.3h0m1.5 0h0m.8 .4h0m.4-.2h0m1.3 .2h0m1.5-.3h0m.6-.2h0m2 0h0m.4 0h0m.6 .2h0m.8 .1h0m1.7-.3h0m.9 .5h0m.7-.5h0m1.5 .4h0m1.1-.3h0m5.1 0h0m-38.9 .7h0m2.4-.1h0m.7-.1h0m1 .4h0m3.3-.1h0m.4 .1h0m.5-.3h0m3.5 0h0m1.2 0h0m1.5 .2h0m.4 .2h0m1.9 0h0m.8-.2h0m.7-.1h0m.7-.2h0m1.6 .1h0m4.9 .2h0m.2 0h0m.9-.2h0m1.4 .1h0m.6 .2h0m.5 .1h0m.8-.1h0m1.2-.1h0m2.4-.3h0m.7 .5h0m4.9-.3h0m-39.1 .6h0m3.2 0h0m.4 .2h0m3.6 .1h0m3.4-.3h0m.9 .1h0m2.4 .1h0m1-.1h0m.5 .3h0m3.7-.2h0m.5-.2h0m1.3 .3h0m.7-.4h0m.3 .1h0m3.5 0h0m1.9 .1h0m1 0h0m.8 0h0m.8 0h0m1.8 .3h0m1.8-.4h0m.7 .4h0m2 0h0m-36 .3h0m2 .4h0m.6-.1h0m.6-.4h0m.5 .2h0m1.1-.2h0m.6 0h0m1.1-.1h0m2.4 .2h0m.8-.1h0m.7 .1h0m.1 .2h0m.7-.3h0m4.6 0h0m.8 .2h0m1.4 0h0m6 0h0m2-.2h0m1.9 .3h0m1 .1h0m.6-.1h0m1.1-.3h0m.3 .2h0m.8 0h0m.6 0h0m1.3-.3h0m.6 .2h0m.9 .1h0m.1-.1h0m-35.4 .8h0m1.2 0h0m1.6 0h0m.4 .2h0m1.4-.1h0m1 0h0m4.2-.3h0m1-.1h0m2 .2h0m1-.1h0m1.2-.1h0m4.7 .3h0m.8-.1h0m1 .3h0m3.6 0h0m2.3-.1h0m1.6 0h0m1 0h0m.7-.4h0m1.8 .5h0m1.4-.3h0m.7-.1h0m1.1 .3h0m.9-.1h0m-36.8 .8h0m.6-.4h0m2.3 .5h0m1.6-.1h0m1.7-.2h0m4.3 .1h0m2.1-.2h0m.3 0h0m.9 .1h0m.8-.1h0m1.2 .3h0m1.4 0h0m.6-.4h0m.4 .1h0m.7 .4h0m.8-.6h0m.8 0h0m.3 .6h0m1.5-.5h0m.7 .3h0m.7-.4h0m.3 .5h0m1-.2h0m.5-.3h0m2 .3h0m1 .1h0m1-.3h0m.6 .3h0m1.8 .2h0m.9-.2h0m.4-.4h0m.7 .2h0m.8 .3h0m2-.1h0m.5-.3h0m.7 .3h0m-35.3 .7h0m.8-.1h0m2.5-.2h0m1.2-.1h0m.8 .4h0m2.2 0h0m.7 0h0m2 .1h0m.7-.1h0m2.1 .1h0m.8-.5h0m1.1 .3h0m.7-.2h0m2.1 .2h0m.9-.2h0m.3 .2h0m1.1 0h0m.9 0h0m1-.1h0m1.2-.1h0m.4-.1h0m2.4 .3h0m.7 0h0m1 .1h0m.7-.4h0m.4 .2h0m.5-.1h0m.6 .2h0m1.5 0h0m2.6-.2h0m1 .3h0m.1-.3h0m1.1 .1h0m.3 .2h0m-37.3 .4h0m.4 .2h0m.7 0h0m2-.3h0m1.9-.1h0m.5 .4h0m1.2-.2h0m1.1-.1h0m.2 .1h0m.9 .3h0m1.4-.5h0m1.2 .2h0m.5 0h0m1.2 .1h0m2.4 .3h0m.4-.5h0m.8 .2h0m.7-.1h0m2.4 0h0m1 .2h0m1-.1h0m1.5 0h0m2.2 .2h0m1.2 0h0m1.1-.2h0m1.1-.3h0m1.4 .3h0m.8-.2h0m.5 .5h0m.3-.5h0m1.5 0h0m1.2 .1h0m1.7-.2h0m3.3 .1h0m4.5 .1h0m-45.5 .8h0m.9 .1h0m1.2-.3h0m1 .4h0m.6-.4h0m1.1 0h0m1.1 .3h0m.6-.3h0m1.2 .1h0m.6 .3h0m.6-.1h0m.4-.3h0m2.2 .1h0m.3 .3h0m2.4-.4h0m1.9 0h0m1 .3h0m.6-.1h0m.9-.2h0m.6 0h0m.7 .3h0m1.7 0h0m1.1-.3h0m.3 .2h0m.6-.1h0m.6 .2h0m.9-.2h0m.8 .2h0m1.6 0h0m1.1-.4h0m.8 .5h0m1.6-.4h0m.4-.1h0m1.6 0h0m1.3 .5h0m.8-.2h0m.4-.2h0m1.5 .2h0m2-.3h0m.2 0h0m.6 .1h0m1.1 .4h0m1.1-.2h0m-42.3 .6h0m.8 .1h0m1.3-.1h0m.7 0h0m.5-.2h0m.4 .4h0m1.4-.1h0m.8-.3h0m.4 .3h0m.6 0h0m1.5 .1h0m.5-.4h0m.9 .1h0m.7 .3h0m.4-.4h0m1.9 0h0m2.4 .4h0m1 0h0m.8 0h0m.5-.4h0m1.5-.1h0m1.4 .2h0m1.5 0h0m.8-.2h0m.7 .1h0m1.3 .3h0m1 .1h0m.9-.3h0m1 .1h0m2.3 .1h0m.9-.1h0m.2-.2h0m.9 .1h0m1 0h0m1.2 .3h0m.4-.2h0m1.6 .2h0m.1-.3h0m1.6 .1h0m.4-.1h0m.8 .2h0m2.2-.1h0m.2-.2h0m1 .5h0m-42.3 .2h0m3.3 0h0m6.7 .2h0m1.7 0h0m3 0h0m2.2-.3h0m1.4 .2h0m1.3 0h0m.4-.2h0m1.5 .3h0m1-.2h0m3.4 .1h0m1.6-.1h0m.2 0h0m1.4 .1h0m4.6 .1h0m.4 0h0m1.4-.2h0m.7 .2h0m1.8-.3h0m1.1 .1h0m.5 .1h0m1.3-.2h0m.9 .1h0m1.5 1h0m.8-.2h0m7.7 .1h0m3.3 .7h0m1.1 0h0m-15.8 .2h0m.4 .2h0m1.4 .1h0m5.3 .2h0m8-.3h0m2.1 .2h0m-15.8 .8h0m.2-.5h0m1.7 .5h0m3-.2h0m1.6 .2h0m4.3-.5h0m2.4 .5h0m-14.7 .4h0m.9 0h0m.1 .1h0m3-.1h0m5.2 0h0m1.2-.1h0m-5.6 .5h0m5.8 .2h0m1.2-.1h0m-12.1 1h0m1.6-.1h0m2.9 0h0m9.2-.1h0m1.6 .1h0m2.4 .1h0m2.2-.1h0m-19.6 .6h0m.4 0h0m.8 .1h0m1.5-.2h0m11.5 .2h0m9.7-.1h0m-24.1 .4h0m2.6 .4h0m2.7 .1h0m.7-.1h0m4.6-.4h0m2.8 .2h0m8.6-.1h0m3.6-.1h0m-24.2 .6h0m3.4 .1h0m7.6-.1h0m-11.1 1.1h0m1.7 0h0m1.7-.4h0m1.9 .4h0m5.9-.4h0m-12.1 .7h0m3.7 .2h0m1 .2h0m7.2-.5h0m-12 1.1h0m.3-.1h0m.6 0h0m6.1-.3h0m1.6 0h0m11.9 .2h0m-19.7 .4h0m2.9 0h0m6.8 .1h0m7.7 0h0m5.7 0h0m-24.6 .8h0m3.1 .8h0m3.1-.1h0m1.6-.1h0m8.3 .1h0m-16 .9h0m1.1-.5h0m4.5 0h0m1.7 .5h0m1.5-.2h0m6.4 .1h0m3.1 0h0m-18.1 .7h0m4.1-.4h0m4.1-.1h0m3.5 0h0m3.5 .4h0m.4-.2h0m13-.1h0m-29.1 .6h0m3.3 0h0m1.1 .4h0m2.9-.3h0m.6-.1h0m23.3 .1h0m-28.6 .8h0m1.5-.1h0m2.6-.2h0m1.3 .4h0m2.5 .1h0m2.7 0h0m6.6 0h0m-18.4 .2h0m7 .4h0m15.3-.2h0m-23.7 .8h0m1.3 .1h0m1.3-.5h0m1.5 .5h0m2.9 0h0m-7.1 .5h0m.8-.2h0m.7 .4h0m5.8-.5h0m-7.1 1h0m1.1 .1h0m3-.2h0m6.6-.1h0m12.8 .2h0m.3-.1h0m-24.1 .4h0m2.7 .3h0m1.3-.3h0m1.7 .4h0m.6-.4h0m9.8 .3h0m-14.9 .3h0m1.7 .3h0m1.8-.3h0m8.9 .3h0m.1 .1h0m2.2-.2h0m11.4 .3h0m-23.1 .2h0m1.4 .5h0m2.2-.4h0m11.4 .1h0m-19 .7h0m.8 .1h0m2.8 0h0m.5-.3h0m11.1 .3h0m1.9 0h0m-15.6 .3h0m.6 .5h0m5.9-.2h0m.6-.2h0m19.7-.1h0m-27.8 .7h0m1.5 .4h0m1.4-.1h0m6.4-.4h0m7.1 0h0m.5 .3h0m8 0h0m-24 .4h0m.6 .4h0m3.5-.3h0m.2 0h0m8.2 0h0m-10 1h0m3-.1h0m1-.3h0m1.5 .1h0m7.5 0h0m-15.8 .5h0m.7 .2h0m1.6 .2h0m4.1-.1h0m3.8 0h0m5 0h0m1.2 .2h0m-18.1 .2h0m2.9 0h0m2-.1h0m.1 .1h0m15.1 .4h0m-19.7 .2h0m4.7 .1h0m3 .2h0m1.8-.3h0m7 .4h0m4.2-.3h0m-20.4 .7h0m1.3 .2h0m1.9-.3h0m19.2 .2h0m-23.2 .5h0m.8 .1h0m11.6 .2h0m-11.7 .6h0m1-.3h0m3.9 .2h0m1.7-.3h0m3.7 .5h0m.8-.3h0m2.9 .1h0m3.6-.3h0m-17.8 1h0m3.6 0h0m2-.4h0m2.3 .1h0m5.5 .1h0m4.9 .2h0m-18.4 .5h0m11-.2h0m-11.2 1.2h0m1.3-.5h0m1.7-.1h0m10.8 .4h0m4.9-.3h0m3.2 0h0m-22.2 .6h0m6 .4h0m3.4-.4h0m.4 .4h0m5-.4h0m-53.1 .9h0m1-.1h0m1.9 .3h0m.6-.1h0m1.6-.2h0m4.7 .1h0m1 0h0m2.7 0h0m.1 .1h0m1.2-.3h0m.4 .3h0m1.8-.1h0m1.7 .1h0m.3 0h0m1.3-.1h0m1.5 0h0m.3 .1h0m1.1-.1h0m1 .2h0m.5-.2h0m.8-.2h0m.5 .3h0m1.4-.1h0m1.5 .2h0m1.4-.4h0m1.2 .2h0m.5-.1h0m1 .3h0m.2-.3h0m1.1 0h0m3.3 0h0m1.2 .2h0m8.3-.1h0m9-.3h0m-51.5 .8h0m3.4 .1h0m3.5-.2h0m.4 .1h0m.9 .1h0m1.1 .3h0m2.8-.4h0m.5 .1h0m.8-.2h0m1.9 .5h0m.7-.5h0m.3 .2h0m2.2 0h0m.7 0h0m.7 .3h0m.2-.5h0m2.7 0h0m1 0h0m1.1 0h0m.5 .3h0m3.2 .2h0m6.3-.2h0m.8 0h0m1 0h0m2.4-.1h0m4 0h0m2.3 .1h0m-49.1 .6h0m1.3 .1h0m2.3 .1h0m4.9-.1h0m3.4 .1h0m3.8-.5h0m2.5 .6h0m3.7-.5h0m1.2 .5h0m2.7-.4h0m1.3 .4h0m.7-.1h0m1.7-.3h0m5 .3h0m1.3-.1h0m1-.1h0m4.7 .3h0m1.5 0h0m-38.3 .3h0m2.2 0h0m3.7 .3h0m1.3-.3h0m.6-.2h0m9.6 .1h0m4.9-.1h0m7.6 .3h0m1-.1h0m2.8-.1h0m-37.8 .8h0m2.5-.1h0m11.4-.1h0m1.9 .2h0m4.1 0h0m8.1 .2h0m-14 .4h0m23.5-.1h0m1.3 .4h0m-20.9 .3h0m4.9-.1h0m10.4 .3h0m3.1-.2h0m-30.7 1h0m14.4-.3h0m2.5 .3h0m10.8-.2h0m3.3-.3h0m2 .5h0m-40.5 .3h0m5.3-.1h0m30.9 0h0" stroke="#000" stroke-opacity="0.9" stroke-width="0.75" stroke-linecap="square" fill="none" filter="url(#b0)"/>
<path d="M47.00 336.50 L87.80 336.50 L87.50 345.00 L86.30 364.20 L47.00 364.20 Z" fill="#000" fill-opacity="1.0" filter="url(#b1)"/>
<ellipse cx="82.6" cy="320.2" rx="7.7" ry="6.3" transform="rotate(-25 82.6 320.2)" fill="#000" fill-opacity="1.0" filter="url(#b1)"/>
<ellipse cx="82.8" cy="320.0" rx="9.2" ry="7.8" transform="rotate(-25 82.8 320.0)" fill="none" stroke="#7aac52" stroke-width="1.2"/>
<text x="73.00" y="305.26" font-size="8.3" fill="#86b262" stroke="#86b262" stroke-width="0.12" textLength="19.00" lengthAdjust="spacingAndGlyphs">0.387</text>
<rect x="46.80" y="296.50" width="73.70" height="73.90" fill="none" stroke="#8a8a8a" stroke-width="0.9"/>
<path d="M46.80 354.33h1.3 M46.80 338.27h1.3 M46.80 322.20h1.3 M46.80 306.14h1.3 M62.82 370.40v-1.3 M78.84 370.40v-1.3 M94.87 370.40v-1.3 M110.89 370.40v-1.3" stroke="#444" stroke-width="0.7" fill="none"/>
<path d="M178.1 298.7h0m-33.5 .7h0m22.2 .4h0m-14.7 1.1h0m.7 1.3h0m-20.1 .6h0m44.7-.2h0m-2.7 .5h0m-26.5 1.6h0m18 .4h0m-37.5 3.8h0m65 3.1h0m-69 .3h0m34.1 1.2h0m13.2 .2h0m-27 1.5h0m1.8 .4h0m45 3.6h0m-54.4 1.4h0m1.6 1.3h0m23.3 .2h0m28.4 .6h0m-40.4 .9h0m18.2-.2h0m-43.6 1.4h0m11.5 .2h0m22.7 0h0m-2.6 3h0m5.3 1.4h0m6.5-.4h0m-11.5 1.2h0m9.3 1.2h0m-32.9 .6h0m21.9-.1h0m5.3-.1h0m4.5 1.5h0m-29.3 .9h0m3.2 1.6h0m44.9 .5h0m-18.8 1.1h0m20.8 .6h0m-20 .7h0m10.9-.4h0m-48.2 2.2h0m50.9-.4h0m14 .5h0m-52.5 1.1h0m13.1 2.8h0m-29.4 1.5h0m6.1 .3h0m1.1 1.4h0m-1.2 .9h0m31.2 .8h0m27.2 1.3h0m-40 1.7h0m4.5 .7h0m2.4 2.5h0m16.4-.1h0m-46.8 2.9h0m47.9 .8h0m-27.5 .6h0m4.6 .5h0m12.3 .1h0m26.7 1.3h0m-.1 .6h0m7.4 1.2h0m-69.4 .6h0m27.9 .8h0m.3 .7h0m16 .1h0m0 .5h0m-12.7 2.5h0m1.9 .4h0m28.8 .5h0" stroke="#000" stroke-opacity="0.35" stroke-width="0.75" stroke-linecap="square" fill="none" filter="url(#b0)"/>
<path d="M139.3 316.5h0m-1 .5h0m-4.1 .5h0m-4.2 .7h0m6.1 0h0m-4.6 .7h0m9.3 .1h0m-5.2 .7h0m1.6-.1h0m2.3-.3h0m4 .4h0m2-.1h0m-3.9 .6h0m15.4 0h0m-22.6 .8h0m2.6 .1h0m.5-.4h0m2.7 .1h0m4.5 .3h0m-16.3 .4h0m1 .3h0m2.4-.3h0m3.6-.2h0m3.3 .1h0m3.4 .4h0m7.1-.5h0m7.3 .3h0m-22.5 .5h0m1.1-.2h0m.6 0h0m3 .1h0m9 0h0m.3 .3h0m.6-.1h0m3.7-.2h0m-24.2 .8h0m.6 .2h0m1-.4h0m1.2 .4h0m9.7 0h0m2.4-.3h0m2.3 .4h0m2.3-.5h0m2.6 .1h0m2 .2h0m.3-.1h0m-17.6 .7h0m11.5-.1h0m-20.2 .8h0m7.4 0h0m2.7 .1h0m3.3-.4h0m.6 .1h0m4.5-.1h0m3.6 .4h0m4.4-.1h0m-9.8 .4h0m1.7 .2h0m4.1-.1h0m-20.2 .9h0m.8-.3h0m17.9-.2h0m1.3 .5h0m4.6 .1h0m-28.3 .3h0m1.9 .3h0m1.2-.2h0m2.2 0h0m6-.2h0m.4 .2h0m5 0h0m.7 .1h0m.6-.3h0m2.2 .1h0m3.9 .3h0m1.7-.3h0m29.5-.2h0m-54.9 .8h0m.7 0h0m18.9 .3h0m3.3-.2h0m4-.2h0m.6 .2h0m-27.1 .6h0m8.9 0h0m.4 .1h0m1.4-.2h0m1.3 .2h0m2.1-.2h0m1.5 0h0m2-.1h0m2.6 .4h0m.4-.1h0m2.9 .1h0m1.7-.1h0m.7 0h0m1.7 .1h0m.9-.4h0m-28 .8h0m.8 .2h0m.7 0h0m26.4 0h0m2.3-.1h0m-30.9 .6h0m4.5 0h0m8.4 .3h0m.6-.1h0m.6-.1h0m1.3-.1h0m4.3 .1h0m3.8 .2h0m1.4-.5h0m3 .4h0m7.8-.3h0m7.9 .3h0m-43.8 .4h0m3.3 0h0m2 .1h0m3.5 .2h0m2.6-.2h0m3.5 .2h0m.9-.5h0m2.5 .4h0m2.2-.2h0m1.8 0h0m.5 .2h0m1.9 .2h0m1.8-.6h0m.5 .5h0m.7 0h0m1.2-.3h0m.7-.2h0m1 .5h0m.8-.4h0m-26 .7h0m1.3 .4h0m1.9 0h0m2.2-.2h0m1-.3h0m1 .4h0m.2-.4h0m3.7 .1h0m7.7 0h0m3.8 0h0m2.7 .4h0m5.4-.5h0m1.8 .2h0m2.2-.1h0m1.2 .2h0m-39.2 .8h0m1.5 .1h0m2.3-.4h0m4.6 .4h0m7.2-.2h0m.6-.3h0m1.7 .1h0m.6 .1h0m1.7 .2h0m2.6-.2h0m.9 .2h0m1.5 .1h0m5.7-.1h0m8.6 0h0m6.3-.1h0m-48 .7h0m1.2 0h0m2.7 .1h0m1-.2h0m2.8-.3h0m2.7 0h0m3.8 .1h0m2.7 .3h0m2.8 .1h0m3.5-.3h0m1.4 .1h0m1.6-.1h0m7.1-.1h0m2.3 .1h0m1.2 .2h0m3.5 .1h0m-39.1 .3h0m2.4 .3h0m.2-.2h0m.7 .1h0m1.2 .1h0m3-.5h0m4 .5h0m.7-.4h0m.8 0h0m1.6 .1h0m1.5 0h0m4.5-.2h0m.3 .6h0m2.3-.3h0m1.2 .2h0m1.1 0h0m2.9 .1h0m.8-.1h0m.8-.4h0m.7 0h0m1.3 .2h0m10.6 .2h0m-43.4 .3h0m1.7 .1h0m.5 0h0m.7-.2h0m3.5 .4h0m.5 0h0m.6 .1h0m.8-.5h0m.7 .5h0m.2-.5h0m.7 .4h0m2 0h0m3.7-.3h0m.4 .1h0m.7 .3h0m.7-.4h0m.3 .1h0m2-.1h0m.7 .3h0m5.3-.3h0m.8 0h0m1.2 0h0m.9 .1h0m.5-.1h0m.4 0h0m1.3 0h0m1 .2h0m.9 .1h0m1.5-.1h0m.3-.2h0m7.2 .3h0m-32.4 .3h0m1.6 0h0m4.1 .1h0m1.7 0h0m.5-.1h0m1.1 .2h0m2-.1h0m.7 0h0m.9 .2h0m.4-.2h0m1.2 .2h0m.8 0h0m5.7-.3h0m1.4 .1h0m1.2 .3h0m.8-.4h0m1.5 .3h0m-7.2 .4h0m.4-.1h0m.7 .2h0m.7 .1h0m.8 0h0m.4 .2h0m3.7 0h0m.4 0h0m.6-.3h0m.7 .1h0m.8-.3h0m.9 .5h0m1.9-.5h0m1.6 .3h0m1.4 .1h0m-9.7 .3h0m.3-.1h0m.7 0h0m.7 0h0m.6 .3h0m.8 .2h0m1.4-.1h0m.4 0h0m.8-.1h0m.6 0h0m1.4 0h0m.5-.2h0m10.7 0h0m-16.1 .8h0m2.4-.1h0m.3 .3h0m1.7-.2h0m1.2 .3h0m-.6 .3h0m.3 .1h0m.7-.1h0m3 0h0m-3.2 .8h0m.2-.1h0m-1 .6h0m1.4 .3h0m-1.4 .6h0m.5-.2h0m3.9-.1h0m-4.4 .9h0m2-.3h0m-2.3 .8h0m.6-.1h0m4.1 .4h0m-2.2 .1h0m1.3 .4h0m2.4-.1h0m-6.1 .9h0m.9-.5h0m.9 .3h0m3.2-.1h0m-5.2 1h0m-.6 .6h0m1.6-.2h0m-1.2 .5h0m-.6 .7h0m.6 0h0m.2 .1h0m1.1 .2h0m.4-.1h0m-2 .5h0m1.9 .2h0m1 0h0m1.2-.2h0m1.7 .1h0m-6.3 .6h0m2 .1h0m.4-.3h0m2.3 .1h0m8.2-.2h0m-12.3 .8h0m.6-.1h0m.2 .6h0m2.5 .2h0m3.4 .3h0m-6.9 .4h0m.7 .2h0m1.2-.3h0m-.4 .8h0m.8-.2h0m-3.4 .7h0m.9 .1h0m.5 .2h0m.7-.1h0m.4-.1h0m1-.1h0m.8 .2h0m-4.4 .4h0m1.8 .2h0m6.2 0h0m-5.9 .3h0m1.6 .2h0m-3.8 .6h0m2.2 0h0m4.7 .1h0m-7.4 1.6h0m.7-.5h0m2.2 .2h0m4.3 .3h0m-7.2 .4h0m.4-.1h0m1.9 1h0m.2-.3h0m3.2 .1h0m-4.3 .3h0m1.1 .4h0m1.6-.3h0m.5 .2h0m-5 .6h0m.6 .3h0m-.3 .5h0m.9-.1h0m.5 .1h0m1.1-.3h0m-1.6 1h0m.4 0h0m4.5 0h0m-5.5 .5h0m1.7 .2h0m2.3-.1h0m-2.3 .8h0m-3.2 .7h0m.5-.4h0m1.5 .2h0m.5-.1h0m-2.4 .6h0m.5 .1h0m.7 .2h0m1.9-.5h0m2.5 .1h0m-5.6 .8h0m.6 .2h0m-1.2 .6h0m.1 .5h0m.5 0h0m1.1 .2h0m-1.9 .7h0m3.9-.4h0m3.2 .2h0m-7.5 1.4h0m.6-.4h0m1.2 .2h0m17.1 .2h0m-18.6 .3h0m1.8 0h0m1.7 .1h0m-4.6 .7h0m.8 .3h0m-.6 .1h0m3.4 .3h0m-3 .4h0m5.3 .5h0m-5.9 .5h0m1.3 0h0m-36 .7h0m1.1 0h0m1-.2h0m1.2 .1h0m1 .2h0m1.3-.3h0m1.4 .1h0m1.5 .1h0m1.1-.1h0m.3 .2h0m1.9 0h0m1-.1h0m.5-.1h0m1.9 .2h0m1.2 0h0m.9-.2h0m2.4 .1h0m.5-.2h0m2.1 .2h0m1.1 0h0m.7-.1h0m2.6-.1h0m1.1 .1h0m.2 .1h0m1.7 0h0m.7 0h0m.8 .1h0m.6-.3h0m2.3 .2h0m.6-.3h0m1.8 0h0m6.6 .1h0m-43.9 .5h0m.3 .4h0m.9-.5h0m.9 .4h0m.9-.3h0m2.1 .2h0m.6-.2h0m2 .1h0m.7 0h0m2.2 .3h0m1.8-.3h0m1 .2h0m1.8-.1h0m2.3 .1h0m.6 .1h0m.8-.1h0m.3-.2h0m.9 .2h0m.9-.1h0m.8-.1h0m1 .2h0m1.7 .2h0m.4-.4h0m1.3 .3h0m1.5 0h0m2.5-.1h0m1.4-.2h0m.7-.2h0m2.4 .3h0m.5 .2h0m-35.1 .4h0m2 .2h0m2.9-.4h0m1 .3h0m1.6 .2h0m.6-.3h0m1.2-.1h0m.5 0h0m4.9 .1h0m.6-.1h0m.5-.1h0m1.2 .1h0m.7 0h0m3-.1h0m3 .3h0m1.3-.3h0m.8 .3h0m.3 .1h0m.6-.4h0m1 .2h0m3.1-.2h0m.9 .4h0m.8-.1h0m.9 .1h0m1.3 0h0m.9-.1h0m.2 .1h0m-34.9 .7h0m.8-.1h0m1.7-.2h0m4.5 .3h0m.8-.4h0m2.1 .1h0m4.4-.1h0m2.1 .4h0m3-.3h0m.7-.1h0m4.5 .1h0m4.3-.1h0m1.7 .3h0m-29.9 .8h0m.4-.5h0m1.3 .5h0m2.9-.4h0m9.7 .2h0m2.6 .1h0m2.4-.3h0m3 0h0m2.3 .2h0m4.6-.3h0m1.9 .2h0m.6 .3h0m1.6-.4h0m.8 .4h0m2.4-.3h0m-36.9 1h0m.5-.6h0m.4 .5h0m11.4 0h0m1.5-.1h0m4.2-.3h0m1.8 0h0m4 .1h0m3.8-.1h0m1.2 0h0m3.4-.1h0m4.2 .6h0m-30.5 .1h0m3.2 .3h0m.7 0h0m4.8 0h0m1 0h0m1.1-.1h0m7 .3h0m10.7 0h0m-27.8 .3h0m6.2 .2h0m6.9 .1h0m24.7-.3h0" stroke="#000" stroke-opacity="0.9" stroke-width="0.75" stroke-linecap="square" fill="none" filter="url(#b0)"/>
<path d="M159.8 317.1h0m.8-.2h0m-3.3 .5h0m1.3 .5h0m-3.4 .5h0m3.4 .7h0m1.4-.3h0m.3 0h0m.7 .1h0m.7 .1h0m1.6-.1h0m-6.1 .8h0m2.2 0h0m1.3-.3h0m1.4-.1h0m-7.2 .8h0m4.1-.1h0m.7 0h0m1.5 .4h0m3-.2h0m.6 0h0m-9.3 .7h0m2.5-.3h0m.3 0h0m4.3 .2h0m1.4-.1h0m-9.2 .5h0m.4 .1h0m1 .4h0m1.3-.3h0m.1 .2h0m2.4-.3h0m.3 .3h0m3.5-.3h0m.7 .1h0m-8.7 1h0m1.2-.4h0m1.7 0h0m.7 .4h0m.9-.1h0m3.4 .1h0m-6.8 .7h0m.8-.5h0m1.5-.1h0m1.1 .1h0m1.6 .2h0m-3.3 .5h0m2 0h0m-4.2 .8h0m.9-.2h0m1.9 .4h0" stroke="#5a4a6a" stroke-opacity="0.9" stroke-width="0.75" stroke-linecap="square" fill="none" filter="url(#b0)"/>
<path d="M123.80 332.70 L150.00 333.50 L166.40 335.80 L163.00 355.00 L159.50 365.00 L123.80 365.00 Z" fill="#000" fill-opacity="1.0" filter="url(#b1)"/>
<ellipse cx="160.2" cy="320.4" rx="9.7" ry="8.8" transform="rotate(-10 160.2 320.4)" fill="none" stroke="#7aac52" stroke-width="1.3"/>
<text x="147.00" y="305.26" font-size="8.3" fill="#86b262" stroke="#86b262" stroke-width="0.12" textLength="23.00" lengthAdjust="spacingAndGlyphs">0.0404</text>
<rect x="123.80" y="296.50" width="73.70" height="73.90" fill="none" stroke="#8a8a8a" stroke-width="0.9"/>
<path d="M123.80 354.33h1.3 M123.80 338.27h1.3 M123.80 322.20h1.3 M123.80 306.14h1.3 M139.82 370.40v-1.3 M155.84 370.40v-1.3 M171.87 370.40v-1.3 M187.89 370.40v-1.3" stroke="#444" stroke-width="0.7" fill="none"/>
<path d="M235.4 298.8h0m38.9-.5h0m19.3 1.7h0m-38.5 2.1h0m31 0h0m-40.4 1.5h0m-13.2 1.3h0m17.8 .2h0m53.5 .2h0m-3.7 .6h0m-64.2 1.5h0m33.2 .3h0m9.1 .6h0m-39.6 .6h0m51.9-.1h0m-6.1 .5h0m-16.8 .7h0m.3 .1h0m22.4 .9h0m4.9 .4h0m5.1 .9h0m-49.7 .6h0m26.5 1.4h0m-19.8 .3h0m17.2 1h0m-8.3 1.3h0m13.9 2.3h0m-47.7 1.4h0m39.4 .2h0m25.6-.1h0m-45.8 1.7h0m6.1 1.6h0m5.5 1.3h0m-17.2 .4h0m11.6 .8h0m-11 .8h0m45.5 0h0m-42.3 .5h0m-16.3 .6h0m60.7 .7h0m1.7 0h0m7-.1h0m-42.2 1.2h0m7.3 1.1h0m3.1 1h0m-21.8 1.9h0m.3 0h0m8 .3h0m33.2 1.1h0m-32.4 3.9h0m3.4 .3h0m41.8 2.5h0m-69.9 1.4h0m.7-.1h0m39.9-.2h0m-8.6 .5h0m16.7 .9h0m2.7-.3h0m.2 .3h0m-10.2 .4h0m-23.3 1h0m11.1-.3h0m-13.2 3.2h0m22.9 .9h0m-37.8 .7h0m16.4 .5h0m16.4 1.9h0m.9 .3h0m-21.5 .5h0m10.1 3.3h0m21.2-.3h0m-5.2 1.1h0m-3.3 .1h0m19.3 .1h0m-29.6 1h0m6.8 0h0m8.7-.3h0m27.6 .3h0m-11.8 .9h0m13.5 1.3h0m-46.8 .8h0m1 0h0m28.3 .1h0m11.2 .8h0m2.5 .3h0m-25.2 2.2h0m2.9 .4h0m-32.5 .6h0m45.2 0h0m-27.6 1h0" stroke="#000" stroke-opacity="0.35" stroke-width="0.75" stroke-linecap="square" fill="none" filter="url(#b0)"/>
<path d="M262.5 315.6h0m6-.4h0m-9.1 1.1h0m3.9 0h0m1.4-.3h0m.7 1h0m-3.1 .6h0m3.1 0h0m2.4-.4h0m1.4 0h0m-5.7 .8h0m2.5 .3h0m.6-.1h0m.9-.1h0m-24.2 .6h0m4.5 0h0m14 0h0m.2 .1h0m.6 .1h0m.7-.4h0m.6 .3h0m1.6 .1h0m1.2-.5h0m3.1 .1h0m.7 .4h0m-28.9 .2h0m4.1 .3h0m2.7-.1h0m11.2 .3h0m1.5-.5h0m.1 .3h0m1-.3h0m1.6 0h0m2.5 .2h0m3 .3h0m2.7-.5h0m-39.7 .9h0m13.1 .2h0m1-.2h0m2.6-.2h0m1.3 .4h0m.8-.1h0m1.4 0h0m5.1-.1h0m1.9 0h0m1-.1h0m.5 0h0m.7 .2h0m.3-.1h0m.7 .2h0m.9-.2h0m3.8 .1h0m.9 .1h0m.5-.3h0m2.2-.2h0m-35.7 1.1h0m13.8-.1h0m2.7 0h0m1.4-.1h0m2.6-.2h0m.5 .5h0m3.9-.5h0m.4 .1h0m.7 .3h0m1.1-.4h0m.3 .4h0m.7-.4h0m1 .2h0m.4 0h0m2.2 0h0m.2 0h0m.7 .1h0m1.2-.2h0m1-.1h0m.3 .3h0m-37 .5h0m2-.2h0m2 .1h0m1.4 0h0m4.4 .2h0m4.6-.1h0m1.5 .3h0m.3-.3h0m2.4-.1h0m3.2 .1h0m.4 .4h0m1.3-.3h0m2 .1h0m.7 0h0m.3 0h0m.7-.1h0m.8 0h0m.7 .1h0m.6-.1h0m.5 0h0m.9-.1h0m2.1-.1h0m3.7-.1h0m.7 .3h0m2.4 .1h0m.6-.2h0m-40.5 .7h0m6.7-.1h0m1.7 .3h0m2.5-.3h0m5.8 0h0m1.9 .3h0m1.2-.3h0m.6 .2h0m3.2-.3h0m.7 .1h0m1.1 .4h0m.2-.4h0m.8 .2h0m1 0h0m.4 0h0m.4-.3h0m1 .1h0m.3 0h0m.6 0h0m.6 .2h0m2.5-.3h0m3.5 .1h0m4.5 .3h0m-40.1 .6h0m1.7-.1h0m2.2 .2h0m1.4-.2h0m1.9-.2h0m.9 .4h0m3.5 .1h0m1.2-.3h0m1.9-.3h0m.7 .6h0m4.1 0h0m.9-.3h0m2.2 0h0m1 .1h0m.7 0h0m.5-.3h0m.4 .5h0m.8-.5h0m.9-.1h0m.5 .3h0m.6 .3h0m.9 0h0m.6-.4h0m.2 0h0m.8-.1h0m.6 .2h0m2.5-.2h0m.9-.1h0m1 .1h0m-32.8 .7h0m1 .4h0m1.8-.4h0m5.4 0h0m.8 0h0m2.5 .3h0m.5-.4h0m1.2 .5h0m.6-.5h0m.5 .1h0m.9 0h0m2.1 .1h0m1.3 .3h0m1.2-.5h0m1.2 .2h0m.4 0h0m.6 .1h0m.9 0h0m.2-.1h0m.6-.2h0m.9 0h0m.7 .4h0m.8-.2h0m.6 .1h0m.3 0h0m1.1 .1h0m.4 .1h0m.8 0h0m.6 0h0m.6-.3h0m1.1 .3h0m1-.1h0m1-.2h0m.5 0h0m-35.9 .9h0m.3-.3h0m10.1-.1h0m6.1 .2h0m1-.2h0m1.1 .1h0m.5-.1h0m2 .2h0m1-.2h0m.5 0h0m.4 .2h0m.7-.1h0m.7 0h0m.9 0h0m.4 .3h0m.7-.1h0m.7 .1h0m.6-.3h0m.9 .2h0m.4-.3h0m.9 .3h0m.5-.1h0m.8 0h0m.1 0h0m1.6 0h0m.6 .2h0m.5-.3h0m.8 0h0m.6 .3h0m-30.9 .2h0m.7 .2h0m1.6 0h0m1.1 .2h0m1.3 .1h0m3.4-.4h0m2.1 .4h0m5.9 0h0m.8 0h0m.6-.4h0m.8 .1h0m.5-.2h0m.8 .1h0m.1 0h0m.7 .4h0m.7 0h0m.7-.1h0m.7-.2h0m.5 0h0m1.1-.2h0m.5 .1h0m.7-.1h0m.4 .1h0m.7 0h0m.6 .4h0m.5-.2h0m.9 0h0m.5 0h0m2-.2h0m1.3 .3h0m-39.6 .4h0m1.1 0h0m5.3 0h0m6.6 .1h0m1.3-.1h0m3.4 0h0m.8-.1h0m.2 .1h0m1.7-.2h0m1 .6h0m.8-.5h0m1.4 .3h0m.6 .2h0m.6-.1h0m.8-.3h0m.7 .2h0m.4-.2h0m.9 .3h0m.5 .1h0m.5-.2h0m.9 0h0m.2-.1h0m1.1-.1h0m.2 .2h0m.8-.3h0m.7 .3h0m.5-.3h0m.8 .2h0m.7-.2h0m.7 .4h0m1.1-.2h0m2.6-.3h0m.6 .1h0m1.3 .5h0m1.6-.4h0m-41.4 .7h0m4.2 .3h0m1-.5h0m1.8 .1h0m9 0h0m.7 .2h0m2.3 .2h0m3.1 0h0m.4-.5h0m.6 .5h0m.7-.2h0m.5 .1h0m.9-.1h0m.4-.1h0m.6-.2h0m.8 .4h0m.6-.4h0m.8 .1h0m.8 .4h0m.6 0h0m.2-.1h0m1.2 0h0m.4-.2h0m.5 .1h0m.9-.3h0m.2 .2h0m.7-.2h0m4.4 .5h0m1.2-.4h0m-39.1 .6h0m1.8 .4h0m1.1-.2h0m6.3 0h0m1.3 0h0m2.7-.2h0m2.3 .3h0m4.8-.2h0m2 .1h0m.4 .2h0m.9-.4h0m.6 .1h0m.2 .3h0m1 0h0m.5-.1h0m.4-.2h0m.8 .2h0m.8-.2h0m.7 .4h0m.7-.4h0m.8 .3h0m.6-.4h0m.4 0h0m.9 .4h0m.3 0h0m.6-.2h0m1.1 .1h0m.2-.2h0m7.5 .3h0m-42.6 .3h0m2.3 .4h0m.3-.2h0m1.7 .2h0m10.8-.1h0m.5-.2h0m2.4-.2h0m.2 .2h0m.9 .1h0m.8-.2h0m.7-.1h0m1.5 .3h0m.6 .1h0m1 0h0m.4 .1h0m.5 0h0m1-.5h0m.9 .5h0m.2 0h0m1-.3h0m.5 .2h0m.7 .1h0m.8-.1h0m.4-.3h0m.5 0h0m.9 .4h0m.4-.3h0m.7-.1h0m.6 .3h0m1-.1h0m.2-.1h0m.7 .2h0m4.3-.1h0m-35.8 .6h0m4.9 0h0m2.5 .2h0m1.8 0h0m3.3-.4h0m.4 .3h0m.5-.3h0m2.1 .3h0m.4-.1h0m.6-.3h0m1.7 .5h0m.5 0h0m.8-.4h0m.6 0h0m.8 .5h0m.5-.2h0m.5-.1h0m.5-.1h0m.7 .2h0m.8-.1h0m.8 0h0m.4 0h0m.8 0h0m.8-.1h0m.2-.2h0m.9 .2h0m.6 0h0m.9-.1h0m.4 .4h0m.9-.2h0m.6 .3h0m.2-.4h0m.9 .1h0m1.5 .1h0m3.7 0h0m-40.9 .4h0m1.8 .4h0m1.9-.1h0m2.7-.1h0m1.1-.3h0m.8 .1h0m3.4-.1h0m.9 .5h0m1-.4h0m1.1 .3h0m3.1-.2h0m.3-.1h0m1.6 .4h0m.3-.1h0m1.7-.4h0m.4 .5h0m.7-.3h0m.5-.1h0m.5 0h0m.9 .4h0m.8-.3h0m.3-.1h0m1.1 .1h0m.6 0h0m.3 .3h0m.9-.5h0m.8 .4h0m.4 0h0m.5 .1h0m.6-.2h0m.7 .2h0m.6-.2h0m.6-.3h0m.7 0h0m.6 .4h0m1 0h0m4.5-.1h0m1 0h0m-39.8 .5h0m.1 .1h0m2.2 .2h0m1.3 0h0m2.5-.2h0m.8 .1h0m2.1-.1h0m1.6 0h0m4.9 .1h0m2.7 .1h0m.2-.2h0m1.9-.1h0m.9-.1h0m.7 .5h0m.9-.1h0m.4 0h0m.8-.1h0m.5-.2h0m.8 .3h0m.3-.1h0m1.1 .1h0m.1-.4h0m1 0h0m.5 .4h0m.6 0h0m1-.2h0m.3-.2h0m1 .1h0m.3-.2h0m1 .4h0m.4-.3h0m.4 .3h0m.6-.1h0m1.1-.2h0m.6 .4h0m.6-.3h0m1.5 .3h0m.6-.3h0m-40.1 1h0m3.4-.1h0m2.6 .1h0m3-.3h0m7.3 .1h0m.6 .1h0m.8-.4h0m1.5 .2h0m2.2 .3h0m.9 0h0m.7 0h0m.5-.2h0m.6 .2h0m1-.1h0m.7-.4h0m.4 .3h0m.9 .2h0m.5-.1h0m.8 0h0m.3-.1h0m1.1 0h0m.3-.1h0m.8 0h0m.6 .3h0m.9-.2h0m.3-.1h0m.8 .1h0m.7 0h0m.7 0h0m.3 .2h0m.9-.3h0m.3-.1h0m1 .2h0m2.8-.2h0m-39.7 .9h0m2.1 .1h0m1-.4h0m.4 .1h0m.9 .1h0m.9 .3h0m1.3-.6h0m1.2 .1h0m5.7 .3h0m1.1 .2h0m2-.2h0m2 0h0m2.2 .1h0m.7-.2h0m.3 .2h0m.5 .1h0m.8-.4h0m.9 .3h0m.3-.3h0m.9 .4h0m.3-.6h0m1.1 .1h0m.4 0h0m.9 0h0m.7 .4h0m.6 0h0m.4-.3h0m.9 .1h0m.6 .3h0m.3-.1h0m.8-.4h0m.8-.1h0m.6 .4h0m.4 0h0m1-.3h0m.3 .5h0m.6-.3h0m4.1 .1h0m1.6-.2h0m-41.7 .7h0m.5-.2h0m2.6 .2h0m1.2 .1h0m.9 0h0m.6 .2h0m5.4-.5h0m.5 .2h0m1.4 0h0m.4 .3h0m.4-.3h0m.9 0h0m1.1 .3h0m1-.1h0m2 0h0m.7-.4h0m1.8 .2h0m.4 0h0m.8 .1h0m.7-.1h0m.6-.2h0m.5 .1h0m.6 .1h0m1-.1h0m.3 .2h0m1-.3h0m.6 .5h0m.5-.4h0m.5 0h0m.7 .2h0m1 0h0m.4-.2h0m.6 0h0m.8 .2h0m.4 .1h0m.7-.2h0m1 0h0m.3 .2h0m.8-.4h0m.8 0h0m1.1 .5h0m2.2-.1h0m-38.3 .5h0m1.3 .2h0m1.2-.5h0m.6 .3h0m1.6 .1h0m1.7 0h0m.3 0h0m1.3-.2h0m1.4 .2h0m.8 .1h0m.4-.2h0m1.7 .2h0m.6-.5h0m2.6 .5h0m.7 0h0m.3-.1h0m.6-.1h0m1 .2h0m.8 0h0m.1-.2h0m1-.1h0m.4 .3h0m.8-.1h0m.9-.2h0m.3 .4h0m1-.3h0m.5-.3h0m.7 .5h0m.2-.1h0m1.2-.3h0m.2 .4h0m1 .1h0m.7-.5h0m.6 0h0m.5 .1h0m.8 0h0m.5 .2h0m.7 .1h0m.4-.1h0m1.1 .1h0m.2-.4h0m1.1 .1h0m.2 .1h0m.8 .3h0m-36.1 .2h0m.9 .4h0m.7-.3h0m1.9 0h0m3 .1h0m.7-.1h0m.3 .3h0m.7-.4h0m.5 .3h0m1.6-.2h0m1.4 0h0m3.4-.1h0m2.8 .3h0m1-.1h0m.3-.2h0m.8-.1h0m.7 .3h0m.4 .2h0m.9-.1h0m.5-.3h0m.6 .1h0m.7 .2h0m.5 0h0m.7-.1h0m.6-.2h0m.9 .3h0m.6-.3h0m.8 .1h0m.4 .3h0m.5 0h0m.9-.1h0m.5-.2h0m.8 .3h0m.4-.3h0m.6 .2h0m1-.2h0m.6-.1h0m.9 .2h0m.6-.3h0m.5 .4h0m.5-.2h0m6.3 .1h0m-42.4 .8h0m.3-.5h0m1.7 .5h0m.4-.2h0m1.2 0h0m.7 .3h0m.8-.1h0m.4 .1h0m.5-.5h0m1.1-.1h0m1.8 .5h0m.6 0h0m.6-.1h0m.7 .2h0m1.1-.4h0m.9 .2h0m.3-.2h0m.8-.1h0m1 .2h0m1.5 0h0m1.7-.3h0m1.9 .2h0m.6 .2h0m.7-.1h0m.7-.1h0m.4 .4h0m1-.3h0m.4-.3h0m.6 .5h0m.5 0h0m.6-.4h0m.9 .5h0m.6-.2h0m.5 .1h0m.7-.2h0m1 .3h0m.2-.5h0m.7 .3h0m.6-.2h0m.7 0h0m.8-.1h0m.9 .1h0m.3 .1h0m.6 .2h0m.9-.1h0m.5 0h0m.9-.3h0m.5 .1h0m-35.6 .8h0m3.1-.1h0m3.3-.1h0m1.4-.1h0m2 .1h0m.6 .3h0m.7 0h0m4.1 .1h0m.9-.2h0m1.3-.3h0m.8 .3h0m.7-.2h0m.5 .1h0m.7 .1h0m.3 .1h0m1.1 0h0m.7-.3h0m.1 .1h0m1.2 .3h0m.5-.5h0m.7 .4h0m.3 0h0m.8-.1h0m.9-.1h0m.3 .3h0m1-.3h0m.3-.2h0m.9 .3h0m.6 .1h0m.4 0h0m.7 .1h0m.9 0h0m.4-.3h0m.8 0h0m.7 0h0m.6-.1h0m.5 .3h0m.8-.1h0m2-.3h0m1.6 0h0m-40.4 .7h0m1.3 0h0m1.1 0h0m.4-.1h0m2.9 .1h0m.5 .4h0m1.5-.2h0m3.5 .2h0m1-.4h0m.3 .5h0m1.3-.2h0m2.1 0h0m.7-.3h0m1.9 .1h0m.5 .3h0m1.4-.1h0m1.6-.1h0m.7-.2h0m5.1 .3h0m.7 .1h0m.6 .1h0m.4-.1h0m.8-.3h0m.7 .2h0m.5-.3h0m.7 .2h0m.5 0h0m.9 0h0m.3-.3h0m.9 .4h0m.5-.1h0m.8 0h0m.6 0h0m2.9 .3h0m-39.9 .6h0m.5-.4h0m2.3 0h0m1-.1h0m2.2 0h0m.4 .3h0m1.6 .1h0m.5-.1h0m1.5-.1h0m1.1 0h0m1.4 .2h0m.5-.1h0m.7-.1h0m3-.1h0m13.9 0h0m.8 .2h0m.2-.2h0m1.1 .1h0m.3 .1h0m.7 .2h0m.9-.2h0m.4 .1h0m1-.4h0m.6 .5h0m.7-.2h0m.7-.3h0m.6 .3h0m-38 .5h0m.5 .3h0m1.6-.1h0m.4-.2h0m.7 .2h0m2 0h0m.7-.3h0m.7 0h0m2.1-.1h0m25.8 .1h0m.8 .2h0m.4 0h0m.8 .1h0m1.3 0h0m-1 .3h0m1.8 .1h0m0 1h0m7.1 .1h0m-7.4 .5h0m3.6-.2h0m.4-.1h0m.5 .1h0m5.6-.1h0m5.8 .2h0m.2 .2h0m-16.7 .6h0m2.5-.4h0m4.5-.1h0m1.7 .1h0m.4 .4h0m6.5-.3h0m3.2 .3h0m1-.4h0m-19 .6h0m.8 0h0m.7 0h0m2.1 .5h0m.9-.4h0m2.5-.1h0m5.5 .4h0m3.6 0h0m-17 .4h0m3.7-.2h0m5 .4h0m5.6-.4h0m3.9 .2h0m-17.8 .5h0m.4 0h0m2.6 .3h0m1.1 .1h0m1.1-.1h0m.4 0h0m1.3 .1h0m2.4-.3h0m6.6 .1h0m-16.4 .9h0m1.3-.3h0m.7 .1h0m1.6-.1h0m7.9 .1h0m-5.9 .7h0m2.3-.3h0m1 .2h0m3.6 0h0m6.2-.2h0m15.5 0h0m-33.4 .8h0m4.3 .1h0m.5 .2h0m1.2 0h0m.5-.1h0m6.9 0h0m4.2-.1h0m2.1 .3h0m-15.9 .2h0m4.7-.1h0m2.7 .1h0m-12.1 .8h0m2.2-.2h0m1.6 0h0m1.6 .4h0m3-.4h0m.5 .1h0m9.2 0h0m-18.3 .7h0m1.4 .2h0m2.3 0h0m4.3-.2h0m.6 .1h0m2.5 0h0m4.9-.3h0m1.7 .4h0m.7 0h0m-16.3 .6h0m4-.1h0m.6-.1h0m.5 0h0m.4 0h0m.7-.1h0m8.6 .4h0m-16.7 .6h0m2.1 .1h0m2.1-.5h0m1.9 0h0m1.6 .4h0m2.1 .1h0m-8.7 .5h0m6.5 .1h0m5.8-.3h0m1.4 0h0m4 0h0m-19.2 1h0m.9-.4h0m8.4 .3h0m5.2 .1h0m9.9-.2h0m-21.8 .6h0m4.1 0h0m5.6-.1h0m13.2-.1h0m3 .1h0m-28.3 .7h0m1.7 0h0m1.5-.2h0m2.8 .4h0m12.2 0h0m-17.4 .7h0m.6 0h0m3-.2h0m.9 0h0m4.9-.2h0m7.4 .5h0m-16.9 .5h0m.5 0h0m1.6-.1h0m3.9 .2h0m2.5-.2h0m-8.7 .3h0m1.5 .2h0m1.7 .1h0m9.1 .2h0m3-.4h0m-15.4 .6h0m.9 0h0m1.4 0h0m1.2 .4h0m10.1 .1h0m-12.6 .6h0m4.3-.4h0m6.5 0h0m8.6 .2h0m9.7 .1h0m-30.5 .5h0m.3 .2h0m6.2 0h0m1-.1h0m2.7-.1h0m11.9 .3h0m-22.7 .3h0m.8 .3h0m3.4-.2h0m1.9 .1h0m1.1-.2h0m-3.6 .6h0m2.6 .3h0m4.2-.1h0m1.4-.3h0m-11.9 .8h0m1 0h0m4.2 0h0m4.1 0h0m1 .3h0m2.7-.4h0m1.3 .3h0m-14.1 .8h0m1.7-.5h0m4.8 .3h0m1.3-.2h0m1.2 .1h0m14.1 .1h0m-23.3 .5h0m2.9 .3h0m.3-.4h0m4.3 0h0m4.3 .4h0m4.9-.2h0m16.6-.1h0m-32.3 1h0m4.3-.3h0m1.9 .2h0m3.3-.4h0m-10.3 1.1h0m3.1-.3h0m2.1 .1h0m1.1 0h0m2.4 0h0m1.7 0h0m3.2 .2h0m6.7-.4h0m-21 1.1h0m4.4 0h0m1.4-.1h0m1.4 0h0m.3 .1h0m1.3-.3h0m.7 .1h0m.9-.2h0m4.3 0h0m-14.1 .6h0m1.8 .4h0m2.8-.2h0m1.6-.2h0m2.8 .2h0m4.4 0h0m-13.5 .6h0m.6-.1h0m2.2 .1h0m2.8 .1h0m.9-.3h0m3.9 .2h0m-10.3 .5h0m1.3 .3h0m.9 .1h0m1-.4h0m16.1 .5h0m-18.6 .4h0m7.1 .1h0m7.7-.1h0m-12.9 .4h0m.4 .4h0m1.3-.4h0m.8-.1h0m1.2 .6h0m3.5-.3h0m2-.2h0m1.1 .3h0m3.8 0h0m-16.4 .3h0m1.9 .3h0m.7 .1h0m1.1 .1h0m4.5-.2h0m.4-.3h0m1 0h0m4.9 .2h0m-14.8 .6h0m1.2 0h0m4.5 .2h0m1.2-.2h0m1.7 .3h0m4.9-.5h0m-13.8 .8h0m.6 .4h0m3.7 0h0m.5 0h0m2.7-.5h0m2 .2h0m.2 .2h0m5.4 0h0m.5 .1h0m-13.3 .4h0m5-.2h0m1.6 .2h0m.7 .1h0m3.1 0h0m1.7-.1h0m.7-.1h0m1.7 .1h0m.8-.2h0m.6 .4h0m6 0h0m5.9-.2h0m-28.9 .4h0m2 .3h0m3.7 .1h0m20.9-.2h0m-64.8 .8h0m2.9-.1h0m.7 0h0m.4-.1h0m3.4 .1h0m1 0h0m.7-.1h0m.7-.1h0m1.6 .5h0m.9-.4h0m2.1 .1h0m3.4-.2h0m.5 .1h0m.6 .3h0m.7-.2h0m.7-.1h0m.5 .4h0m2.7-.2h0m2.5-.1h0m.5-.2h0m2.1 0h0m2.1 .4h0m1.9 0h0m.9 .1h0m.7-.3h0m.6-.1h0m-34.5 .8h0m1.5 .1h0m4.6-.4h0m1.6 .1h0m4.3 .1h0m1.9 0h0m.8-.1h0m2.6 0h0m1 .4h0m.7-.3h0m1-.2h0m5.4 .3h0m4-.2h0m.4 .2h0m.6 0h0m1.2 0h0m1.2 .2h0m2.1-.2h0m25.9 .1h0m-57.3 .6h0m1.6-.3h0m1.4 .3h0m5.7 .1h0m.6-.1h0m1.2 0h0m1 0h0m.4-.3h0m1 0h0m.9 0h0m4.9 .1h0m10.1 .2h0m1.5-.1h0m.9 .2h0m3.7-.3h0m-36.3 .9h0m7.5 0h0m3.1-.1h0m2.1 .1h0m1.4-.1h0m1.4 .2h0m7 0h0m8.9-.3h0m-31.2 .6h0m1-.1h0m1.6 .2h0m2.5-.1h0m3.2-.1h0m10.8 .4h0m1.2-.4h0m1.4 .1h0m4.2 .3h0m4.4-.4h0m2.3 0h0m1.8 .2h0m-33.4 .7h0m5.7-.3h0m5 .2h0m2.9 0h0m14-.1h0m1.7 .2h0m4.8 .2h0m-34.2 .4h0m4.3-.3h0m15.7 .4h0m9.8 .1h0m-17.9 .3h0" stroke="#000" stroke-opacity="0.9" stroke-width="0.75" stroke-linecap="square" fill="none" filter="url(#b0)"/>
<path d="M231.30 336.30 L258.00 334.00 L270.50 336.30 L269.50 350.00 L268.20 364.00 L231.30 364.00 Z" fill="#000" fill-opacity="1.0" filter="url(#b1)"/>
<ellipse cx="266.2" cy="325.1" rx="7.7" ry="7.0" transform="rotate(0 266.2 325.1)" fill="#000" fill-opacity="1.0" filter="url(#b1)"/>
<ellipse cx="265.95" cy="325.15" rx="8.6" ry="8.0" transform="rotate(0 265.95 325.15)" fill="none" stroke="#a9cc88" stroke-width="1.3"/>
<text x="258.80" y="309.96" font-size="8.3" fill="#86b262" stroke="#86b262" stroke-width="0.12" textLength="16.40" lengthAdjust="spacingAndGlyphs">5.73</text>
<rect x="231.30" y="296.30" width="74.20" height="73.40" fill="none" stroke="#8a8a8a" stroke-width="0.9"/>
<path d="M231.30 353.74h1.3 M231.30 337.79h1.3 M231.30 321.83h1.3 M231.30 305.87h1.3 M247.43 369.70v-1.3 M263.56 369.70v-1.3 M279.69 369.70v-1.3 M295.82 369.70v-1.3" stroke="#444" stroke-width="0.7" fill="none"/>
<path d="M320.8 297.7h0m1.7 .1h0m27.1-.1h0m5.8 .1h0m-12.8 3.4h0m20.3-.1h0m4.2 1.9h0m-33.7 .8h0m-2.9 .9h0m2.9 .6h0m23.8 1.1h0m5.3 .2h0m-14.8 .8h0m9.6 1h0m-39.8 .6h0m1.2-.1h0m24.3 .2h0m3.4 1.3h0m19.1-.2h0m-42.9 2.7h0m36.7 1.3h0m-27 .9h0m-13.9 .3h0m24.9-.2h0m30.2 2.3h0m-55.8 1.4h0m17.3-.3h0m30.4 .4h0m-42.8 .6h0m24.8-.4h0m12.5 .9h0m-35.9 .5h0m34.1 .9h0m-42.6 .6h0m27.9-.3h0m-4.3 2.2h0m38.9-.2h0m-28.7 .7h0m-35.7 2.9h0m63.6 .4h0m-48.1 .8h0m43.3 .1h0m-11.8 .2h0m-44.4 1.5h0m27.1-.1h0m-26.4 1h0m40.9-.2h0m-14.2 2.1h0m34.5-.1h0m-5.8 .8h0m-4.6 .4h0m-50.1 .8h0m24.2 1.2h0m24.4 2.1h0m-56.4 2.5h0m2.2-.4h0m11.5 1.8h0m52.5-.1h0m-33.3 .7h0m21.7 1.4h0m14 .9h0m-26.3 .7h0m1 .3h0m-8.7 1.3h0m35.4 1.1h0m-67.5 1.1h0m27.9 .6h0m40.9 0h0m-49 3.6h0m41.5 .2h0m-36.5 .6h0m21 1.5h0m-7 1.1h0m18.9 .6h0m-57.1 .6h0m55.8 1.8h0m6.6 .3h0m.3 .1h0m-60.4 1.6h0m8.3 .6h0m-13.9 .4h0m15 0h0m21.5 .3h0m.6 0h0m18.6 .2h0m-40 .5h0m13.1-.3h0m23.9 1h0m-17.6 1.1h0" stroke="#000" stroke-opacity="0.35" stroke-width="0.75" stroke-linecap="square" fill="none" filter="url(#b0)"/>
<path d="M318.7 310.7h0m16.8 4.6h0m-2.2 2.5h0m13.1 3.1h0m.3-.4h0m-2.1 .6h0m-1.2 1h0m-1.1 .7h0m-18.7 .3h0m19.5 .4h0m.6-.4h0m4.7-.1h0m-22.9 1.1h0m13.9 0h0m1.6 0h0m.6 0h0m3.8-.1h0m3.1 .1h0m-18.8 .6h0m13.4 .1h0m2.2-.4h0m.9-.1h0m1.3 .5h0m1 0h0m-38.7 .5h0m1.8-.3h0m1.2 .2h0m2.8-.2h0m7.8 .2h0m3.3 .2h0m5.6-.2h0m5-.3h0m4.5 .4h0m5.2-.3h0m5.3 0h0m-37.2 1h0m12.1 .1h0m2.7-.3h0m3.5 .3h0m9.8 0h0m2.7-.1h0m-33.9 .7h0m3.9 0h0m3.7-.5h0m4.7 .2h0m3.7-.2h0m9 .3h0m5.7 .1h0m4 .2h0m1-.2h0m-34.9 .8h0m.7-.5h0m1 .3h0m1.2 0h0m7.3 .2h0m6.1-.4h0m2.3 0h0m1.5 .3h0m6.7 .1h0m4.1-.3h0m1.4 0h0m3 .1h0m1.4 .1h0m-38.5 .4h0m2.1 .3h0m2.6-.3h0m1.4 .2h0m1.3-.3h0m3.7 .1h0m1.3-.2h0m3.7 .1h0m5.4 .3h0m.9 0h0m1-.4h0m8 .4h0m.5 .2h0m.8-.2h0m.3-.2h0m1.7 0h0m5.1 .3h0m-40.7 .2h0m.9 .4h0m.6-.3h0m9.4 .2h0m7-.1h0m2.9 .3h0m1.6-.2h0m5.5-.1h0m3.1 .3h0m.2 0h0m3-.2h0m5.5-.1h0m1.3-.1h0m.8-.1h0m2 .3h0m-42.3 .5h0m2.1 .1h0m3.9-.2h0m8.2 .5h0m1.9-.4h0m.7 .3h0m5.6 .1h0m.4-.5h0m1.3 .4h0m7.1 0h0m7.8-.5h0m.8 .2h0m2.8 .1h0m-32.5 .7h0m2 .1h0m.9-.3h0m1.3 .1h0m2.8 .3h0m.4-.3h0m1 .3h0m2.6-.5h0m.2 .5h0m1-.1h0m3.6-.4h0m5.2 0h0m6.7 .1h0m1.1 .1h0m-39.3 .8h0m1.4-.2h0m.8 .1h0m1.1-.2h0m4.6 .2h0m1.5 .2h0m2.1-.1h0m8.4-.1h0m3.4 .2h0m2.1-.1h0m2-.2h0m.6-.2h0m3.1 .3h0m5.7 0h0m5.1 0h0m-43.3 .7h0m.7-.1h0m.8 .1h0m1 .2h0m.8-.2h0m.8 0h0m1.7-.1h0m2.4-.1h0m3.7 .3h0m2.1 0h0m2.1-.4h0m.5 .5h0m1.1-.3h0m.5 .2h0m5.7 0h0m4.9-.2h0m.2 .1h0m1.6-.1h0m4.9 .1h0m3.6-.3h0m2.3 .4h0m1.5 0h0m-41.6 .3h0m1.5 .5h0m2.2 0h0m2.1-.1h0m.4 0h0m1-.1h0m1.9 .2h0m3.3-.3h0m.8 .1h0m2.2-.2h0m4.5 0h0m1.4 .2h0m4.9 0h0m1.3-.4h0m4.6 .2h0m.6 0h0m1.6 .1h0m1.4 .2h0m2.6-.4h0m1.1 .3h0m1.3-.3h0m5.1 .1h0m-45.3 .5h0m.9 .1h0m1.3 0h0m1.7 .4h0m1.1 0h0m2.2 0h0m2.2-.2h0m.4-.2h0m.9 .2h0m1.5-.2h0m1.5 .2h0m.5 0h0m.6 0h0m2.5 .1h0m.1 .1h0m.6-.3h0m1.2 .3h0m.7-.3h0m3-.1h0m2 0h0m.8-.1h0m1.3 .5h0m.4 0h0m.5-.4h0m3.8 .2h0m.7 .2h0m3.3-.5h0m2.9 .3h0m1.9-.3h0m.3 .2h0m.9 .2h0m-42.2 .3h0m1.5 .2h0m1.1-.2h0m1.5 0h0m.2 .4h0m1 0h0m.3-.1h0m.8 0h0m.8 .1h0m.9 0h0m1.8-.4h0m1.2 .5h0m.6-.3h0m.6-.3h0m.4 .5h0m1.5 0h0m1-.2h0m.9-.2h0m1.1 0h0m4 .3h0m1.6-.1h0m.8-.2h0m.6 0h0m.4 .3h0m.8-.2h0m1.5 0h0m.2 .1h0m.7 0h0m1.4 .1h0m.7 .1h0m1.5-.4h0m.4 .3h0m.4-.4h0m.7 .1h0m1.7 .4h0m.7 0h0m1.3-.4h0m.3 .3h0m.8-.3h0m.7 .1h0m.6 0h0m3 .1h0m1.3-.2h0m-44.8 1.1h0m1.5-.3h0m.8 0h0m1 0h0m3.5-.2h0m1.1 0h0m.5 0h0m2.7 0h0m20.8 .1h0m.5-.1h0m2.3 0h0m1.4 .1h0m.2 .1h0m1.4 0h0m.8 .1h0m.6-.2h0m.9 .3h0m.8-.3h0m1 .2h0m1 0h0m.6 0h0m.7 0h0m2.4-.3h0m-4.6 1.1h0m.6-.4h0m.4 .1h0m1.1-.1h0m2.2 0h0m5.8 .3h0m-9.7 .5h0m.8 .1h0m2-.3h0m-3.4 .7h0m.8 .3h0m1.9-.3h0m6.5 .3h0m-9.4 .6h0m9.4-.2h0m-8.8 .7h0m2.1 .2h0m-1.9 .8h0m-.4 .3h0m4.6 0h0m-4.8 .7h0m.5 .3h0m2-.1h0m-2.2 .2h0m1.1 0h0m.7 .1h0m.6 0h0m.5 .4h0m-4 .4h0m.8-.1h0m.5 .3h0m-1.3 .3h0m3.5 .3h0m-3.5 .4h0m.9 .4h0m1.1 0h0m-1.9 .3h0m.9-.2h0m1.9 .2h0m2.3-.1h0m-4.9 .7h0m1.2 .2h0m1.5 .1h0m2.3-.2h0m-5.1 .5h0m.4 0h0m1.4 .2h0m1.3-.2h0m-3.7 .9h0m.5 0h0m.5-.3h0m-1.1 1.1h0m1 0h0m-.8 .3h0m14.9 .2h0m-14.9 .7h0m.6 .1h0m.7-.3h0m2.9 .3h0m-4.5 .3h0m.7 .3h0m-.8 .7h0m1-.5h0m2.5 .3h0m1.2-.1h0m-4.5 .9h0m.6 0h0m.9-.3h0m2.6-.1h0m1.7 .4h0m-6.6 .6h0m.8-.3h0m.4 .2h0m.8-.1h0m.8-.1h0m1 .1h0m4.7 .1h0m-8.2 .7h0m.9 .2h0m1-.5h0m1.3 .3h0m-3.1 .8h0m.5 0h0m.8-.3h0m.4-.1h0m2.2 0h0m2.2 .4h0m-5.9 1h0m2.3 .2h0m1.1-.3h0m-4.4 .8h0m.7 .2h0m1.3-.3h0m.7 0h0m-2.5 .9h0m.5-.2h0m.3 .3h0m1.7-.1h0m-2.8 .8h0m2.8-.2h0m.3 .1h0m1-.4h0m1.8 .4h0m-5.7 .3h0m1.9 .5h0m-2.5 .5h0m.6-.3h0m.3 .3h0m1.7-.1h0m1.6 .2h0m4.2-.1h0m-8.2 .5h0m.8-.2h0m1.3 .1h0m2.6 .4h0m-4.6 .4h0m.7 0h0m2.2-.1h0m.9 .3h0m4.8 0h0m-9 .4h0m.7 .1h0m1.1 .1h0m.6-.1h0m4.6-.4h0m-7.4 .7h0m14.7 0h0m-14.4 .8h0m.8-.2h0m1.3 .5h0m3.2-.4h0m7.3 .1h0m-11.7 .9h0m1-.4h0m1.8 .1h0m-3.8 1h0m.8-.1h0m2.6 .1h0m-3.9 .3h0m5.2-.1h0m-5.3 .8h0m-.1 .9h0m.7-.1h0m1.8-.2h0m-2.5 .7h0m.6 .4h0m-1.7 .6h0m.3-.2h0m1 0h0m1.5 .2h0m.5 0h0m-3.8 .6h0m.6-.3h0m.2 .1h0m.9 .2h0m1.3-.2h0m-3.8 .6h0m.7 .2h0m.6-.2h0m4.7 .3h0m-41.2 .6h0m.7-.1h0m.4 .1h0m1.1-.3h0m.2 0h0m.9 .4h0m.6-.3h0m1.5-.2h0m.7 .4h0m2.4-.2h0m.8 .2h0m.5-.1h0m.6 .1h0m1.2-.4h0m.8 .5h0m.8-.2h0m.9-.3h0m.7 .4h0m.6-.2h0m1.2 .3h0m.7 0h0m1.1 0h0m.4-.1h0m2.7-.2h0m.7 0h0m1.5-.1h0m1.9 .1h0m1.1 .2h0m.7-.3h0m1.1 .1h0m2.9-.1h0m.6 .2h0m2.8-.4h0m.1 .1h0m1.1 .4h0m.5-.2h0m.7-.3h0m.7 .2h0m.4-.1h0m-38.2 .6h0m.7 .5h0m.6-.4h0m.5 .4h0m2.7-.1h0m.4-.2h0m1.8 0h0m1.2 0h0m.6 .2h0m.6-.2h0m.8 .1h0m.5 0h0m.8 .2h0m.3 0h0m.9-.3h0m1.7-.2h0m1.9 .4h0m.6 0h0m1-.2h0m.8 .3h0m.3-.1h0m2.9-.1h0m1.1 .2h0m.8 0h0m.4-.4h0m1.3 .4h0m.6-.3h0m.7 .2h0m.7-.1h0m1.1 .1h0m.8 .1h0m.7 0h0m.6-.3h0m.6 .3h0m.7-.4h0m.5 .3h0m1.1-.3h0m.2 .4h0m1.3-.1h0m3-.4h0m.6 0h0m1.3 .2h0m-39.3 .7h0m4.8 .1h0m1.5 0h0m1.5-.3h0m1.1 .1h0m1.1-.1h0m.6 .4h0m2.1 0h0m3.8-.4h0m.9 0h0m2.4 .1h0m1.5 0h0m1-.1h0m1.9 0h0m.9 .5h0m.7-.2h0m3.2 .1h0m.7-.3h0m.5-.1h0m3.4 0h0m4 .3h0m-35.4 .6h0m3.5-.1h0m1 .1h0m2.5 .2h0m1 0h0m.3-.3h0m1.3 .3h0m1.3-.1h0m1.9 0h0m.9 .1h0m1-.1h0m1.9-.1h0m3.3-.2h0m.6-.1h0m4.1 .4h0m1.3-.2h0m2.8-.2h0m1.8 .3h0m1.9-.2h0m-31 .6h0m1.6 .3h0m3.6 .1h0m.9-.2h0m2.6-.1h0m1.3-.2h0m2.9 .4h0m2.8 .1h0m1-.4h0m.8 .4h0m1.3-.5h0m.7 .3h0m.8-.1h0m2.4-.1h0m.7 .4h0m.5-.5h0m.5 .3h0m.9-.2h0m.6 .1h0m1.8-.1h0m2.3 .2h0m1.9-.1h0m1 0h0m1.5 .3h0m-37.2 .5h0m6.2-.2h0m10.6 .4h0m6.7-.3h0m4.1 0h0m2.6 0h0m.2 .2h0m3.3 .1h0m3.3-.5h0m.8 .4h0m-36.2 .5h0m1.2 .1h0m7.2-.3h0m.3 .3h0m.9-.3h0m9.6 .2h0m12.4 .1h0m-31.6 .5h0m2-.1h0m.8 0h0m.8 .2h0m5.9-.2h0m5.2 .3h0m4.4-.3h0m6.2-.1h0m4.8 .4h0m1-.2h0m5 .2h0" stroke="#000" stroke-opacity="0.9" stroke-width="0.75" stroke-linecap="square" fill="none" filter="url(#b0)"/>
<path d="M308.80 334.00 L330.00 333.00 L351.40 334.00 L349.00 350.00 L346.80 361.70 L344.00 364.00 L308.80 364.00 Z" fill="#000" fill-opacity="1.0" filter="url(#b1)"/>
<ellipse cx="344.5" cy="324.5" rx="9.2" ry="8.1" transform="rotate(0 344.5 324.5)" fill="none" stroke="#7aac52" stroke-width="1.3"/>
<text x="333.00" y="310.36" font-size="8.3" fill="#86b262" stroke="#86b262" stroke-width="0.12" textLength="23.30" lengthAdjust="spacingAndGlyphs">0.0282</text>
<rect x="308.80" y="296.30" width="73.70" height="73.40" fill="none" stroke="#8a8a8a" stroke-width="0.9"/>
<path d="M308.80 353.74h1.3 M308.80 337.79h1.3 M308.80 321.83h1.3 M308.80 305.87h1.3 M324.82 369.70v-1.3 M340.84 369.70v-1.3 M356.87 369.70v-1.3 M372.89 369.70v-1.3" stroke="#444" stroke-width="0.7" fill="none"/>
<text x="88.3" y="409.70" font-size="8.2" fill="#111" textLength="67.8" lengthAdjust="spacingAndGlyphs">donor CD3<tspan dy="-2.9" font-size="4.6">-</tspan><tspan dy="2.9">CD19</tspan><tspan dy="-2.9" font-size="4.6">-</tspan></text>
<rect x="47.0" y="413.80" width="149.30" height="1.4" fill="#000"/>
<text x="66.30" y="424.12" font-size="8.2" fill="#111" stroke="#111" stroke-width="0.12" textLength="10.03" lengthAdjust="spacingAndGlyphs">B6</text>
<path d="M78.63 421.30H85.43" stroke="#222" stroke-width="0.75"/>
<path d="M86.93 421.30L84.33 420.00L84.33 422.60Z" fill="#222"/>
<text x="89.93" y="424.12" font-size="8.2" fill="#111" stroke="#111" stroke-width="0.12" textLength="10.03" lengthAdjust="spacingAndGlyphs">B6</text>
<text x="132.00" y="424.12" font-size="8.2" fill="#111" stroke="#111" stroke-width="0.12" textLength="10.03" lengthAdjust="spacingAndGlyphs">B6</text>
<path d="M144.33 421.30H151.13" stroke="#222" stroke-width="0.75"/>
<path d="M152.63 421.30L150.03 420.00L150.03 422.60Z" fill="#222"/>
<text x="155.63" y="424.12" font-size="8.2" fill="#111" stroke="#111" stroke-width="0.12" textLength="32.37" lengthAdjust="spacingAndGlyphs">BALB/b</text>
<rect x="39.35" y="431.50" width="1.3" height="196.80" fill="#000"/>
<path d="M40.00 427.50 L42.50 433.70 L37.50 433.70 Z" fill="#000"/>
<text transform="translate(42.32,653.30) rotate(-90)" x="0" y="0" font-size="8.2" fill="#111" stroke="#111" stroke-width="0.12" textLength="23.50" lengthAdjust="spacingAndGlyphs">CD122</text>
<text x="48.20" y="665.32" font-size="8.2" fill="#111" stroke="#111" stroke-width="0.12" textLength="23.00" lengthAdjust="spacingAndGlyphs">NKp46</text>
<rect x="73.80" y="661.85" width="121.00" height="1.3" fill="#000"/>
<path d="M198.80 662.50 L191.60 659.90 L191.60 665.10 Z" fill="#000"/>
<rect x="18.1" y="427.5" width="1.3" height="224" fill="#000"/>
<text transform="translate(13.32,552.00) rotate(-90)" x="0" y="0" font-size="8.2" fill="#111" stroke="#111" stroke-width="0.12" textLength="24.80" lengthAdjust="spacingAndGlyphs">spleen</text>
<text x="21.30" y="468.32" font-size="8.2" fill="#111" stroke="#111" stroke-width="0.12" textLength="10.70" lengthAdjust="spacingAndGlyphs">D7</text>
<text x="22.00" y="544.62" font-size="8.2" fill="#111" stroke="#111" stroke-width="0.12" textLength="15.00" lengthAdjust="spacingAndGlyphs">D14</text>
<text x="21.30" y="620.82" font-size="8.2" fill="#111" stroke="#111" stroke-width="0.12" textLength="15.70" lengthAdjust="spacingAndGlyphs">D28</text>
<path d="M52.9 431.9h0m59 6.3h0m-8.4 2.6h0m-37.1 6.8h0m38.1 1.7h0m-15 2.1h0m13.2 2h0m-26.5 3.3h0m29.8 .9h0m7.6 .1h0m-12 .5h0m-44 1.9h0m9.1 .5h0m42.6 1.7h0m6.2 1.1h0m-63.5 1.7h0m24.8 5.7h0m-22.9 9.5h0m21.6 2.7h0m29.5 1h0m-56.7 3.6h0m37 3.2h0m12.6 .2h0m-47.9 3.4h0m24.7 3.5h0m-6.4 .7h0" stroke="#000" stroke-opacity="0.35" stroke-width="0.75" stroke-linecap="square" fill="none" filter="url(#b0)"/>
<path d="M60.2 455.1h0m11.8 .3h0m-18.8 .3h0m11.1 .8h0m8.2 .2h0m4.3-.2h0m1.4 0h0m-26.6 .4h0m4.1 .4h0m15.2 .1h0m1.3-.1h0m4.4-.2h0m2.5 .2h0m-26.4 .3h0m.7 .3h0m7.3 0h0m7.3 0h0m2.8-.3h0m9.4 .2h0m-26.3 .8h0m2.4 0h0m13.3-.3h0m.6 .1h0m1.3-.1h0m1.2 .4h0m.8-.3h0m3.6 .2h0m-23.7 .5h0m.7 .1h0m16.8 0h0m2.3 .1h0m2.2-.1h0m.4-.4h0m1.4 .4h0m.9-.4h0m2.3 .1h0m-31.1 1h0m20.8-.4h0m2.2 .2h0m1 0h0m1.5 .1h0m.8-.1h0m.5-.1h0m1.4-.1h0m-26.2 1.1h0m2.6-.2h0m1.5 0h0m1 .3h0m.6-.5h0m1.4 .2h0m1.3-.2h0m2.8 .2h0m11.4-.3h0m1.6 .2h0m-21.8 1h0m2.6-.3h0m2.3 .1h0m.3 .2h0m2.1-.5h0m1.4 0h0m10 .3h0m.2-.2h0m2.3 .2h0m.6 0h0m.3-.3h0m1.7 0h0m1.8 .3h0m.8-.3h0m-24.3 .7h0m2 .1h0m.7 .4h0m1.2-.3h0m.7-.2h0m6.7-.1h0m.3 .2h0m1.9-.2h0m.7 .3h0m1.7-.2h0m.1 .2h0m.7 .2h0m.7-.4h0m1.5 .1h0m1.8-.1h0m1.3-.1h0m2.3 .5h0m.4-.1h0m-30.9 .6h0m.2-.1h0m1.2-.2h0m2.7 .3h0m5.1-.3h0m.7 0h0m.7 .2h0m9 .2h0m1.1-.1h0m1.6-.3h0m.7 0h0m.8 .4h0m.8 0h0m2.6-.2h0m.4-.1h0m1.2 .1h0m-31.4 .5h0m.4 .5h0m.4-.5h0m.6-.1h0m.7 .2h0m2.1 .4h0m8.7-.3h0m1 .2h0m1.6-.1h0m.7 .2h0m.7-.2h0m6-.1h0m1.3-.2h0m.8 .2h0m2.2 0h0m.4-.1h0m1.4 .2h0m1.5-.1h0m.2-.1h0m3.7 0h0m-34.8 1h0m1-.3h0m1.1 0h0m3.7-.1h0m9.8 .1h0m.7-.1h0m3.9 .4h0m1-.1h0m.2 0h0m1.5-.4h0m2 .2h0m.5-.1h0m.7-.1h0m.5 .2h0m.6 .3h0m1-.1h0m.4 0h0m-28.2 .6h0m.5 0h0m.3 .1h0m.7-.2h0m2.3 .1h0m15.6 0h0m3.2 0h0m1.3 .2h0m.7-.3h0m1.2 .3h0m.6-.5h0m.4 .2h0m.8 0h0m.5 .3h0m3.3-.5h0m1.6 .2h0m.8-.1h0m-30.7 .7h0m10.8 .1h0m.8 0h0m4.3 .2h0m1-.4h0m2.1 .2h0m.6-.2h0m.7 0h0m.3 0h0m.8 .1h0m.9-.1h0m.2 0h0m1 .4h0m.5-.4h0m.4 0h0m.6 .3h0m1.5-.1h0m.9-.1h0m1.4-.1h0m.4-.1h0m.5 .1h0m1.4 .3h0m-33 .6h0m2.6-.2h0m.2 0h0m14 .2h0m5.3-.3h0m.4 .1h0m.5 .2h0m2.4 0h0m.3-.2h0m1.4 .2h0m2.8 0h0m.6 0h0m.8-.3h0m-32.9 .9h0m1.9-.2h0m1.3 .4h0m.6-.2h0m12.2 .1h0m.4 0h0m6.4 0h0m1.5-.3h0m.5 0h0m.7 0h0m1.1 0h0m1.8 .4h0m-27.7 .1h0m.6 .2h0m3 .2h0m.2 0h0m11.3-.4h0m1 0h0m1.7 .5h0m4.3-.1h0m1.4 0h0m.7-.2h0m1.6 .1h0m2.3-.1h0m1.3 .2h0m.6 0h0m1.3-.3h0m-31.1 .8h0m1.2 .1h0m12.9-.1h0m1.8 .2h0m4.7 .1h0m3.2-.5h0m2 .4h0m.7 0h0m-27.5 .7h0m4-.1h0m11.3-.1h0m5.1 0h0m3.9 0h0m1.4-.2h0m5.6 .2h0m-30 .6h0m2.1 .3h0m.6-.2h0m12.6-.1h0m.4 .2h0m.6 0h0m7-.2h0m2.9 .2h0m.8 .1h0m1-.1h0m4.2-.1h0m-32.2 .9h0m1.8-.3h0m.9-.2h0m12.1 .3h0m1.1 .1h0m5.1-.2h0m1.5 .1h0m1.8-.4h0m3.3 .2h0m3.2-.1h0m-30.8 .8h0m1.1 .2h0m1.2-.4h0m12.9 .3h0m.8-.2h0m-16.8 .5h0m2.5 .4h0m.8-.4h0m13 0h0m.7 .5h0m-16.7 .2h0m1.4 .3h0m.8-.3h0m.5 0h0m12.5 0h0m-15.7 1.1h0m.3-.3h0m1.4-.1h0m.9 .2h0m13.5 .1h0m.6 0h0m.6-.4h0m4.5 .2h0m1.2 .4h0m.7-.2h0m-23.5 .7h0m2-.2h0m.2 0h0m13.8-.1h0m.9 .1h0m.5 0h0m-17 .5h0m.4 .5h0m1.8 0h0m15.2-.5h0m5.2 .2h0m11.3 .2h0m-32.7 .5h0m.9-.2h0m13.6 0h0m1.2 0h0m3.8 0h0m.9 .3h0m-22 .3h0m2.5 .4h0m14.4-.4h0m.7-.1h0m-15.4 .7h0m13.9 .5h0m1.6-.1h0m-16.5 .2h0m15.2 .6h0m-14.4 .1h0m14.6 .1h0m1 0h0m5.1 .3h0m-6.3 .2h0m.6 .6h0m-16.4 .4h0m15.9 .2h0m2.7-.5h0m1.6 .1h0m-19.2 .7h0m.7 .2h0m13.8 .1h0m.6 0h0m.6-.1h0m2.7-.3h0m2.4 .1h0m1.3 .4h0m-23.8 .6h0m1 0h0m17.2 0h0m.4-.5h0m1.5 .3h0m.8 0h0m4.2-.1h0m-22.9 .9h0m14.5-.5h0m.7 .3h0m3.6-.1h0m-19.9 1h0m1.1-.4h0m15.1 .4h0m9.7-.1h0m-26.5 .3h0m1.6 .1h0m.3 .2h0m14.5 0h0m1.6-.2h0m1.6 .2h0m.3-.3h0m.9 .4h0m-20 .2h0m.3 .2h0m.6 0h0m14.1-.2h0m.3 .4h0m.6-.2h0m-16.5 .7h0m16.3 .3h0m.7-.2h0m.4 .1h0m1-.2h0m-17.8 .5h0m14.9 .1h0m.5-.1h0m1.2 0h0m1.5-.1h0m-17.2 .8h0m15-.2h0m.8 .2h0m1.2 .2h0m.9 0h0m8.6 .1h0m-28.6 .5h0m1.4-.3h0m.7 .1h0m14.2 .1h0m1-.2h0m3 .2h0m-20.5 .6h0m1.9 .3h0m17-.1h0m1.8-.4h0m.4 .3h0m5.4-.3h0m-23.8 .7h0m13.7 .4h0m1.9-.1h0m.7-.2h0m2.7 .1h0m.3-.1h0m5.2 .2h0m-25.2 .7h0m.4-.1h0m16.3 0h0m.5-.2h0m2.5 .2h0m2.1 .1h0m-24 .5h0m2.7-.2h0m15.2 .3h0m1 .1h0m1.7-.2h0m7.4-.2h0m-27.6 1.2h0m.2-.2h0m1.5-.2h0m.4 .2h0m14.6-.2h0m.8 .3h0m2.5-.4h0m7.6 0h0m-26.6 .8h0m1.2 0h0m14.1 0h0m1.4 .1h0m-18.2 .8h0m.9-.3h0m1.9 .2h0m13.8-.3h0m1.6 .3h0m3.7 0h0m.5-.1h0m-22.1 .9h0m.4-.3h0m1.4 .3h0m.5-.4h0m13.8 .2h0m1-.3h0m1.8 .5h0m.6-.4h0m1.1 .1h0m2.8 0h0m-20.6 .4h0m13.5 .4h0m.6-.3h0m.4 .2h0m.9 .2h0m1.7-.4h0m-18.4 .9h0m1.3-.1h0m15.4-.2h0m.3 .4h0m1.1 0h0m.6 .1h0m1.9 0h0m.3-.1h0m-20.4 .4h0m1.1 .3h0m13.2-.3h0m3.1 .1h0m3.4 .1h0m-22.5 .4h0m1 0h0m1 0h0m14-.1h0m.6 .4h0m.4 0h0m1.7-.1h0m-18 .7h0m2.1-.2h0m12.7 .2h0m.5-.1h0m.9 .2h0m3-.1h0m4.3-.3h0m-21.9 .9h0m13.6 .2h0m2.7-.5h0m6.8 0h0m-9.9 1.1h0m4.1-.5h0m11.4 .3h0m-28.8 .6h0m13.7 .1h0m5.7-.1h0m3.4 .2h0m-24.5 .4h0m.5 .1h0m2.4 .2h0m23.5-.3h0m-24.4 1h0m-2.6 .5h0m.3-.4h0m1.5 .4h0m.7 0h0m1.2 0h0m12.3-.4h0m-13.2 1.1h0m1-.1h0m11.6-.2h0m7.6 .1h0m.8 .1h0m1.5 .2h0m-10.5 .5h0m.8 .2h0m.9-.2h0m.6-.1h0m-16.9 .6h0m2.4-.1h0m11.7 .3h0m.4 0h0m-10.1 .4h0m9.4 .3h0m.4-.4h0m.9 .1h0" stroke="#000" stroke-opacity="0.9" stroke-width="0.75" stroke-linecap="square" fill="none" filter="url(#b0)"/>
<path d="M63.10 482.50 L63.05 486.35 L62.91 489.31 L62.67 491.93 L62.33 494.29 L61.91 496.39 L61.39 498.23 L60.80 499.82 L60.12 500.20 L59.35 500.20 L58.50 500.20 L57.55 500.20 L56.30 500.20 L55.05 500.20 L54.10 500.20 L53.25 500.20 L52.48 500.20 L51.80 499.82 L51.21 498.23 L50.69 496.39 L50.27 494.29 L49.93 491.93 L49.69 489.31 L49.55 486.35 L49.50 482.50 L49.55 478.65 L49.69 475.69 L49.93 473.07 L50.27 470.71 L50.69 468.61 L51.21 466.77 L51.80 465.18 L52.48 463.87 L53.25 462.84 L54.10 462.10 L55.05 461.65 L56.30 461.50 L57.55 461.65 L58.50 462.10 L59.35 462.84 L60.12 463.87 L60.80 465.18 L61.39 466.77 L61.91 468.61 L62.33 470.71 L62.67 473.07 L62.91 475.69 L63.05 478.65 Z" fill="#000" fill-opacity="1.0" filter="url(#b1)"/>
<ellipse cx="73.8" cy="463.2" rx="11.1" ry="10.2" transform="rotate(-15 73.8 463.2)" fill="none" stroke="#8c1b3d" stroke-width="1.5"/>
<text x="68.80" y="447.26" font-size="8.3" fill="#7a2d4c" stroke="#7a2d4c" stroke-width="0.12" textLength="15.40" lengthAdjust="spacingAndGlyphs">0.85</text>
<rect x="45.80" y="426.30" width="74.40" height="73.90" fill="none" stroke="#8a8a8a" stroke-width="0.9"/>
<path d="M45.80 484.13h1.3 M45.80 468.07h1.3 M45.80 452.00h1.3 M45.80 435.94h1.3 M61.97 500.20v-1.3 M78.15 500.20v-1.3 M94.32 500.20v-1.3 M110.50 500.20v-1.3" stroke="#444" stroke-width="0.7" fill="none"/>
<path d="M185.0 427.3h0m-18.1 1.9h0m-25.9 3.7h0m2.4 1.4h0m44.6 2.6h0m-44.6 5.9h0m20.8 .2h0m-38 5.5h0m19.3 2.6h0m-8 2.3h0m40.6 .4h0m-17.3 .5h0m-4.9 1.9h0m-27 .8h0m11.7 6.5h0m-6.6 .7h0m37.3 .5h0m-42 2.4h0m-.9 .7h0m33 .8h0m19.1 1h0m-21.5 1.2h0m-20.5 7h0m9.4 1.4h0m19.8 4.1h0m-20 4.6h0m27 5.4h0m-48.2 5.2h0" stroke="#000" stroke-opacity="0.35" stroke-width="0.75" stroke-linecap="square" fill="none" filter="url(#b0)"/>
<path d="M132.9 450.1h0m18.1 5.8h0m-2.7 .7h0m.2-.3h0m-10.8 .8h0m15 0h0m-6.1 .9h0m2.9-.2h0m5.5 .1h0m.9 0h0m-26.8 .5h0m7.6 .3h0m11.9-.1h0m1.5-.3h0m1.3 .2h0m-21.7 .8h0m17.3-.4h0m2.4-.1h0m1.6 .5h0m.4 .1h0m.4 0h0m1.1-.4h0m1.4 .2h0m.9-.1h0m-22.8 .7h0m4.5 .1h0m9.4-.1h0m3.9-.3h0m3.4 .2h0m.3 .1h0m.5-.3h0m3.3 .5h0m-23.1 .5h0m4.7 .2h0m9.7-.1h0m.9-.3h0m1.1 .3h0m.8-.2h0m2-.1h0m2.3 .2h0m1.7 .1h0m.9-.4h0m-29.2 1.1h0m1.8-.4h0m.6 .2h0m.5-.3h0m1.5 .2h0m.8-.2h0m.5 .4h0m1.8 .1h0m7.1-.2h0m4.1-.3h0m.5 .1h0m.8 .4h0m.6 0h0m1-.3h0m2.4-.1h0m6.3-.1h0m-30.7 .8h0m3.7 0h0m1.3 .1h0m.3 .2h0m2.8-.1h0m5.4-.3h0m2 .1h0m1.1 .1h0m1.8 0h0m.6-.2h0m1.4 .5h0m4-.6h0m.7 .2h0m.7 0h0m.2 .4h0m3-.4h0m-32.9 .9h0m1.6-.1h0m2.5 .2h0m2-.3h0m1 .2h0m.9-.3h0m3.4 .2h0m.3 0h0m.6-.2h0m.8 0h0m4.1-.1h0m1.9 .2h0m2 .2h0m.4-.2h0m1.3 .3h0m1.6-.1h0m.4-.1h0m2.6-.3h0m.6 .4h0m2.5 .1h0m.9-.4h0m-24.6 .7h0m5.6-.1h0m.5 .3h0m1.4-.2h0m2.3 .3h0m2.1 0h0m5.4 .1h0m1.1-.4h0m.1 .2h0m1.1 .1h0m1.2-.4h0m.8 .5h0m.6-.2h0m.8-.3h0m-30.5 1h0m1.3 0h0m.7 0h0m4.3-.2h0m.4 .1h0m7.2-.1h0m1.1 0h0m4.9 .3h0m1.2-.2h0m.6-.3h0m.7 .3h0m.5-.2h0m.5 .2h0m.8-.2h0m.9-.1h0m1.9 .1h0m.8 .2h0m.3 0h0m.9-.3h0m.3 .4h0m1.1 0h0m.8-.1h0m2.4-.2h0m.4-.1h0m-31.1 .7h0m11.6 .1h0m.4 .3h0m.9-.3h0m6.8 .3h0m1-.3h0m.9 .2h0m.3 .1h0m1-.3h0m.2-.1h0m.8 .2h0m1-.2h0m3.1 .3h0m.3 0h0m3.1 0h0m1.2 .1h0m-34.8 .5h0m1-.3h0m2.9 .4h0m.7-.2h0m.6 .1h0m9.5 .1h0m3.2-.2h0m.3 0h0m2.8 0h0m.8 0h0m2 .2h0m.7 .1h0m.6-.3h0m.3 .1h0m1.7 .1h0m.9-.4h0m1 .3h0m.2 .2h0m1-.2h0m4.8 0h0m-35.4 .8h0m.4-.3h0m1.1 .4h0m1.2-.5h0m2.6 .3h0m9.4 .2h0m.7-.6h0m3.6 0h0m1 .1h0m1.4 .4h0m.9-.4h0m.6 0h0m.2 .2h0m.7 0h0m1 .2h0m.7-.3h0m1.4-.1h0m.2 .5h0m2.3-.2h0m1.5-.3h0m4.7 .4h0m-32.3 .5h0m12.5 .2h0m.4-.4h0m4.3-.1h0m1.1 .3h0m.2-.3h0m.7 .2h0m2.2-.1h0m1.2 .1h0m.6 .3h0m1.6-.4h0m2.4 .1h0m.5 .1h0m.6-.2h0m-31.4 1h0m15.2-.2h0m1 .2h0m6.3-.3h0m1.3 0h0m.4 .1h0m1.1 .1h0m.5 0h0m.6-.3h0m.7 .5h0m-25.2 .3h0m.7 .1h0m1 .1h0m13.6 .1h0m4.1-.3h0m2.3-.2h0m1.7 .5h0m.7 0h0m1.1-.2h0m.6-.2h0m2.2 .4h0m3.6-.1h0m-31.1 .5h0m.8 .3h0m.7-.2h0m11.4 .1h0m.7-.3h0m6.9 .2h0m3.8-.1h0m3.7 .2h0m1.6-.3h0m.7 0h0m1.1-.1h0m-32.6 .6h0m1.8 .3h0m12.4-.1h0m.5 0h0m.9-.1h0m1.2 .4h0m.6-.1h0m7.1-.3h0m1.6 .3h0m3.9-.3h0m1 .2h0m-32 .8h0m3.4-.2h0m13.9-.2h0m.4 .3h0m6.6-.3h0m1 .2h0m1.3-.2h0m1.7 .2h0m1.1 .1h0m-13.6 .6h0m3.1 .2h0m2.1-.5h0m2.6 .4h0m1.8-.3h0m1.5 .1h0m.6 .2h0m1.3-.3h0m1.5 .2h0m-30.9 .5h0m1.5 .3h0m1.2-.4h0m.9 .2h0m13.6 .2h0m.4-.1h0m.7 .1h0m.8-.3h0m.8 0h0m.3-.1h0m4.7 0h0m3.9-.1h0m3.6 .6h0m8.1-.1h0m-38.8 .3h0m1.2 .2h0m.4 .1h0m15.8-.2h0m1.1 .1h0m.6 .2h0m2.3-.5h0m3.8 .3h0m.3-.3h0m3 .5h0m-30.2 .7h0m3.2-.5h0m14.1 0h0m2.3 0h0m-19.6 1.1h0m1.6-.5h0m2 .4h0m13.1-.3h0m.6 0h0m1.3 0h0m.5 .1h0m.5-.2h0m2 .2h0m2.8 0h0m1.8-.2h0m7.6 .3h0m-33.8 .5h0m.5-.1h0m16 0h0m1.2 .4h0m.7-.2h0m.6-.2h0m.4-.1h0m6.8 .3h0m-22.9 .5h0m13.9-.1h0m1 .3h0m1.1-.2h0m5.3-.1h0m10.9 0h0m-35.1 .8h0m1.3 .1h0m.8-.3h0m1 .1h0m13.4 0h0m.8 .3h0m.9 0h0m.2-.2h0m.6 .2h0m1.9-.3h0m1.7-.1h0m-22.6 1.2h0m1.9-.4h0m.6 0h0m14.3 .2h0m2-.2h0m1.6-.1h0m-19.1 1h0m1.6-.2h0m13.9 .1h0m.3 .2h0m.7-.3h0m.5 .2h0m4.4-.4h0m5.5 .6h0m-27 .6h0m17.2-.4h0m.6 .2h0m4.4-.2h0m2.6 .2h0m5.3 .1h0m4.2 .1h0m-33.6 .4h0m.7 .2h0m15.6-.4h0m2.7-.1h0m7.6 .2h0m-28.3 .9h0m.9 0h0m1.2 .1h0m.6-.5h0m14 .1h0m1.6 .1h0m4 .2h0m.4-.1h0m1.7-.2h0m-23.5 .6h0m16.3-.1h0m.3 .4h0m1.3-.3h0m1.2 .1h0m2.6 .1h0m3-.1h0m-25.2 .6h0m.3 .1h0m.6-.2h0m.8 .1h0m17 .1h0m1.8 .2h0m2.9-.3h0m.7-.1h0m-6.8 .7h0m7.8-.1h0m-24.3 .7h0m1.2 .3h0m15.8-.1h0m2-.1h0m.7 .1h0m8.5-.2h0m-29.3 .9h0m16.6-.2h0m.2 .3h0m1-.1h0m.3 0h0m.7 .1h0m2-.1h0m2.4-.2h0m-22.7 .7h0m.8 0h0m1.1 .2h0m14.8-.2h0m4-.1h0m1.2 .2h0m1 .3h0m-23.3 .5h0m2-.2h0m14.8 0h0m3.1 .3h0m2.6-.2h0m.8-.2h0m.8 .3h0m2.2 .1h0m-24.8 .3h0m.8 .4h0m14.2-.5h0m1 .3h0m.6 .1h0m.7-.1h0m.6 .2h0m1.3 0h0m1.3-.5h0m1.3 .5h0m4.1-.2h0m5.9 0h0m-33.8 .3h0m.6 .1h0m1.4 .2h0m15.7 0h0m3.1 .2h0m.7-.3h0m.3 .4h0m3.8-.6h0m2.4 0h0m1.7 .5h0m-28.3 .2h0m.5 .1h0m.6 .2h0m14.2-.2h0m.5 .4h0m3.3-.1h0m.9 0h0m5.2 0h0m-25.8 .6h0m18.8-.2h0m.6 .2h0m.2-.2h0m1.3 .4h0m4.9-.5h0m-23.8 1h0m15.1 0h0m1.3 .1h0m2.4 0h0m7-.3h0m6.6-.1h0m-32.8 .5h0m.5 .4h0m14.2-.4h0m.7 .1h0m3.4 0h0m2.2 .1h0m-21.4 .5h0m14.7 .4h0m.6-.3h0m1.8 .2h0m2.3-.3h0m3.3 .3h0m.3 0h0m2.7 .1h0m14.3 .1h0m-39.4 .6h0m14-.5h0m.5 .2h0m1.2 0h0m.1 .1h0m8.8-.3h0m3.5 .2h0m3.6 .3h0m-33.8 .5h0m.7 .2h0m16.3 0h0m.3-.4h0m.8 .1h0m1-.1h0m.4 .3h0m2.4 0h0m4.9-.4h0m-25.9 .8h0m.3 .3h0m1.1 0h0m14.6-.1h0m.9 0h0m5.1-.2h0m-21.9 .9h0m.9-.3h0m14.6 .4h0m1.1-.1h0m.7-.4h0m2.3 .1h0m1.7 .3h0m2.6-.4h0m-25.6 .6h0m1.2 .1h0m.8 .4h0m14.7 .1h0m.8-.6h0m.8 .5h0m.7 0h0m1.6 0h0m2.1 0h0m-22.8 .2h0m1.8 .2h0m16.1-.1h0m1.5 .2h0m1.1 .2h0m.7-.3h0m.8-.1h0m10.2-.1h0m-29.2 1h0m14.1-.4h0m1.7 .2h0m1.1 .2h0m1.8 .1h0m4.3-.3h0m17.3 .1h0m-42.1 .7h0m1-.1h0m14.5 .3h0m1.1-.4h0m.4 .3h0m.7 .1h0m1.5 0h0m4-.2h0m.5-.3h0m-22.2 .7h0m.6 .1h0m13.9 0h0m.7 0h0m.2 .1h0m.9 0h0m.8-.1h0m2.6 0h0m-19.9 .5h0m14.1 .5h0m4.4-.4h0m2.8 .1h0m-23.6 .9h0m2.8 0h0m.2-.1h0m15-.2h0m8.7-.1h0m-25.7 .9h0m1.5-.1h0m16.2 .1h0m1.4-.3h0m.9 .1h0m3.1 .3h0m6.5 0h0m11.5-.4h0m-41.6 .9h0m.5 0h0m1.8 0h0m14.3 .3h0m.4-.1h0m.9-.5h0m.2 0h0m2.8 .5h0m.4 0h0m6.4 0h0m8.1-.1h0m4.2 0h0m-37.7 .8h0m15.8-.4h0m2.4 .3h0m2.4 .1h0m.5-.3h0m1.4 .3h0m9.4-.1h0m-33.3 .6h0m.7-.1h0m13.8 .2h0m.7-.4h0m1.1 .2h0m1.9 0h0m.5 .1h0m4.6 .2h0m.4-.6h0m2.6 .3h0m-27.3 .5h0m1.1 .1h0m1.7 .2h0m.7-.2h0m.4 .1h0m11.6 .2h0m2.4-.4h0m1 0h0m4.5 .3h0m.8 .1h0m-23 .1h0m1 .5h0m.8-.1h0m11.9 .2h0m1.6-.5h0m7.6 .5h0m-23.9 .3h0m1 .1h0m3 .1h0m11.8-.4h0m.7 0h0m1.8 .2h0m2.6 0h0m.9 0h0m1.6 .2h0m2.7 .1h0m-24.6 .6h0m1.4-.2h0m.2-.1h0m1.2 0h0m13.2 0h0m.6 .2h0m11.2-.2h0" stroke="#000" stroke-opacity="0.9" stroke-width="0.75" stroke-linecap="square" fill="none" filter="url(#b0)"/>
<path d="M141.60 483.00 L141.55 486.85 L141.40 489.81 L141.16 492.43 L140.82 494.79 L140.39 496.89 L139.87 498.73 L139.26 500.20 L138.57 500.20 L137.80 500.20 L136.94 500.20 L135.96 500.20 L134.70 500.20 L133.44 500.20 L132.46 500.20 L131.60 500.20 L130.83 500.20 L130.14 500.20 L129.53 498.73 L129.01 496.89 L128.58 494.79 L128.24 492.43 L128.00 489.81 L127.85 486.85 L127.80 483.00 L127.85 479.15 L128.00 476.19 L128.24 473.57 L128.58 471.21 L129.01 469.11 L129.53 467.27 L130.14 465.68 L130.83 464.37 L131.60 463.34 L132.46 462.60 L133.44 462.15 L134.70 462.00 L135.96 462.15 L136.94 462.60 L137.80 463.34 L138.57 464.37 L139.26 465.68 L139.87 467.27 L140.39 469.11 L140.82 471.21 L141.16 473.57 L141.40 476.19 L141.55 479.15 Z" fill="#000" fill-opacity="1.0" filter="url(#b1)"/>
<ellipse cx="152.5" cy="463.7" rx="10.5" ry="10.0" transform="rotate(-10 152.5 463.7)" fill="none" stroke="#2b3c69" stroke-width="1.5"/>
<text x="148.00" y="448.06" font-size="8.3" fill="#4a5a78" stroke="#4a5a78" stroke-width="0.12" textLength="10.50" lengthAdjust="spacingAndGlyphs">0.5</text>
<rect x="123.80" y="426.30" width="74.10" height="73.90" fill="none" stroke="#8a8a8a" stroke-width="0.9"/>
<path d="M123.80 484.13h1.3 M123.80 468.07h1.3 M123.80 452.00h1.3 M123.80 435.94h1.3 M139.91 500.20v-1.3 M156.02 500.20v-1.3 M172.13 500.20v-1.3 M188.23 500.20v-1.3" stroke="#444" stroke-width="0.7" fill="none"/>
<path d="M68.4 506.9h0m44.5 1.1h0m-44.7 3.9h0m-13.1 .9h0m16.6 1.2h0m12.5 .1h0m34.7 .6h0m-39.8 1.1h0m32.9 5.6h0m3.9 3h0m-28.3 1.3h0m-16 3.3h0m-18.9 3.8h0m4.6 .5h0m22.1 .3h0m33.2 5.1h0m-.3 .7h0m-61.5 8.4h0m-1.9 .6h0m38.6 .5h0m-31.6 2.3h0m13.8 .2h0m-5.8 2.4h0m-11.1 .1h0m16.9 2.2h0m-7.6 .7h0m4.6 5.2h0m24.4-.3h0m-39.6 1.1h0m59.9-.3h0m-47.2 2.9h0m-6.4 1.2h0m47.6 1.4h0m2.4 2.8h0m-59.8 .7h0m15.4 2h0m31.8 .8h0m-5.1 1.2h0m15.6 0h0" stroke="#000" stroke-opacity="0.35" stroke-width="0.75" stroke-linecap="square" fill="none" filter="url(#b0)"/>
<path d="M71.7 534.2h0m2.8 1h0m-6.8 .5h0m1.6 1.1h0m1.7-.1h0m3.8-.1h0m4.4 .2h0m-9.8 .2h0m-1.4 .9h0m3.4 .2h0m3.2 0h0m3.5 .1h0m-11 .8h0m2.1 .4h0m6.3-.4h0m-22.2 1h0m4-.4h0m5.2 .2h0m2.1 .2h0m10.9 .1h0m-21.5 .5h0m9.4-.4h0m3.6 .2h0m1.4 .4h0m5.6-.2h0m-17.3 .8h0m6.5-.3h0m3.1 .2h0m1.7-.1h0m.6 0h0m4.8-.2h0m.5-.1h0m1.3 .2h0m.7 .2h0m5.3-.1h0m1.2 .2h0m-13.7 .1h0m.5 .5h0m1.4-.4h0m3.5 .4h0m3.9-.3h0m1.2-.2h0m-27.3 .7h0m5 .4h0m1.5-.2h0m1.5 .1h0m1.2-.1h0m1.4-.2h0m.3 .5h0m2.4-.2h0m.9 0h0m1-.2h0m.4-.1h0m1.8 .2h0m.7-.2h0m3.5 .4h0m.4-.3h0m2 .2h0m-19.2 .7h0m2.2-.2h0m1 0h0m1.7 0h0m3.4 .4h0m2.1 0h0m9.1-.5h0m.7 0h0m.2 .1h0m2.1 .1h0m.5 .3h0m-27.7 .4h0m.7 0h0m.4-.3h0m1.2 .3h0m2 0h0m1.4 .2h0m3.3 0h0m2.2-.3h0m.6-.1h0m8.2 .3h0m.9 .1h0m3.8-.2h0m-26.8 .7h0m2-.2h0m2.4 .4h0m1.7-.3h0m.3-.1h0m2.7-.2h0m1.2 .3h0m1 .3h0m.4-.3h0m1 .2h0m3.2-.1h0m.2-.3h0m1.4 .1h0m.7-.1h0m2.2 .5h0m.4-.3h0m6.8 .3h0m3.6-.1h0m-32.3 .2h0m2.9 .1h0m2.5-.1h0m6 0h0m.8 .1h0m1.8 .3h0m2.9-.3h0m.6 .1h0m1-.1h0m4.2 .4h0m1.8-.4h0m.8 .1h0m1.8 .2h0m1.5-.2h0m.7-.2h0m1.3 .1h0m-32.4 .9h0m1.6 0h0m2.3-.3h0m1.1 .1h0m10.2-.1h0m1 0h0m6.1 .1h0m1.6 .3h0m1.8 0h0m3.2-.5h0m.8 .5h0m2.1-.4h0m2.2 .4h0m-32.7 .5h0m1.1-.2h0m1.5 .1h0m13.4-.1h0m1.3 .2h0m1.1 .1h0m5.5 0h0m4.5-.2h0m1.4 .1h0m2.7 .1h0m-32.8 .6h0m2.2-.2h0m.4 .1h0m12.9 .2h0m.9-.3h0m6.6 .1h0m.2 0h0m5.5-.1h0m3.8 .3h0m3.9-.1h0m-35.8 .8h0m1.6-.4h0m13.7 .2h0m6.7 .2h0m.9-.3h0m1.1 .2h0m.8-.3h0m.5 .3h0m1.6-.4h0m1.6 .5h0m-27.3 .3h0m15.6 .4h0m2.2-.4h0m3.1 .3h0m4.4-.1h0m.9-.3h0m2.4 0h0m-13.3 1.1h0m1.1-.4h0m2.6 .4h0m.4-.3h0m4.9 .1h0m2.4 .1h0m3-.3h0m.6 .1h0m-30.5 .5h0m18.1 .5h0m3.2-.3h0m6.9-.3h0m2.6 0h0m-31.8 .8h0m1 0h0m21.8 .3h0m.6-.2h0m2.2 0h0m2.2 .2h0m7.8-.1h0m-36.9 .3h0m1.2 .5h0m1 .1h0m15.3-.1h0m1.4-.2h0m1.8 0h0m1.6-.2h0m1.1 0h0m4.3 0h0m.8 .1h0m1.7 .1h0m1.6 .1h0m-31.2 .3h0m.7 .1h0m.7 0h0m17.6 .4h0m6.5-.1h0m2.2 0h0m-27.5 .3h0m1.3 .4h0m15.4-.5h0m.5 .4h0m.7-.2h0m1.4 .1h0m7.3 .1h0m7-.4h0m-34.3 .8h0m18.4-.1h0m3.6 .2h0m.5-.1h0m7 .4h0m2.9-.2h0m-31.9 .7h0m1.4-.1h0m15.5 .1h0m1.7 .1h0m.4-.3h0m3.7 .4h0m.7-.1h0m1 0h0m1.1-.2h0m.4 .1h0m2.5-.1h0m1.8-.1h0m-29.9 .6h0m1.4 .2h0m15.3 .1h0m1.5-.3h0m2.4 .3h0m2.1-.3h0m.9 .3h0m.7-.1h0m.8 .2h0m1.9-.4h0m1.9 0h0m1 .4h0m2-.2h0m1.8 0h0m2.2-.1h0m-36.2 .9h0m17.3-.1h0m.3 .1h0m.7-.5h0m.6 .1h0m.5 .1h0m1 .4h0m.7-.3h0m.9-.2h0m.8 .2h0m1.7 .1h0m2.4-.4h0m3.8 .4h0m7.4 .1h0m3.9-.1h0m11.8-.1h0m-36.9 .9h0m.6-.4h0m.8 0h0m.8-.1h0m1.3 0h0m.7 0h0m1.4 .3h0m1-.2h0m4 .1h0m7.9-.1h0m-36.6 .6h0m1.5 .4h0m.3-.1h0m1.1-.4h0m15.6 .6h0m.4 0h0m.8-.3h0m.5 .3h0m.7-.5h0m.4 .2h0m1.5-.3h0m.6 .2h0m.7 .2h0m1.3 .1h0m18.8 0h0m-43.3 .5h0m1.4 0h0m15.9-.1h0m.8-.2h0m.3 .2h0m.6 0h0m1-.2h0m.4 .1h0m.7-.1h0m.8 .2h0m.5 0h0m5.3 .1h0m1.6 .1h0m.9-.1h0m1.7-.2h0m8.4 .4h0m.3-.4h0m-41.5 .5h0m.4 .5h0m1.8-.4h0m16 .3h0m.5-.4h0m.9 .5h0m.8 .1h0m.9-.2h0m.8 .1h0m.8-.4h0m.6 .3h0m.7 .2h0m.3-.3h0m.7-.3h0m.6 .1h0m2.4 .3h0m.4-.2h0m.8-.2h0m2.6 .3h0m14.8-.2h0m-46.1 .6h0m1.8 .4h0m15.8 0h0m.6-.2h0m.5 0h0m.9-.1h0m.7 .3h0m.7-.2h0m.3 .2h0m.7 .1h0m1-.2h0m1.5 .1h0m1-.2h0m.3 .3h0m.9-.5h0m7.6 .1h0m1.5 .4h0m7.2-.5h0m-25.6 1.2h0m.5-.3h0m1 .2h0m.5-.2h0m1 .1h0m.8-.3h0m.6 .3h0m.9 .1h0m1.6-.3h0m.4 0h0m.9 .1h0m11.6 .2h0m1.4 .1h0m6.9-.3h0m-45.7 .5h0m1.5 .1h0m.7 .2h0m15.6-.3h0m.6-.1h0m.6 .3h0m.6-.3h0m.8 .1h0m.5-.1h0m1.9 .2h0m1.1-.1h0m2.5 .3h0m1.6 0h0m.9-.3h0m.5-.1h0m.6 .1h0m1.4-.1h0m.7 .2h0m4.5-.1h0m1.5 .3h0m3.6 0h0m2.8 .1h0m2.1-.1h0m-29.1 .4h0m1.1 0h0m.3 0h0m1 .2h0m.8-.4h0m1.9 .1h0m.4 .1h0m1 .1h0m1.3-.2h0m2.1 .1h0m.9-.2h0m1.4 .4h0m2.8-.3h0m1.6 .2h0m12.4-.3h0m-44.7 1h0m.2-.1h0m15.6 .3h0m1-.4h0m.7 .3h0m.3 0h0m1-.1h0m.5-.2h0m2.5 .1h0m.7 .2h0m.8 0h0m.3-.1h0m1.2 0h0m3.4 .1h0m.8 0h0m.3-.4h0m1.3 .1h0m1 .2h0m3.3 .2h0m7.7 0h0m-44 .3h0m.5 0h0m.4 .1h0m16.3 .3h0m.6-.6h0m1.1 .4h0m.3 0h0m.7-.1h0m.5 .1h0m2.2-.1h0m.7-.1h0m1 .1h0m1.4-.1h0m.7 .1h0m1.6 .1h0m.4 0h0m1.2-.3h0m2.7 0h0m4 .4h0m1.6-.2h0m1 .2h0m.3 0h0m1.7-.4h0m-39.9 1h0m.7 .1h0m15.9-.4h0m.5 .1h0m.5 .2h0m.9 0h0m.4-.4h0m1 .5h0m.1-.1h0m.9 .1h0m1.5-.5h0m1 .3h0m.6 .1h0m1.7 0h0m.4-.2h0m1.5-.1h0m3.2-.1h0m4 .5h0m.3-.2h0m.5 .1h0m-37.3 .2h0m.3 .3h0m2 0h0m15.8-.1h0m.8 .1h0m.6-.2h0m.8 .4h0m.2-.5h0m.7 .2h0m.6 .3h0m.9-.2h0m.6-.2h0m.7 .3h0m.4 0h0m1.9-.4h0m.8 .4h0m1.6-.3h0m.9 .2h0m19.2 .1h0m4.9 .1h0m-51.3 .2h0m15.5 .5h0m.8-.4h0m.8 0h0m.8 .2h0m.6 .1h0m.1-.1h0m1.5-.2h0m1.7 .4h0m.2-.2h0m1-.3h0m1.2 0h0m1.8 .1h0m2.3 0h0m1.6 .2h0m1.2-.1h0m5 0h0m4.8 0h0m1.5 .2h0m-43.1 .5h0m.6-.2h0m16 .1h0m.4 .2h0m.9 0h0m.6-.1h0m.7 0h0m.2 .2h0m.7-.4h0m.9-.1h0m.4 .5h0m.5-.3h0m.7 .1h0m1.2 .3h0m7-.4h0m.9 .1h0m5.3 .1h0m3.6-.3h0m.9 .5h0m-41.6 .6h0m.8-.2h0m15.4 .2h0m.7-.1h0m1-.4h0m.4 .5h0m.9-.3h0m.2 .2h0m1.8-.1h0m1.6-.3h0m1.6 .4h0m1.8-.1h0m.7-.1h0m.5 0h0m1.3-.2h0m3.3 0h0m1.5 .4h0m11.8 .1h0m3-.2h0m-48.8 .5h0m.8 .2h0m.5-.1h0m15.5-.3h0m.9 .3h0m.5 .2h0m.4-.2h0m1.1 .1h0m.3 .1h0m.9 .1h0m1.5-.3h0m1.1-.2h0m.9 .1h0m.8 .4h0m1.6-.2h0m1 .1h0m2-.2h0m12.5 .1h0m1.3 .1h0m-43.3 .6h0m.5 0h0m.5 0h0m15.5-.2h0m.6-.2h0m.9 .3h0m.7 0h0m.5-.1h0m.9 .2h0m.2 .1h0m1.1-.3h0m.4 .3h0m.4-.4h0m1.9 0h0m1.2 0h0m.8 .3h0m2.2-.2h0m2-.2h0m2.8 .1h0m1.1 .1h0m-17.3 .5h0m.3 .5h0m.9-.4h0m.6-.2h0m1.2 .3h0m.4 .2h0m1.6-.4h0m.9 .1h0m.2 .3h0m.6-.1h0m4.3-.2h0m1.2-.2h0m.5 0h0m1 .6h0m.5-.1h0m2.8-.3h0m1.2 .1h0m2.9 .2h0m-39.1 .7h0m1-.1h0m17 .1h0m.6-.1h0m.3 0h0m1.2-.4h0m1 .5h0m1.1-.1h0m.9 .1h0m.2-.5h0m1.8 .5h0m.3-.1h0m.5-.4h0m5.4 0h0m2.9 .1h0m.9-.1h0m3.6 .1h0m4.9-.1h0m-41.4 .7h0m15.6 0h0m.8 .2h0m.3 .2h0m.6 0h0m1.8 0h0m.3-.1h0m.6-.2h0m.7 0h0m.5 .1h0m.6 0h0m.8-.2h0m1.2 .2h0m4.7 .2h0m-30 .2h0m17.2 .3h0m.7-.3h0m.2 .1h0m.7 .3h0m.8 .1h0m.9-.3h0m.6 .1h0m1.1 .2h0m.7-.3h0m.5-.2h0m.5 .4h0m.7 .1h0m1-.5h0m.6 .1h0m1.9 .2h0m1.7-.1h0m.8 0h0m1.4 0h0m1.7-.2h0m.8 .1h0m5.6 0h0m1.4-.1h0m-40.7 .7h0m16.9 .1h0m.7-.2h0m.7 .1h0m.4 0h0m.7 .2h0m.7-.2h0m.5 .3h0m.8-.4h0m.7 .3h0m2.2 0h0m.2 0h0m3.1-.1h0m3.7-.1h0m13 .2h0m.7 .3h0m2.8-.5h0m-47.1 .8h0m15.7 .1h0m.6 0h0m.6-.1h0m.4 0h0m.7 0h0m.9 .3h0m.8-.2h0m.4 .1h0m1.6-.4h0m1.2 .1h0m.7 .2h0m.5-.3h0m.7 .5h0m1.3-.5h0m1.9 .4h0m2.6 .1h0m3.8 0h0m8.9-.1h0m-45.2 .4h0m.6 .3h0m.5-.2h0m.7 0h0m15.9 0h0m.3 0h0m.8 .2h0m.8-.1h0m.7-.1h0m.4 .1h0m.7-.2h0m.9-.2h0m3.1 .5h0m3-.1h0m1.8 .1h0m1.1-.2h0m3 .3h0m6.5-.1h0m-39.5 .3h0m16.7 .1h0m.7-.1h0m.7 .4h0m.9-.1h0m.6-.3h0m.5 .1h0m.4 .1h0m1.3-.3h0m.6 .4h0m3.9-.4h0m2.6 .5h0m1.1 0h0m8.5-.3h0m3.4 .1h0m-25.8 .4h0m.9 0h0m.7 .1h0m.4 .2h0m.8 .1h0m.6-.2h0m.6-.2h0m.6 .4h0m4.7-.3h0m2.1 0h0m2.5 .1h0m.9 .2h0m.6 .1h0m1.3-.5h0m-33.4 1h0m.6-.2h0m.5-.2h0m15.6 .2h0m.7 .3h0m.5-.4h0m.6 .3h0m1-.3h0m.3 .2h0m1-.1h0m.7 .3h0m1.8-.5h0m1.8 .1h0m1.8 .4h0m2.8-.3h0m1.5 .2h0m2.2 .1h0m3.4-.5h0m-37.5 1h0m1.4-.3h0m.7 .1h0m15.6 .2h0m.5 .2h0m.6-.3h0m1 .2h0m1-.2h0m.3-.1h0m.9 .3h0m.4 0h0m1.7-.4h0m.3 .3h0m.9 0h0m.5 .1h0m.8-.5h0m4.8 .2h0m1.8 .2h0m1.3-.1h0m.6-.2h0m2 .2h0m2.1 .2h0m4.4 0h0m-42 .7h0m15.8-.4h0m.4 .1h0m1 .3h0m.7 0h0m.8-.3h0m.4 .3h0m.6-.2h0m.8 0h0m.4 0h0m.9 .1h0m.3-.1h0m1 .1h0m2-.2h0m1 .2h0m.8-.1h0m1.7-.3h0m2.8 .3h0m1.3-.2h0m4.2 0h0m.9 .2h0m-39.9 .9h0m1.3 0h0m16.7 0h0m.5-.4h0m.7 .1h0m.7 .1h0m.4-.1h0m.7 .2h0m.8-.4h0m1 .4h0m.4-.4h0m.7 .3h0m.6-.1h0m2.7 .2h0m.5 .1h0m1.2-.3h0m.5 0h0m11.4-.3h0m-39.3 1h0m.6-.2h0m15.8 .2h0m.6 0h0m.7-.1h0m.6 0h0m.7 .1h0m1.5 .1h0m.2-.1h0m.8-.1h0m.8 .1h0m2.5-.1h0m3.6 .2h0m2.2-.1h0m3.5 .1h0m-17.5 .8h0m.5-.1h0m.7 .1h0m.5-.1h0m.6-.1h0m.6-.2h0m.7-.1h0m1.5 .4h0m.7-.1h0m1.1-.3h0m.6 0h0m2.5 .1h0m8.2 .1h0m4 .1h0m1.6-.1h0m-23.8 .7h0m.2 0h0m1 0h0m.5-.3h0m1 .3h0m.2 0h0m1.5 .1h0m.8 .1h0m.4-.2h0m.6-.1h0m1.5 .1h0m.5-.2h0m2.3 .4h0m2.5 0h0m.5-.1h0m2.3-.1h0m3.1-.1h0m6.2-.2h0" stroke="#000" stroke-opacity="0.9" stroke-width="0.75" stroke-linecap="square" fill="none" filter="url(#b0)"/>
<path d="M49.60 551.00 L49.85 549.27 L50.60 547.65 L51.78 546.26 L53.32 545.20 L55.12 544.53 L57.05 544.30 L58.98 544.53 L60.77 545.20 L62.32 546.26 L63.50 547.65 L64.25 549.27 L64.50 551.00 L64.80 577.30 L49.60 577.30 Z" fill="#000" fill-opacity="1.0" filter="url(#b1)"/>
<ellipse cx="71.9" cy="547.5" rx="9.1" ry="8.9" transform="rotate(0 71.9 547.5)" fill="#000" fill-opacity="1.0" filter="url(#b1)"/>
<ellipse cx="71.9" cy="547.3" rx="10.9" ry="10.7" transform="rotate(0 71.9 547.3)" fill="none" stroke="#95183f" stroke-width="2.0"/>
<text x="66.20" y="530.36" font-size="8.3" fill="#7a2d4c" stroke="#7a2d4c" stroke-width="0.12" textLength="14.40" lengthAdjust="spacingAndGlyphs">3.42</text>
<rect x="45.80" y="503.80" width="74.40" height="73.50" fill="none" stroke="#8a8a8a" stroke-width="0.9"/>
<path d="M45.80 561.32h1.3 M45.80 545.34h1.3 M45.80 529.37h1.3 M45.80 513.39h1.3 M61.97 577.30v-1.3 M78.15 577.30v-1.3 M94.32 577.30v-1.3 M110.50 577.30v-1.3" stroke="#444" stroke-width="0.7" fill="none"/>
<path d="M143.0 509.3h0m21.2 .4h0m18.2 1.7h0m-14.4 .5h0m17 .6h0m-1.9 3.6h0m-41 .8h0m5.3 .4h0m19.7 .3h0m-35.2 1.4h0m41.7 1.9h0m-1.8 2.1h0m21.1 4.3h0m-2.9 7.5h0m-25.1 1.1h0m3.8-.1h0m17.3 1h0m-29.4 13.4h0m-1.9 3.9h0m26.8 .7h0m-25.7 .9h0m22.4 1h0m-22 2.7h0m31.4 1h0m-56.8 .9h0m36.1 3.1h0m14.6 .6h0m-34 2.3h0" stroke="#000" stroke-opacity="0.35" stroke-width="0.75" stroke-linecap="square" fill="none" filter="url(#b0)"/>
<path d="M146.7 537.5h0m2.2-.2h0m1.6-.1h0m-5.2 .5h0m4.9 .4h0m-1.3 .6h0m3.1-.2h0m1.9 .2h0m-10 .4h0m1.1 .2h0m.6 .1h0m3.9-.1h0m.5-.3h0m3.1 .1h0m-18.1 .7h0m9.1-.2h0m.6 .4h0m1.1-.1h0m3-.1h0m1.3 .3h0m1.7-.5h0m.8 .3h0m1.7 .2h0m1 0h0m-23.9 .5h0m12.8 0h0m2.4-.4h0m2 .5h0m.6-.4h0m.9 0h0m.6-.1h0m1.2 .5h0m2.1-.4h0m.9 .3h0m.6-.4h0m1.2 .4h0m-29.2 .5h0m16.6 .1h0m1 .1h0m.6-.3h0m.9 .1h0m1.2 .1h0m.5-.2h0m.6 .4h0m.9-.1h0m.7 .1h0m.8-.2h0m3.3 0h0m-13.4 .5h0m2.3 .1h0m1.8-.2h0m1.8 .4h0m.2 0h0m.9-.2h0m.7-.1h0m.8 .4h0m.9-.5h0m.6 .1h0m1.1 .1h0m1.1 0h0m2.3 .1h0m1.7 .1h0m-20.3 .2h0m4.1 .4h0m1.2-.4h0m1.1 .2h0m.7-.1h0m1 .2h0m.5 0h0m.7-.3h0m.7 .1h0m.6 0h0m.6 .4h0m.2-.2h0m.8 0h0m.7-.2h0m1.2 .4h0m.6-.5h0m2.5 .1h0m.6 .3h0m1-.4h0m1.2 .2h0m1.1 0h0m-17.3 .9h0m.8 .1h0m.5-.5h0m1 .4h0m1.2-.1h0m.6-.3h0m.6 .1h0m.5 .4h0m.8-.2h0m.4 .1h0m1-.3h0m.2 .1h0m1 .1h0m.7 0h0m.6 0h0m.5-.3h0m1 .1h0m.3 0h0m.5 .3h0m2.4 0h0m1.9-.2h0m-17.1 .9h0m.9-.4h0m2.6 .3h0m.4-.1h0m.7 0h0m.4 .2h0m.8-.3h0m.9 .1h0m.4-.3h0m.9 .4h0m.6-.2h0m.8-.2h0m.1 .2h0m1 .2h0m.4 0h0m.6-.3h0m1.6 .2h0m1.7 .2h0m1.6-.3h0m-27.4 .8h0m2.2 .1h0m1.8-.3h0m1.2-.1h0m10.6 .4h0m.5 0h0m.8-.4h0m.3 .5h0m1 0h0m.2-.4h0m.8 .3h0m1-.3h0m.1 0h0m.9-.1h0m.8 .2h0m.8-.3h0m.2 .5h0m.8-.1h0m.6 .1h0m1.6-.1h0m.7 0h0m1.1 .2h0m.3-.5h0m-31.5 .6h0m4.7 .1h0m3.1 .1h0m.5-.1h0m1.8 .3h0m2.6-.3h0m3.5 .3h0m.4-.4h0m.9 0h0m.8 .2h0m.7 .3h0m.6-.3h0m.6-.2h0m.5 .1h0m.7-.1h0m.6 .4h0m.6 0h0m.8-.4h0m.7 0h0m.7 .2h0m.4-.1h0m.5 .3h0m.9-.4h0m.6 .3h0m6-.1h0m-29.2 .7h0m.5 .2h0m1.2-.4h0m1.3 .2h0m.5 .2h0m.8-.1h0m1-.3h0m.5 .2h0m.6-.1h0m.4 .3h0m1 .1h0m.4-.1h0m5.3 0h0m.5 0h0m.5 0h0m1.1-.1h0m.6-.3h0m.4 .3h0m1.1-.1h0m.1 .1h0m1.2-.3h0m.4 0h0m.8 .3h0m.2 .2h0m.7-.5h0m.8 0h0m.6 .4h0m.5 0h0m.7-.4h0m4.2 .5h0m-27.5 .6h0m2.1-.5h0m3.4 0h0m.5 .2h0m1.3 .2h0m5.1 0h0m.5-.2h0m.7 .3h0m.6-.2h0m1-.3h0m.4 .1h0m.5 .4h0m1-.4h0m.3 .1h0m.9 .3h0m.7-.1h0m.3-.2h0m1.1-.1h0m.5 .2h0m.6-.3h0m.8 .1h0m4.5 .2h0m-31.6 .9h0m.3-.5h0m3.1 .1h0m.6 .3h0m8.5-.2h0m1.1 0h0m5.1-.1h0m.5 0h0m.9 .2h0m.7-.1h0m.3-.1h0m.7 .1h0m.6 .2h0m.7 0h0m.7-.4h0m.3 .2h0m1.2-.2h0m.5 .3h0m.3-.2h0m1.1 .3h0m.6 .1h0m.4-.4h0m1.9 .3h0m2.5 .1h0m-33.7 .4h0m2.1-.2h0m1.2 .2h0m14.3-.3h0m1.4 .2h0m.9-.2h0m.8 .5h0m1.1 0h0m.3-.3h0m.8-.1h0m.5-.1h0m.7 0h0m.8 0h0m.3 0h0m.7 .1h0m1.2 .4h0m.6-.1h0m.8-.2h0m.8 .2h0m2.1-.1h0m.5-.1h0m2 .1h0m-29.8 .7h0m13.1 0h0m.7-.2h0m.6 0h0m2.9-.1h0m1.1 .1h0m.3 .1h0m.6-.1h0m.6-.1h0m1.1 .1h0m.2 .2h0m.9-.2h0m.9-.2h0m.5 .3h0m.9 0h0m1.6 .3h0m.6-.4h0m.8 .1h0m.2 .1h0m-29.7 .7h0m.5-.3h0m.8-.1h0m12.1 .1h0m.6 .4h0m2.5-.5h0m1.1 .5h0m1.4-.2h0m.3 .2h0m1 0h0m.4 0h0m.6-.5h0m1 .3h0m.8-.2h0m.7-.1h0m.5 .2h0m.8 .1h0m.4 .1h0m.7 .1h0m.4-.2h0m1.4-.1h0m.9 0h0m.2-.1h0m.7-.1h0m.8 .2h0m-30.6 .5h0m1.3 .2h0m12.1-.1h0m3.5 .1h0m.5 .1h0m.8-.3h0m1.6 0h0m.6 .1h0m.5 .2h0m1.5-.1h0m.7 0h0m.1-.2h0m1.5 .2h0m.9-.2h0m1.4 .3h0m1.5-.1h0m.8-.2h0m.8 .4h0m-31.2 .2h0m2.2 .4h0m12.8-.4h0m1.3 0h0m.9 .2h0m1.1 .2h0m.6-.4h0m.3 .2h0m1.5 0h0m.9 .2h0m2.4-.2h0m.3 .3h0m1.5-.1h0m.5-.4h0m1.1 .5h0m1.4 0h0m.3-.4h0m.6 .4h0m.6-.1h0m-28 .7h0m13.1 .1h0m1-.1h0m1.6-.2h0m2-.2h0m.9 .4h0m.3 0h0m.7-.1h0m2 0h0m.5 0h0m.8-.4h0m1.6 .2h0m2.5-.2h0m.6 .2h0m.4 .2h0m-29.3 .3h0m.9 .2h0m.3-.2h0m14.2 .3h0m3.4 .2h0m1.7-.3h0m.9-.2h0m1 0h0m.7 .5h0m2.3-.1h0m2.3 .1h0m.5-.2h0m.6-.1h0m2.1 0h0m-32.9 1h0m1.7-.1h0m14.6-.2h0m.7 .1h0m.9-.1h0m1.6 .3h0m1.7 0h0m2.5-.4h0m3.1 .2h0m.9-.3h0m.6 .1h0m1.9-.1h0m.3 0h0m-29.6 .7h0m1 .2h0m.9-.1h0m13.6 .3h0m7.4-.3h0m-22.4 .8h0m15.1 0h0m4-.3h0m1.8 .3h0m.9 0h0m2.2-.1h0m.9 .2h0m2-.2h0m.6-.3h0m-12.7 1h0m1.2 0h0m.6-.1h0m1.7 .1h0m.7-.2h0m4-.1h0m2.9 0h0m-27 .9h0m1.9-.2h0m17.8 0h0m.2 0h0m1.8 .1h0m3.4 .2h0m-24.3 .5h0m1.3 .1h0m.4-.2h0m13.8 .1h0m1.6-.1h0m5.5 .1h0m-20.9 .7h0m13.9-.3h0m.3 .6h0m.6-.1h0m2.4-.2h0m.6 .3h0m1.8-.3h0m.8 0h0m2 .2h0m15.3 .1h0m-38.7 .5h0m.1-.3h0m1.2 .1h0m13.2-.1h0m.9 .2h0m.7-.2h0m.5 .3h0m.8-.2h0m1-.2h0m.8 0h0m2 .2h0m.6 .1h0m2.1 0h0m.8-.3h0m8.6 .5h0m2.8-.2h0m1.9-.3h0m.5 0h0m-38.5 .7h0m1.2 0h0m13.6 .1h0m.4-.1h0m1.3 .4h0m1-.3h0m.6 .1h0m.6 .1h0m1.2-.2h0m.9 .3h0m3.4-.2h0m1.1 0h0m4.4 .1h0m4.4-.1h0m6.2 .2h0m3.3-.1h0m6.5-.2h0m-50.6 .9h0m1.2 .1h0m.3-.2h0m13.8 0h0m.8-.2h0m.3 .4h0m.6-.5h0m1 .2h0m.6 0h0m.4 .1h0m1.3 .1h0m6-.1h0m5 0h0m18.8-.3h0m-48.3 1.1h0m13.4-.4h0m.6 .1h0m.5 0h0m.7 .2h0m2.1 .1h0m.7-.4h0m.6-.1h0m1.5 .5h0m.8-.4h0m.8-.1h0m.7 .4h0m2-.1h0m.5-.1h0m4 .3h0m.6-.3h0m-30.3 .8h0m.5-.3h0m13.6 .2h0m.7 .1h0m1 .1h0m.2-.2h0m.8 .2h0m.4-.4h0m1.1 .1h0m.5 .1h0m.4 .1h0m1.4 .2h0m2.4 0h0m2.2-.4h0m.5 0h0m1.7 .1h0m.6-.2h0m1.1 .4h0m1.6-.3h0m2.4 .2h0m.7-.1h0m1.2 .2h0m-36.2 .3h0m1 .5h0m.8-.6h0m13.2 .5h0m.4 0h0m.8 0h0m.2 .1h0m.7-.5h0m.6 .5h0m.9-.4h0m1.1 .2h0m1.4-.2h0m1.3-.2h0m1.3 .5h0m2.4-.3h0m.8 .2h0m2.1-.3h0m2.8 .2h0m2.4-.2h0m2.1 0h0m5 .3h0m-40.2 .8h0m14.2-.2h0m.8 .1h0m.5 .1h0m1.7-.3h0m.3-.1h0m.8 0h0m1.1 .3h0m.5 .1h0m1.4-.1h0m1.2-.3h0m1.1 .2h0m2 .1h0m1.4-.4h0m1.7 .1h0m1.7 0h0m3.3-.1h0m5.3 0h0m-40.7 .6h0m1.1 .5h0m.6-.4h0m.4 .1h0m13.7 .1h0m.7-.2h0m2-.1h0m1.3 0h0m3.8 .4h0m2.3 .2h0m3.5-.3h0m13.8 .1h0m.8-.1h0m-44.3 .6h0m2.2 .3h0m.6-.4h0m13.5 0h0m.8-.1h0m.7 .2h0m.8-.1h0m3.4 0h0m.7 .3h0m.9-.4h0m1.1 0h0m.9 .5h0m4.4 0h0m2-.4h0m2.8 0h0m.3 .3h0m1.9-.1h0m-34.3 .6h0m13.7 .2h0m.6-.4h0m.5 .2h0m1.5 0h0m.4-.1h0m.7 .3h0m.9-.1h0m.7 .1h0m.4-.1h0m2.5-.1h0m1 .1h0m4.2-.4h0m2 0h0m.8 .4h0m3-.1h0m.8 .1h0m.5 .1h0m4.1-.5h0m-24.7 .8h0m.6 .1h0m1 0h0m.1-.1h0m.8-.1h0m1.7 .1h0m.4 .1h0m.3 .1h0m.9 0h0m.5-.1h0m1.4 0h0m.8 .1h0m1.5-.3h0m.5 .4h0m-26.1 .7h0m1.6-.3h0m.6 0h0m13.3 .3h0m1.3-.2h0m.8 0h0m.3-.2h0m1.9 .4h0m.4-.3h0m8.4 .4h0m.4-.4h0m1.8 0h0m12.8 .4h0m1.7-.2h0m-43.2 .5h0m13.5-.2h0m.4 .5h0m1.1-.4h0m.3 .4h0m1-.2h0m.5 0h0m1.9-.1h0m1.2 .2h0m.7-.4h0m1.8 .3h0m1-.3h0m2.9 .5h0m1.8-.5h0m5.8 .4h0m.4-.4h0m2.8 .1h0m-38.1 .6h0m1.1 0h0m13.4 0h0m1.4 .5h0m.5-.4h0m.9 .2h0m.6 0h0m.2-.3h0m5.8 .1h0m.6-.1h0m5.6 0h0m.8 .3h0m1.5 .1h0m.8-.3h0m-34.1 1h0m.2-.3h0m1.8-.1h0m13.2 .3h0m1-.1h0m.5-.3h0m.7 .4h0m.5-.4h0m.6 .3h0m.6-.3h0m2.9 .2h0m1.2-.1h0m4.5-.1h0m-27.2 .7h0m.9-.1h0m.4 .4h0m13.4-.1h0m1.6-.2h0m1.4 .2h0m.6-.1h0m1.2 .2h0m1.5 0h0m3.4 0h0m1.7-.4h0m8.2 .5h0m5.7-.1h0m8.2-.2h0m-46.7 1h0m13.7-.1h0m.5 0h0m.3 .1h0m1 0h0m.5-.5h0m.9 .1h0m.6-.1h0m.7 .4h0m.5-.3h0m1.2 .4h0m1.2-.1h0m1.2-.4h0m2.3 .1h0m1.3 0h0m1.3 .1h0m.4 .3h0m2.4 0h0m.7-.2h0m-32.2 .5h0m.8 .4h0m14-.3h0m.9 0h0m.2-.1h0m1.1-.1h0m.4 0h0m1.2-.1h0m1.5 .1h0m2.1 .2h0m.3 .1h0m2.3 .2h0m15.4 0h0m1.8-.3h0m-42.6 .5h0m1 0h0m14.8 .3h0m.5-.4h0m.6 .4h0m.3-.1h0m.9-.1h0m.6 0h0m1.5 .2h0m.7-.3h0m.2-.1h0m2 .2h0m1.3-.1h0m.7 0h0m.8 .3h0m.4 .1h0m2.1-.4h0m5.4 .4h0m-18.6 .7h0m1-.4h0m.6 .2h0m.7-.2h0m.6 .2h0m.5-.3h0m2.1 .1h0m1.4-.1h0m8.5 .2h0m15.3 .1h0m-44 .7h0m13.7-.3h0m.8 .4h0m.6-.2h0m1.1 .1h0m1.3-.4h0m.8 .1h0m.5 .1h0m1.9-.1h0m.7-.1h0m10.1 .3h0m2 .1h0m-33.4 .3h0m13.6 .3h0m.3-.1h0m.8 0h0m.6 .1h0m1.2-.3h0m2.5 0h0m1 .2h0m1.3 .3h0m1.3-.3h0m1.5 .1h0m5.3-.4h0m1.4 .5h0m11.2 0h0m7.6-.2h0m.7-.1h0m-51.3 .9h0m1.1 0h0m13.5-.1h0m.5 0h0m.7-.3h0m.4 0h0m1.1 .1h0m1.2 .4h0m.4-.2h0m1.7-.3h0m2.3 .5h0m.8-.3h0m2.1 .1h0m2.2 0h0m.8 0h0m-29.1 .4h0m.8 0h0m.1 0h0m13.7 .1h0m1.1 .2h0m.4 .2h0m.4-.4h0m.7 0h0m.8 .1h0m.5-.3h0m1.1 .2h0m2 0h0m17.6 0h0m-39.2 1h0m.4-.3h0m.8 .1h0m13.6-.2h0m.8-.1h0m.8 .5h0m1.5-.4h0m.9 .1h0m1-.2h0m.6 .1h0m2 0h0m1.6 .1h0m.6 .3h0m2.1-.5h0m.9 .2h0m5.1 .3h0m1.8-.1h0m1.9-.3h0m7.7-.1h0m-43.7 1h0m14.6-.1h0m.3 .3h0m.8-.6h0m.6 .6h0m.5-.3h0m1.1 0h0m1 .1h0m.5-.4h0m1.7 .5h0m1.5-.2h0m5.4 .1h0m5.5-.3h0m5.8 .2h0m4.9 0h0m-43.3 .8h0m13.7-.3h0m.5 0h0m.9 .1h0m.1-.2h0m1.4 .4h0m.6-.2h0m.9 .1h0m1.1 .2h0m.7-.2h0m.6 0h0m3.1 .1h0m2.3-.2h0m3.3 .1h0m.6-.3h0m2 .4h0m12.7-.1h0m-45.8 .6h0m.8 0h0m.6 .3h0m13.3-.5h0m.7 .1h0m.8-.1h0m.5 .2h0m.5-.1h0m2.2 .3h0m1.1 0h0m4.6-.5h0m8.1 .3h0m.5-.1h0m3.8 .3h0m6.5 0h0m-43.9 .7h0m14.7-.5h0m.4 0h0m1.4 .3h0m1.5 0h0m1.2 .1h0m.7 0h0m5.2-.4h0m2 .2h0m5.1 .1h0m-31.2 .7h0m13.7-.2h0m.7 .2h0m.6-.4h0m.6 .2h0m1.4 0h0m.6 .4h0m.6-.3h0m.7-.1h0m1 .3h0m1.4-.1h0m2.2-.1h0m.8 .1h0m.9 0h0m1 .1h0m.9-.3h0m.8 .2h0m2.6-.3h0m2.5 .3h0m5.1-.3h0m-37.8 .6h0m14.2 0h0m.6 .3h0m.4 0h0m.8-.1h0m1.2 .1h0m.8 .2h0m.5 0h0m1.5-.4h0m1.2 .4h0m.6-.1h0m1.8 0h0m1.7-.1h0m4.8-.3h0m4.6 .3h0" stroke="#000" stroke-opacity="0.9" stroke-width="0.75" stroke-linecap="square" fill="none" filter="url(#b0)"/>
<path d="M127.70 551.76 L127.92 550.27 L128.56 548.88 L129.57 547.69 L130.90 546.77 L132.44 546.20 L134.10 546.00 L135.76 546.20 L137.30 546.77 L138.63 547.69 L139.64 548.88 L140.28 550.27 L140.50 551.76 L140.80 577.30 L127.70 577.30 Z" fill="#000" fill-opacity="1.0" filter="url(#b1)"/>
<ellipse cx="150.2" cy="547.2" rx="11.3" ry="10.9" transform="rotate(0 150.2 547.2)" fill="none" stroke="#2b3c69" stroke-width="1.5"/>
<text x="143.20" y="530.36" font-size="8.3" fill="#4a5a78" stroke="#4a5a78" stroke-width="0.12" textLength="14.00" lengthAdjust="spacingAndGlyphs">0.37</text>
<rect x="123.80" y="503.80" width="74.10" height="73.50" fill="none" stroke="#8a8a8a" stroke-width="0.9"/>
<path d="M123.80 561.32h1.3 M123.80 545.34h1.3 M123.80 529.37h1.3 M123.80 513.39h1.3 M139.91 577.30v-1.3 M156.02 577.30v-1.3 M172.13 577.30v-1.3 M188.23 577.30v-1.3" stroke="#444" stroke-width="0.7" fill="none"/>
<path d="M49.9 581.0h0m2.9 6.9h0m28.2 .2h0m12.1 5.1h0m-8.7 2.9h0m27.8 .8h0m-47.8 2.5h0m2.2 4.6h0m-2.8 .2h0m-11.7 1h0m63.6-.1h0m-61.3 2h0m60.4 4.3h0m-54.3 7.5h0m-6.2 3h0m59.3 1.3h0m-16.7 1.2h0m-6.2 1.8h0m-12 .9h0m-19.8 2.5h0m47.1-.1h0m13.6 3.5h0m-67.9 5.8h0m58.2 2.7h0m-51.8 .5h0m34.7 .7h0m14.9 3.4h0m-22 1.5h0m24.3 1.2h0m-57 3.7h0" stroke="#000" stroke-opacity="0.35" stroke-width="0.75" stroke-linecap="square" fill="none" filter="url(#b0)"/>
<path d="M56.9 597.3h0m3.3 .9h0m-7.8 1.1h0m7.3-.3h0m-11.5 .9h0m2.9 0h0m1.2 .2h0m5-.3h0m5.3 .1h0m3.4 .2h0m-5.4 .7h0m2.2-.4h0m1.8 .2h0m-11.3 1.3h0m-5.1 .3h0m3.3 0h0m2.1 0h0m-5.3 .7h0m6.5 .4h0m1.2 .1h0m13.9-.4h0m1.3 0h0m-11.5 .9h0m2.6-.1h0m-10.8 .4h0m12.1 0h0m5.4 .1h0m2.3 .4h0m-24.5 .2h0m3.4 .2h0m3 .1h0m2.4-.3h0m7.6 .4h0m2.3-.2h0m-18.3 .7h0m16.2-.2h0m1.6 .4h0m-14.3 .4h0m7.3-.3h0m13.9 .4h0m-20.5 .5h0m18.3-.2h0m.4 .4h0m1.2-.2h0m2-.2h0m14 .3h0m-29.3 .4h0m1.7 .4h0m5.8-.4h0m20.8 0h0m-38.5 .7h0m3.6 0h0m6.4 .2h0m8.6-.1h0m.6-.2h0m16 .2h0m-35.8 .5h0m.9 0h0m.7 .2h0m5.6 .2h0m29.6-.2h0m-36.5 .9h0m7.9-.2h0m1.5-.3h0m2.8 .5h0m.9 0h0m3.2-.5h0m4.6 .5h0m4.9-.2h0m.6-.3h0m13.2 .3h0m-28 .4h0m13.5 0h0m2 .5h0m8.8-.1h0m.3-.3h0m2.9 .2h0m2.5-.3h0m-42.1 1.1h0m7-.2h0m14.1-.2h0m7.2-.1h0m-28.1 1.1h0m2.4-.5h0m1.9 .4h0m.5-.2h0m1.9 .4h0m1.1-.1h0m.9-.4h0m12.7-.1h0m5.7 .4h0m2.5-.1h0m3.9 0h0m3.3-.2h0m.6 .4h0m2.9-.3h0m2.2-.1h0m-35.9 .7h0m5.4 .4h0m.3-.4h0m6.9 .4h0m7.8 0h0m7.2-.4h0m5.1 .1h0m4.9-.2h0m-39.8 .8h0m1.9 .1h0m5.4-.2h0m7.6 .4h0m3 0h0m11.9-.4h0m2 .2h0m1.9 0h0m.5 .1h0m.7 0h0m3.1-.2h0m1.2-.2h0m1.3 .4h0m-45.4 .7h0m9.2-.1h0m3.7 .2h0m7.5-.4h0m2 .2h0m5.8 0h0m2.6-.2h0m1.2 .1h0m1.7 .1h0m1.4 .2h0m1.2-.1h0m9 0h0m3.1-.4h0m-48.3 .8h0m10.8 .3h0m4.9-.4h0m1.8 .3h0m1.2-.1h0m2.7-.1h0m1.4 .1h0m2.7 .3h0m1-.5h0m1.3 .4h0m3.3-.5h0m.8 0h0m3.3 .2h0m.4 0h0m3.6-.2h0m1.2 .6h0m-39 .5h0m4.8-.4h0m3.9 0h0m1 .1h0m2 .3h0m8.5 0h0m5.8-.4h0m3.2 .5h0m1.8-.4h0m.6 .3h0m1 .1h0m2.4-.5h0m2.3 .1h0m4 .3h0m-40.7 .5h0m1.9 .1h0m5.9 0h0m3.3-.3h0m7.5 .4h0m2.8-.4h0m10.5 .1h0m1.6 .1h0m2.1-.3h0m1.9 .2h0m2.6-.1h0m-40.5 .7h0m3.6 .1h0m2.5 0h0m.6 .1h0m1-.1h0m2 .3h0m.4-.4h0m5.3 0h0m1.9-.1h0m1.4 .3h0m1.2-.2h0m1.9 0h0m1.9 .1h0m.5 .1h0m1.3-.2h0m1.3 .3h0m1.6-.1h0m5.8-.2h0m2 .2h0m.5 0h0m1.1-.1h0m.8-.1h0m.4 .1h0m3 .1h0m.4-.2h0m.7 0h0m1.5 0h0m1.7 .1h0m-47 .9h0m.4 0h0m.8-.4h0m.9 .3h0m.6-.2h0m1 .4h0m.3-.5h0m.8 .4h0m.5 0h0m1.1 0h0m1.1-.1h0m1.1 .2h0m.9-.4h0m.4 .3h0m1.1-.5h0m.8 .5h0m.7-.2h0m3.6 .2h0m.7 0h0m.6-.3h0m.9-.1h0m1.6 .2h0m1.8 .1h0m4-.2h0m4.6-.2h0m2.1 .2h0m2 .1h0m2.4 .1h0m1.1-.1h0m.9 .1h0m.3 .2h0m1.4-.2h0m1.4 0h0m-43.1 .6h0m1.1 .1h0m.6-.4h0m.4 .1h0m1.2 .4h0m.7-.1h0m.6-.2h0m1-.1h0m.8 0h0m.8 .2h0m1.7-.2h0m.4 .1h0m.5 0h0m.7 .3h0m.8-.2h0m.5 .2h0m.6-.5h0m1.8 0h0m.5 .5h0m1-.3h0m1 .1h0m.7 0h0m1.8 .1h0m.8 .1h0m1.1-.2h0m.9-.2h0m1.4 .1h0m1.1 .3h0m2.6 0h0m1.3-.1h0m3.2-.3h0m2.2 0h0m.7-.1h0m.6 0h0m1.9 .2h0m1.2-.2h0m.6 .5h0m.6-.3h0m2.1 .3h0m.2-.5h0m.9 .2h0m1 .2h0m.7 0h0m3.9 .1h0m-18.3 .4h0m1.9-.1h0m3.1-.1h0m3.3 .3h0m3.2-.4h0m.4 .1h0m4.7 .1h0m-21.7 .7h0m.8-.2h0m2.1 .3h0m3.6-.2h0m1.6-.1h0m1.8 .1h0m.6 0h0m6.1-.1h0m2.2 0h0m.8 0h0m-20.1 1.1h0m.6-.4h0m.5 0h0m2.4 .2h0m1.9 .1h0m4.3 .1h0m1.9-.4h0m.9 .1h0m.9-.1h0m1.8 .2h0m.4 .1h0m1.2 .1h0m7 .1h0m-22.8 .4h0m1.8-.3h0m2.5 .3h0m5.6 0h0m1.1-.2h0m.2-.1h0m1.1 .3h0m7.3 0h0m-20.6 .6h0m1.5 .1h0m.7-.1h0m3.4 0h0m3.9-.1h0m3.5-.2h0m1.4 .4h0m.3-.1h0m1.4 .2h0m1.3-.2h0m3.3 .2h0m-20 .4h0m.6 .2h0m1.4-.4h0m.8 .1h0m.3 .4h0m3.4-.4h0m2.5 .3h0m6.5-.2h0m7.2-.2h0m-23.3 1.1h0m.4-.4h0m.8 .1h0m.6 .3h0m1.4 0h0m.9-.1h0m3.3-.1h0m2.7-.1h0m2.1 .4h0m1.6-.5h0m1.2 .5h0m1.4-.5h0m.9 .1h0m1.6 0h0m1.3 .3h0m-20.2 .2h0m1.2 .4h0m.6 .1h0m5.7-.1h0m4-.3h0m1.3 .2h0m2.7-.1h0m1.1-.1h0m1 .1h0m.7-.1h0m3.7 0h0m-21.4 .8h0m4.6-.3h0m3.8 .6h0m2.3-.2h0m2-.2h0m2 .1h0m10.1 0h0m-25.4 .7h0m.4-.3h0m1.5 .1h0m3.2-.1h0m.4 .4h0m1.4-.4h0m3.3 .3h0m.9 0h0m1.8-.2h0m3.1 .2h0m3.5 .2h0m3.7-.1h0m-23.2 .6h0m1.1 .1h0m3.2-.2h0m4-.2h0m1.1 .2h0m2.5 .2h0m1.2-.2h0m.3 0h0m1.5 0h0m.8 .3h0m1.4-.6h0m3.1 .1h0m2.1 .2h0m-22 .7h0m7 .2h0m2.2 0h0m.7-.4h0m4.6 .4h0m1.5-.2h0m3.4 0h0m-19.6 .4h0m.5 .4h0m.5 0h0m1.6-.1h0m1.6 .2h0m1.6-.4h0m3.1-.1h0m1.2 .2h0m2.1-.3h0m3.4 .3h0m5.1 .2h0m-20.7 .2h0m.3 0h0m1.3 .5h0m3.1-.5h0m13.2 .5h0m-18.1 .2h0m1.2 .2h0m2.2 .1h0m1.3-.1h0m1.2 .1h0m1.7-.3h0m1 .1h0m4.7-.2h0m1.2 0h0m-14.6 .7h0m.6 .2h0m.5-.1h0m1.3 .2h0m1.6 .1h0m1.6-.3h0m.9 .3h0m4.5 0h0m-11.1 .3h0m1.9 0h0m.7 .1h0m2.4-.1h0m.2 0h0m1.1 .2h0m8.7 .2h0m4.2 0h0m-18.9 .7h0m1.3-.3h0m.7 .1h0m.7-.1h0m.4 .2h0m.9 0h0m1.2-.4h0m.3 .2h0m1.7 .2h0m1.9 .1h0m-9.1 .4h0m.8-.2h0m.5 .2h0m1.4 .1h0m.7-.1h0m.3-.1h0m1.9-.1h0m1 .1h0m.7 .1h0m.6 .3h0m6-.4h0m-14 .7h0m.8 .1h0m2.1 .2h0m.2-.2h0m1.7-.1h0m.2 0h0m.7 .1h0m1.4-.3h0m4.1 .3h0m.8-.2h0m1.7 0h0m6 .2h0m-19.5 .7h0m.2 .2h0m.7-.1h0m.6 0h0m.8 0h0m.9-.4h0m.7 .3h0m1.2-.2h0m.5 .2h0m.6-.1h0m.9 .2h0m1.2-.3h0m4-.2h0m2 .2h0m4.8 .2h0m-19.3 .6h0m.4 .2h0m.8-.3h0m.7 .1h0m.9-.1h0m1.6 .2h0m.5 .1h0m3.8-.5h0m6.4 .5h0m4.8 0h0m-20.3 .5h0m.8-.1h0m1.1 .2h0m1-.2h0m2.2 0h0m11.3 .1h0m-15.2 .8h0m.3-.5h0m.9 0h0m.4 0h0m2.4 .3h0m.5 0h0m1.2-.3h0m13.4 .3h0m-20.2 .9h0m1.6-.2h0m.4-.3h0m1.2 .4h0m.5-.4h0m2.3-.1h0m1 .2h0m.2 .1h0m7.6-.1h0m2.2 .3h0m2.2 .1h0m9.9-.4h0m-29.3 1h0m.5 0h0m.4-.4h0m2.3 0h0m.5 .1h0m2.9 .2h0m1-.4h0m1.4 .4h0m6.9-.3h0m-15.4 .6h0m1.4-.1h0m.5 .1h0m.5 .2h0m1.1 0h0m.3 .1h0m1.6-.3h0m1.7 0h0m4.8 .4h0m1.7 .1h0m1.7-.1h0m-14.9 .3h0m.9 .3h0m.6 .1h0m.4-.5h0m1 0h0m1.1 .1h0m.8 .1h0m1.2 .3h0m5.6-.1h0m-12.5 .3h0m.2-.1h0m.8 .6h0m2.1-.5h0m3.1 0h0m1.5 .1h0m1.5-.1h0m1.2 .4h0m3.9-.3h0m1.2 .3h0m-15.5 .6h0m.4-.4h0m.7 .2h0m.5 0h0m1-.1h0m1.1 0h0m.5 .1h0m.7 0h0m1.7-.2h0m4.7 0h0m9.3 .2h0m-20.6 1h0m.8-.4h0m.6 .2h0m.5-.2h0m3.2 .3h0m2-.5h0m8.9 .2h0m1.5-.1h0m-16.9 1h0m.7-.3h0m.3 .1h0m2 .3h0m1.2-.5h0m1.6 .3h0m2.7-.1h0m9 .1h0m8.8-.1h0m-21.9 .6h0m.8 .3h0m2.6-.3h0m10.6 .2h0m-18.9 .3h0m.4 .3h0m1.3-.2h0m.9 .2h0m.6-.2h0m1.3 .2h0m.2-.1h0m1.7 .3h0m.7-.2h0m.2-.3h0m.7 0h0m1 .4h0m1.8-.2h0m4 .2h0m.7 .1h0m-15.6 .5h0m1-.2h0m.9 .1h0m1.3 .3h0m.8-.1h0m.5-.4h0m2.5 0h0m2.1 .5h0m5.6-.1h0m16.8-.2h0m-31.4 .8h0m.9-.3h0m1.3 .1h0m1 .1h0m.3 0h0m.6 0h0m4.3-.2h0m14 .3h0m3.4-.4h0m6.3 .1h0m-32.1 .6h0m2.5 .3h0m.5 0h0m.7-.1h0m.5 .1h0m2.8-.2h0m.6 .2h0m2.6-.3h0m4.1 .1h0m14 .2h0m-29 .8h0m.5-.3h0m2 .2h0m1.4-.2h0m1.7 .2h0m.9 0h0m1.4-.2h0m-7.7 .6h0m.8 .4h0m2-.3h0m.5-.1h0m1.4 0h0m.8 .1h0m2.8 .1h0m1.3 .2h0m15.3-.2h0m-24.9 .8h0m1.1-.4h0m.5 .4h0m.5-.3h0m.6 .1h0m1.7 .2h0m.4-.5h0m1.1 .2h0m3.3-.2h0m4.9 .2h0m2.6-.1h0m-16.9 1h0m.3-.3h0m.8 .2h0m2.2 .1h0m.6 0h0m1.5 .1h0m.6-.1h0m-6 .7h0m.3-.4h0m1.3 .3h0m.9-.4h0m.4 .5h0m1-.2h0m.7 0h0m.7-.3h0m.3 .5h0m.5-.2h0m1.6-.3h0m1.7 .4h0m-8.9 .5h0m.8-.1h0m.2 0h0m1.2 .3h0m.3-.3h0m.4 .1h0m1-.1h0m.4-.2h0m.9 .5h0m2.8-.5h0m1.1 .5h0m1.1 0h0m1.2-.5h0m1 .1h0m1.3 .3h0m1.2-.2h0m7.1-.1h0m9.9 0h0m-31.7 .9h0m.2 0h0m1.1-.2h0m.2 .3h0m.7-.1h0m.5 .1h0m1.2-.1h0m2.9 0h0m.9-.2h0m6.4 .3h0m-14.2 .4h0m.8 0h0m.1 .3h0m1.4 0h0m2.3 0h0m2.2 0h0m3.9-.2h0m2.8 0h0m.8 0h0m.7-.1h0m2.6 .3h0m2.7-.4h0m3.2 0h0m-23.4 .6h0m.5 0h0m1.2 .1h0m2.1 .1h0m2.5 0h0m1.5-.1h0m1.9 .3h0m-10.5 .2h0m.3 .6h0m.9-.4h0m.7 .1h0m1.2-.2h0m.8 .5h0m.5-.2h0m4.4 .2h0m7.3-.3h0m1.5-.3h0m5.3 .3h0m-23 .7h0m.6 .1h0m.9-.4h0m.7 0h0m1.2 .3h0m.4-.1h0m1.4 .1h0m.4-.2h0m1.8 0h0m3.1 .1h0m12.1-.1h0m3.9 .4h0m-26.8 .5h0m.9 .1h0m1.5-.1h0m1.6-.1h0m.6 .2h0m1-.3h0m.9 0h0m1 .3h0m2.4 0h0m7-.2h0m11.9-.2h0m-28.6 .9h0m.5-.2h0m.6-.1h0m.8 .4h0m.7-.4h0m1.3 .3h0m.6-.1h0m2.3-.2h0m.7 .2h0m12.5 .1h0m-19.9 .5h0m.8 .3h0m.5 0h0m.7-.4h0m.7 .3h0m.7 .1h0m1.2 0h0m.8-.4h0m1.7 .4h0m2-.1h0m5.8-.4h0m-14.8 1.2h0m1.9-.5h0m.7 .5h0m.3-.1h0m2.2-.4h0m.9 .2h0m.2-.2h0m2.7 .3h0m6.7-.1h0m9 .2h0m-25.1 .3h0m.1 .2h0m.8 0h0m.8-.3h0m.5 .2h0m.9 .3h0m.7-.3h0m3.4-.1h0m.6 0h0m1.9-.1h0m4.6 .3h0m1.7-.1h0m-15.8 .9h0m1.4-.3h0m1.5 .4h0m1.4 0h0m1-.4h0m3-.1h0m4.1 .4h0m2.3-.3h0m.7 .1h0m.3-.2h0m5.8 .5h0m-40.9 .6h0m.8 0h0m1 0h0m1.3-.1h0m1.4 0h0m5.6 0h0m2.4 0h0m1.4 0h0m2.7 0h0m2.7-.2h0m1 .3h0m.5 0h0m1.4-.2h0m.7 .1h0m1.8-.1h0m.9-.2h0m3.3 0h0m1.7 0h0m3.7 .3h0" stroke="#000" stroke-opacity="0.9" stroke-width="0.75" stroke-linecap="square" fill="none" filter="url(#b0)"/>
<path d="M46.00 617.80 L70.70 617.80 L70.50 630.00 L69.20 650.00 L69.00 653.20 L46.00 653.20 Z" fill="#000" fill-opacity="1.0" filter="url(#b1)"/>
<ellipse cx="83.7" cy="618.6" rx="9.1" ry="8.1" transform="rotate(-12 83.7 618.6)" fill="#000" fill-opacity="1.0" filter="url(#b1)"/>
<ellipse cx="83.85" cy="618.7" rx="10.9" ry="9.8" transform="rotate(-12 83.85 618.7)" fill="none" stroke="#95183f" stroke-width="2.0"/>
<text x="80.20" y="602.16" font-size="8.3" fill="#7a2d4c" stroke="#7a2d4c" stroke-width="0.12" textLength="14.00" lengthAdjust="spacingAndGlyphs">7.81</text>
<rect x="45.80" y="580.10" width="74.40" height="73.90" fill="none" stroke="#8a8a8a" stroke-width="0.9"/>
<path d="M45.80 637.93h1.3 M45.80 621.87h1.3 M45.80 605.80h1.3 M45.80 589.74h1.3 M61.97 654.00v-1.3 M78.15 654.00v-1.3 M94.32 654.00v-1.3 M110.50 654.00v-1.3" stroke="#444" stroke-width="0.7" fill="none"/>
<path d="M169.5 580.8h0m-4.6 7.8h0m-20.2 3h0m-2.6 1.3h0m-2.6 6.9h0m32.2 .1h0m5.2 1.8h0m-36.1 3.6h0m-4.6 9h0m-1.8 .7h0m-6.9 2.3h0m66.3 2.1h0m-34.6 .9h0m20.4 0h0m-39 2.4h0m15.1 1.8h0m36 2h0m-43 6h0m6.1 2.2h0m-4.7 1.1h0m-7.6 2.8h0m-16.2 1.6h0" stroke="#000" stroke-opacity="0.35" stroke-width="0.75" stroke-linecap="square" fill="none" filter="url(#b0)"/>
<path d="M133.9 599.8h0m-2.7 .5h0m-5.3 1.6h0m17.4 .5h0m2.3 0h0m-21.1 1h0m15.5 0h0m2.3 .4h0m3.1 .2h0m-19.8 .3h0m3.1 .1h0m.6 1.3h0m2-.1h0m5-.1h0m2.9 .4h0m3.2 0h0m1.9 0h0m1.3-.1h0m4.5 .1h0m-13.8 .5h0m-11.3 .4h0m2.1 .2h0m5.6 .1h0m.4-.2h0m.9 .1h0m2.3-.1h0m-10.1 1h0m3-.4h0m12.4 .3h0m5.2 0h0m.5 .1h0m21.2-.2h0m-43.3 .7h0m5 0h0m1.2 0h0m1.2 .2h0m2.5-.1h0m-3.3 .6h0m6.5 .1h0m.8-.4h0m4.5-.1h0m2.3 .1h0m2.8-.1h0m13.6 .2h0m-25.6 .9h0m2.5-.1h0m1.3 0h0m14.1-.3h0m8.3 .3h0m1.4 0h0m1.4-.3h0m-34.9 .8h0m4.3-.2h0m13.6 .3h0m8.7-.2h0m.9 .1h0m3.2-.1h0m2.2 .2h0m.8-.1h0m1.3 .2h0m-41.1 .5h0m1.1-.2h0m2.1 .4h0m2.2-.2h0m1 .2h0m6.4 0h0m4.6-.3h0m2.7 .1h0m9.7-.1h0m.5-.1h0m4 0h0m3.2 .4h0m1.7 0h0m-38.6 .3h0m4 0h0m11.1 .3h0m1.5 0h0m3.9-.4h0m3 .1h0m3.3 0h0m2.7 .1h0m5.1 .2h0m.7 0h0m.6 0h0m1.8-.2h0m6 .1h0m-41.8 .8h0m3.2-.2h0m8 0h0m4.7 0h0m.8 .1h0m.4-.2h0m4.6 .3h0m4.4-.3h0m1.3 .4h0m4.5-.4h0m3.3 .3h0m.5 0h0m3.2-.3h0m1.8-.1h0m1 .5h0m-39.8 .6h0m13.4-.5h0m1.5 .2h0m7.3 .3h0m8.1-.2h0m.3-.1h0m3.9 .1h0m2.4-.1h0m1.6-.2h0m-41.4 1.2h0m4.8-.4h0m15.3 .4h0m1.2-.4h0m1.4 0h0m3.4-.1h0m.3 .2h0m.8 .2h0m3.9-.2h0m.4 0h0m.8 .3h0m2.8 0h0m2-.4h0m3.8 .1h0m.8 .3h0m-41.9 .3h0m4.6 .3h0m3.1-.2h0m2.5-.1h0m4.7 .1h0m10.5 .2h0m2.6-.4h0m1.9 .5h0m4.2-.4h0m.7 .3h0m6.7 0h0m3-.3h0m-44.6 .9h0m6.6-.1h0m3.7 .1h0m1.6-.3h0m1.9 .2h0m8.4 .1h0m2 .1h0m2.8-.4h0m1.5 0h0m2.3 .2h0m1-.1h0m1.1 .2h0m.9-.4h0m2.5 .2h0m2.8 0h0m1.1-.1h0m1.8 0h0m-42.9 1h0m11.5-.4h0m.4 .1h0m2.6 .2h0m10.1-.2h0m4.2 .4h0m1.7-.3h0m1-.2h0m.9 .5h0m11.7-.5h0m.4 .2h0m.6 .2h0m1.5-.4h0m-45.1 1h0m3.7 .1h0m2.4 0h0m2.7-.2h0m1-.2h0m7.5 0h0m1 .2h0m2.7-.1h0m4.4-.1h0m6.2 .4h0m2.9-.1h0m2.5-.4h0m1.8 .3h0m.2-.3h0m.8 0h0m-41.1 .9h0m2.9 0h0m7.1 .2h0m.4-.2h0m2.4-.1h0m.8 .3h0m3.5-.4h0m2 .1h0m4 .3h0m1.2-.2h0m6.4 0h0m2.7 0h0m2.9-.2h0m1.2 .1h0m1.8 .2h0m1.8 0h0m1-.3h0m1 .4h0m.9-.3h0m-36.4 1h0m1.1-.5h0m1.5 .5h0m2.9 0h0m2 0h0m1.4-.2h0m1.4-.1h0m2.1-.2h0m.9 .5h0m1.2-.1h0m.9-.1h0m.8 .2h0m.7 0h0m7.5-.4h0m1.1 .4h0m.9-.2h0m.5 .2h0m.5 0h0m2.2-.5h0m2.4 .3h0m4.2 .2h0m1.3-.3h0m-44.9 .7h0m2 .1h0m1.7-.2h0m1.1 .1h0m.3 .2h0m.8-.3h0m.3 .2h0m.9-.2h0m1.3 .2h0m2.1 .1h0m.3-.2h0m.9-.1h0m2.2 .2h0m1.5-.3h0m1.4 .5h0m2.8 0h0m.4-.2h0m4.6-.3h0m3.1 .5h0m1.2-.5h0m3 .3h0m1.3 .1h0m1.3-.1h0m3.9 0h0m1.5-.4h0m1.1 .2h0m.5 .3h0m1.1-.3h0m2.8-.2h0m-45.8 .8h0m1.9 .3h0m.4 .1h0m1 0h0m2.5-.4h0m1-.1h0m.6 .4h0m.6 0h0m2.9-.1h0m.3-.1h0m1.5 0h0m.4 .3h0m.7-.3h0m1.6 .3h0m.6-.1h0m1.1-.3h0m1.1 .3h0m.2-.3h0m.9-.1h0m.6 .3h0m.6-.3h0m.6 .5h0m.7-.4h0m1.9 .3h0m5.2-.4h0m3.7 0h0m1 .1h0m1.1-.1h0m2.7 .1h0m3.5 0h0m.7-.1h0m2.9 0h0m-44 .8h0m.4-.1h0m6.1-.1h0m6 .2h0m1.3 0h0m.5 0h0m6.2-.1h0m.7 .1h0m2-.2h0m1.4 .3h0m1.9 .1h0m2.8-.3h0m1.7 0h0m2.1 0h0m1.2 .1h0m.7 .2h0m.5 0h0m5.2-.3h0m-18 .8h0m4.3 .3h0m.9-.1h0m1.8 .1h0m.6-.1h0m2.4-.3h0m.2 .2h0m.9 .1h0m2-.4h0m1.1 0h0m2.8 .3h0m2.5-.3h0m1 .4h0m2.2-.3h0m-22.5 .8h0m.2 .2h0m1.7-.2h0m3.4-.2h0m2.5 .5h0m3.8-.2h0m2.1 0h0m4.5 .1h0m1.3-.3h0m1.8 .4h0m-20.9 .4h0m1.2 0h0m6.5 .1h0m4 0h0m1.4-.3h0m1.9 .3h0m9.7-.1h0m-25.4 .7h0m1.2 .1h0m9.5-.4h0m2.6 0h0m.5 .4h0m2.6-.3h0m4.5-.1h0m.8 .2h0m-21.4 .9h0m.4-.4h0m1.5 .2h0m6.5 .1h0m.2-.1h0m3.8-.3h0m1 .4h0m.9-.2h0m.4-.2h0m.6 .3h0m.6-.1h0m.7 .3h0m.5-.5h0m1.6 .4h0m.8-.1h0m1.6 0h0m-20.4 .7h0m.4 0h0m1.5 .1h0m6.1 0h0m3.2-.4h0m1.6 0h0m6.6 .4h0m-20.5 .4h0m2 .2h0m5.6-.3h0m2.2 .1h0m.6 .3h0m1-.5h0m1 .2h0m1.3 .3h0m1.2-.3h0m1.7 0h0m5.2-.1h0m-21.8 .8h0m.6 .3h0m.6-.1h0m14.6-.2h0m1.3 .3h0m-16.9 .6h0m.5-.1h0m.8 0h0m2.6-.1h0m1.6-.2h0m5.4 .3h0m5.1-.2h0m4.7 .3h0m1.5-.4h0m.7 .1h0m3.8 .2h0m-26.5 .6h0m.4 .1h0m.5-.5h0m1.8 .4h0m1.2-.2h0m.4 0h0m1.6 .3h0m.1-.1h0m1-.3h0m-7.1 .7h0m.5-.1h0m.4 .1h0m.9 .4h0m.6-.3h0m.7-.1h0m.9 .1h0m2.5-.2h0m.5 .1h0m13.4 .3h0m-20.3 .4h0m.4-.2h0m.7 .5h0m.8 .1h0m.3-.5h0m.9 0h0m.8 .2h0m.7 0h0m.7 .2h0m.7 0h0m1.1 0h0m1.2-.3h0m.7 .1h0m1.9-.2h0m3.9 .3h0m.7-.4h0m-15.8 1.2h0m.6-.5h0m.5 .3h0m1.4 .2h0m1.9-.3h0m1.4 .1h0m1.5-.1h0m.5 .2h0m7.9 .1h0m1.1 0h0m9.9 0h0m-26.6 .3h0m2.5 .4h0m.6-.6h0m1.1 .6h0m1.7-.5h0m1.6 .1h0m1.3 0h0m-8.6 .8h0m.4 .2h0m.8-.5h0m.3 .2h0m1.3 .1h0m.6-.3h0m23.2 .5h0m-27.1 .3h0m2.4 .3h0m.4-.1h0m2.1 .1h0m2.6-.3h0m2.4-.1h0m2 .1h0m-11.9 .6h0m.8 .2h0m.8-.3h0m.8 .3h0m1.5-.2h0m1.3 0h0m4.7 0h0m-9.4 .5h0m.4 .3h0m.9 .2h0m.3-.3h0m1.6 0h0m1.2 0h0m.8-.2h0m.5 .2h0m3.8 .4h0m1.9-.3h0m-11.8 .8h0m.8-.3h0m.5 .1h0m.9-.1h0m.6 .1h0m.8-.2h0m.4 .2h0m2.2-.1h0m.8-.1h0m3 0h0m-9.9 1h0m2.5-.2h0m1.9-.1h0m1.7 0h0m3 .2h0m1.3-.1h0m5.5 .3h0m1.3-.1h0m-17.2 .6h0m.8 .1h0m.5-.4h0m.8 0h0m.7 .4h0m.5-.2h0m1.4 .3h0m6.9-.5h0m17.5 .3h0m-28.9 .6h0m.5 0h0m.9 .1h0m.5-.1h0m.8-.1h0m1.7 .4h0m.6-.2h0m1.5 .1h0m1-.3h0m2.3-.2h0m.5 .1h0m1.5 .4h0m.6-.3h0m5.5-.2h0m5.8 .3h0m6.8-.2h0m-30.6 .7h0m.4 0h0m.6 .3h0m.9-.2h0m.6 .1h0m2.1 0h0m2-.3h0m.7 .5h0m1.3-.5h0m1.8 0h0m1.9 .4h0m1.3-.2h0m4.2-.2h0m.3 .4h0m13.7 .1h0m-31.9 .4h0m.9 .1h0m.5-.2h0m1.1 .3h0m.6 0h0m1 0h0m.7-.2h0m.7 .2h0m4.8-.1h0m4.6-.1h0m1.2 .1h0m11-.2h0m-27.1 .8h0m.7-.3h0m1.1 .1h0m.9 .3h0m2.5 .1h0m1.4-.5h0m1.9 .5h0m-8.5 .6h0m.8 0h0m.5-.3h0m1.6 .1h0m.3 0h0m.8-.2h0m.6 .4h0m.6 0h0m1.1-.3h0m3.5 .3h0m18.3 0h0m-28.3 .7h0m.7-.4h0m.6 .2h0m.9-.2h0m1.5 .2h0m1.4 .2h0m.5-.1h0m.6 0h0m.8-.1h0m1.2-.1h0m1.2-.2h0m1.1 .3h0m12.6 0h0m-22.8 .6h0m.3 0h0m.7-.3h0m1.1 .2h0m.2-.1h0m1 .2h0m1.4 .2h0m1.7-.3h0m.6 0h0m2.2 .1h0m2.4 .3h0m.5-.6h0m11.8 .5h0m-23.9 .5h0m.3 0h0m1.7-.2h0m1.4 .2h0m2-.3h0m.6 .4h0m2.3-.1h0m.7-.3h0m.6 .4h0m2.2 0h0m1.1-.4h0m1.3 0h0m-14.2 1h0m1.2-.2h0m2.5 .3h0m1.3-.3h0m1 .2h0m.6 .1h0m2.5-.2h0m1.2 .1h0m.8-.3h0m4.3 .5h0m-15.6 .6h0m.9-.2h0m.5 .2h0m1.2 0h0m3.6-.2h0m.9 0h0m2.3 .1h0m.3-.1h0m.7 .2h0m1.1-.5h0m17.1 .4h0m-28.3 .6h0m1 .1h0m1.3 0h0m.9 .1h0m1.9-.1h0m1.2-.3h0m1.9-.1h0m-8.6 1h0m1.1 .1h0m.2-.4h0m.8 .4h0m1.3-.3h0m3.5 .2h0m.6-.1h0m.4 0h0m3.5-.2h0m3.8 .3h0m1.8-.1h0m3.5-.2h0m-20.5 .6h0m2.1 .4h0m.9-.2h0m1.7 0h0m1 0h0m1 .1h0m4.5-.4h0m1.2 .5h0m-12.6 .3h0m.5 .4h0m.7-.3h0m2.6 .1h0m.6-.3h0m.9 .5h0m4.7-.1h0m4.7-.3h0m3.3 .4h0m-17.8 .7h0m1-.4h0m2.1 .3h0m1.3-.2h0m.3 .2h0m1-.2h0m.4-.1h0m.8-.1h0m2.7 0h0m.2 .5h0m1.1-.3h0m.5 .2h0m.8-.2h0m-11.9 .6h0m.6 .3h0m.6-.1h0m.5-.4h0m.6 .5h0m.7-.2h0m1.4 .1h0m2.3-.1h0m.8-.3h0m-7.1 .9h0m1.1-.1h0m1.7 .3h0m3.9 0h0m1.9-.1h0m1.8 .1h0m1.1-.1h0m1.3-.4h0m.9 0h0m3 .4h0m-17.1 .6h0m1.9-.1h0m2.9-.1h0m.8 .2h0m2.6-.3h0m1.9 .3h0m5.3 0h0m3.5 0h0m7.1-.1h0m5.1 .3h0m-31.3 .5h0m.8-.3h0m.9 .2h0m.2 .1h0m1.5 0h0m3-.1h0m3.8-.2h0m4.8 .1h0m.6 .1h0m-15.5 .4h0m.5 .1h0m.7-.1h0m1.6 .4h0m.5-.3h0m1.7 .2h0m4.6-.3h0m6.9 0h0m4.7 .1h0m-21.6 1h0m.3-.3h0m1 .1h0m.7 .2h0m.4-.5h0m.8 .3h0m1.1-.1h0m.7 .1h0m.4-.1h0m4.8 0h0m.8 .1h0m3.2 0h0m.5 0h0m-14.7 .7h0m.3-.2h0m.8-.1h0m.8 0h0m.5 0h0m2.2 .5h0m.7-.5h0m2.3 .3h0m.4 .1h0m2.7 0h0m1-.2h0m3.1 .3h0m-14.8 .2h0m.3 .5h0m.8-.1h0m.7-.2h0m1.4 .1h0m1.4 .1h0m1.2 0h0m1.4-.2h0m2.4-.2h0m.8 0h0m5.6 .3h0m-16 .3h0m.2 .4h0m.8-.3h0m.9 .2h0m.5 .2h0m2.6-.1h0m3.1-.2h0m-8.2 .9h0m2 0h0m.3 0h0m1-.4h0m.2 0h0m3.1 0h0m1.9 .2h0m.4 0h0m1.4 0h0m-7.8 .9h0m2.2-.4h0m.5 .4h0m.8-.4h0m2.2 .1h0m2.2 .3h0m-7.7 .2h0m4.8 .3h0m1.3-.2h0m6.5 .2h0m-14.6 .6h0m.5-.1h0m1.4-.1h0m.8 .2h0m.5-.2h0m.5-.1h0m.8 .4h0m1-.3h0m1.1 .3h0m-6.9 .5h0m.7 .2h0m1.4 .1h0m2.2-.2h0m1.1 .1h0m2-.1h0m.4 0h0m1.5 .1h0m-9.4 .2h0m.9 .1h0m.6 .3h0m.6 0h0m4.2-.3h0m.5 .3h0m6.2-.1h0m-31.7 .8h0m2 0h0m3.8 0h0m1.2-.1h0m1 0h0m.6 0h0m.6-.1h0m.7 .2h0m1.8 0h0m2.2 0h0m1.2-.2h0m2 .1h0m.8-.1h0m.3 0h0m.7-.1h0m2.6 .3h0m2.5-.1h0m2.9-.3h0m2.4 .2h0m.7-.2h0" stroke="#000" stroke-opacity="0.9" stroke-width="0.75" stroke-linecap="square" fill="none" filter="url(#b0)"/>
<path d="M123.80 619.30 L148.00 619.30 L147.80 635.00 L147.60 653.20 L123.80 653.20 Z" fill="#000" fill-opacity="1.0" filter="url(#b1)"/>
<ellipse cx="161.7" cy="617.4" rx="8.7" ry="7.7" transform="rotate(-10 161.7 617.4)" fill="#000" fill-opacity="1.0" filter="url(#b1)"/>
<ellipse cx="161.8" cy="617.3" rx="10.4" ry="9.4" transform="rotate(-10 161.8 617.3)" fill="none" stroke="#2b3c69" stroke-width="1.9"/>
<text x="157.30" y="602.66" font-size="8.3" fill="#4a5a78" stroke="#4a5a78" stroke-width="0.12" textLength="13.70" lengthAdjust="spacingAndGlyphs">1.21</text>
<rect x="123.80" y="580.10" width="74.10" height="73.90" fill="none" stroke="#8a8a8a" stroke-width="0.9"/>
<path d="M123.80 637.93h1.3 M123.80 621.87h1.3 M123.80 605.80h1.3 M123.80 589.74h1.3 M139.91 654.00v-1.3 M156.02 654.00v-1.3 M172.13 654.00v-1.3 M188.23 654.00v-1.3" stroke="#444" stroke-width="0.7" fill="none"/>
<path d="M229.5 10.50H241" stroke="#8c1b3d" stroke-width="1.6"/>
<path d="M235.30 8.40 L237.58 12.60 L233.02 12.60 Z" fill="#8c1b3d"/>
<path d="M229.5 19.40H241" stroke="#2b3c69" stroke-width="1.6"/>
<circle cx="235.30" cy="19.40" r="2.1" fill="#35507f"/>
<text x="243.30" y="12.74" font-size="6.5" fill="#222" stroke="#222" stroke-width="0.12" textLength="53.70" lengthAdjust="spacingAndGlyphs">B6.CD45.1 BM + T</text>
<path d="M299.4 10.50H303" stroke="#333" stroke-width="0.6"/>
<path d="M304.6 10.50L302.4 9.30L302.4 11.70Z" fill="#333"/>
<text x="305.60" y="12.74" font-size="6.5" fill="#222" stroke="#222" stroke-width="0.12" textLength="9.10" lengthAdjust="spacingAndGlyphs">B6</text>
<text x="243.30" y="21.64" font-size="6.5" fill="#222" stroke="#222" stroke-width="0.12" textLength="53.70" lengthAdjust="spacingAndGlyphs">B6.CD45.1 BM + T</text>
<path d="M299.4 19.40H303" stroke="#333" stroke-width="0.6"/>
<path d="M304.6 19.40L302.4 18.20L302.4 20.60Z" fill="#333"/>
<text x="305.60" y="21.64" font-size="6.5" fill="#222" stroke="#222" stroke-width="0.12" textLength="27.40" lengthAdjust="spacingAndGlyphs">B6D2F1</text>
<text x="262.20" y="36.65" font-size="9.6" fill="#111" stroke="#111" stroke-width="0.12" textLength="11.60" lengthAdjust="spacingAndGlyphs">BM</text>
<path d="M230.80 43.60 V118.50 M230.20 115.50 H305.00" stroke="#000" stroke-width="1.25" fill="none"/>
<path d="M227.60 115.50H230.80 M227.60 91.73H230.80 M227.60 67.97H230.80 M227.60 44.20H230.80 M248.80 115.50V118.50 M266.80 115.50V118.50 M284.80 115.50V118.50 M302.80 115.50V118.50" stroke="#000" stroke-width="1.0" fill="none"/>
<text x="216.44" y="117.67" font-size="6.3" fill="#222" stroke="#222" stroke-width="0.12" textLength="8.76" lengthAdjust="spacingAndGlyphs">0.0</text>
<text x="216.44" y="93.90" font-size="6.3" fill="#222" stroke="#222" stroke-width="0.12" textLength="8.76" lengthAdjust="spacingAndGlyphs">0.4</text>
<text x="216.44" y="70.13" font-size="6.3" fill="#222" stroke="#222" stroke-width="0.12" textLength="8.76" lengthAdjust="spacingAndGlyphs">0.8</text>
<text x="216.44" y="46.37" font-size="6.3" fill="#222" stroke="#222" stroke-width="0.12" textLength="8.76" lengthAdjust="spacingAndGlyphs">1.2</text>
<text x="229.05" y="126.57" font-size="6.3" fill="#222" stroke="#222" stroke-width="0.12" textLength="3.50" lengthAdjust="spacingAndGlyphs">0</text>
<text x="247.05" y="126.57" font-size="6.3" fill="#222" stroke="#222" stroke-width="0.12" textLength="3.50" lengthAdjust="spacingAndGlyphs">7</text>
<text x="263.30" y="126.57" font-size="6.3" fill="#222" stroke="#222" stroke-width="0.12" textLength="7.01" lengthAdjust="spacingAndGlyphs">14</text>
<text x="281.30" y="126.57" font-size="6.3" fill="#222" stroke="#222" stroke-width="0.12" textLength="7.01" lengthAdjust="spacingAndGlyphs">21</text>
<text x="299.30" y="126.57" font-size="6.3" fill="#222" stroke="#222" stroke-width="0.12" textLength="7.01" lengthAdjust="spacingAndGlyphs">28</text>
<text x="246.00" y="136.80" font-size="9.6" fill="#111" stroke="#111" stroke-width="0.12" textLength="44.10" lengthAdjust="spacingAndGlyphs">Days post Tx</text>
<text transform="translate(210.54,115.80) rotate(-90)" x="0" y="0" font-size="8.8" fill="#111" stroke="#111" stroke-width="0.12" textLength="74.50" lengthAdjust="spacingAndGlyphs">Donor NK cells (x10<tspan dy="-3.1" font-size="5.8">5</tspan><tspan dy="3.1">)</tspan></text>
<path d="M266.80 71.53V57.87 M264.30 71.53h5 M264.30 57.87h5" stroke="#111" stroke-width="1.2" fill="none"/>
<path d="M302.80 57.87V45.39 M300.30 57.87h5 M300.30 45.39h5" stroke="#111" stroke-width="1.2" fill="none"/>
<path d="M302.80 85.79V78.07 M300.30 85.79h5 M300.30 78.07h5" stroke="#111" stroke-width="1.2" fill="none"/>
<polyline points="248.80,112.53 266.80,110.75 302.80,82.23" fill="none" stroke="#2b3c69" stroke-width="1.85" stroke-linejoin="round"/>
<polyline points="248.80,107.78 266.80,65.00 302.80,52.52" fill="none" stroke="#8c1b3d" stroke-width="1.85" stroke-linejoin="round"/>
<circle cx="248.80" cy="112.53" r="2.3" fill="#35507f"/>
<circle cx="266.80" cy="110.75" r="2.3" fill="#35507f"/>
<circle cx="302.80" cy="82.23" r="2.3" fill="#35507f"/>
<path d="M248.80 105.18 L251.27 109.73 L246.33 109.73 Z" fill="#8c1b3d"/>
<path d="M266.80 62.40 L269.27 66.95 L264.33 66.95 Z" fill="#8c1b3d"/>
<path d="M302.80 49.92 L305.27 54.47 L300.33 54.47 Z" fill="#8c1b3d"/>
<text x="272.50" y="51.77" font-size="6.6" fill="#222" textLength="23.50" lengthAdjust="spacingAndGlyphs"><tspan font-style="italic">P</tspan>=0.0021</text>
<text x="237.00" y="64.27" font-size="6.6" fill="#222" textLength="26.80" lengthAdjust="spacingAndGlyphs"><tspan font-style="italic">P</tspan>=0.0006</text>
<text x="232.50" y="79.27" font-size="6.6" fill="#222" textLength="27.00" lengthAdjust="spacingAndGlyphs"><tspan font-style="italic">P</tspan>=0.0008</text>
<text x="358.80" y="36.65" font-size="9.6" fill="#111" stroke="#111" stroke-width="0.12" textLength="21.70" lengthAdjust="spacingAndGlyphs">blood</text>
<path d="M332.60 43.60 V118.50 M332.00 115.50 H406.80" stroke="#000" stroke-width="1.25" fill="none"/>
<path d="M329.40 115.50H332.60 M329.40 91.73H332.60 M329.40 67.97H332.60 M329.40 44.20H332.60 M350.60 115.50V118.50 M368.60 115.50V118.50 M386.60 115.50V118.50 M404.60 115.50V118.50" stroke="#000" stroke-width="1.0" fill="none"/>
<text x="323.50" y="117.67" font-size="6.3" fill="#222" stroke="#222" stroke-width="0.12" textLength="3.50" lengthAdjust="spacingAndGlyphs">0</text>
<text x="323.50" y="93.90" font-size="6.3" fill="#222" stroke="#222" stroke-width="0.12" textLength="3.50" lengthAdjust="spacingAndGlyphs">1</text>
<text x="323.50" y="70.13" font-size="6.3" fill="#222" stroke="#222" stroke-width="0.12" textLength="3.50" lengthAdjust="spacingAndGlyphs">2</text>
<text x="323.50" y="46.37" font-size="6.3" fill="#222" stroke="#222" stroke-width="0.12" textLength="3.50" lengthAdjust="spacingAndGlyphs">3</text>
<text x="330.85" y="126.57" font-size="6.3" fill="#222" stroke="#222" stroke-width="0.12" textLength="3.50" lengthAdjust="spacingAndGlyphs">0</text>
<text x="348.85" y="126.57" font-size="6.3" fill="#222" stroke="#222" stroke-width="0.12" textLength="3.50" lengthAdjust="spacingAndGlyphs">7</text>
<text x="365.10" y="126.57" font-size="6.3" fill="#222" stroke="#222" stroke-width="0.12" textLength="7.01" lengthAdjust="spacingAndGlyphs">14</text>
<text x="383.10" y="126.57" font-size="6.3" fill="#222" stroke="#222" stroke-width="0.12" textLength="7.01" lengthAdjust="spacingAndGlyphs">21</text>
<text x="401.10" y="126.57" font-size="6.3" fill="#222" stroke="#222" stroke-width="0.12" textLength="7.01" lengthAdjust="spacingAndGlyphs">28</text>
<text x="347.80" y="136.80" font-size="9.6" fill="#111" stroke="#111" stroke-width="0.12" textLength="44.10" lengthAdjust="spacingAndGlyphs">Days post Tx</text>
<text transform="translate(318.44,121.80) rotate(-90)" x="0" y="0" font-size="8.8" fill="#111" stroke="#111" stroke-width="0.12" textLength="86.50" lengthAdjust="spacingAndGlyphs">Donor NK cells (x10<tspan dy="-3.1" font-size="5.8">5</tspan><tspan dy="3.1">/mL)</tspan></text>
<path d="M368.60 87.93V65.59 M366.10 87.93h5 M366.10 65.59h5" stroke="#111" stroke-width="1.2" fill="none"/>
<path d="M404.60 73.67V67.49 M402.10 73.67h5 M402.10 67.49h5" stroke="#111" stroke-width="1.2" fill="none"/>
<polyline points="350.60,115.50 368.60,115.50 404.60,115.50" fill="none" stroke="#2b3c69" stroke-width="1.85" stroke-linejoin="round"/>
<polyline points="350.60,115.50 368.60,76.76 404.60,71.06" fill="none" stroke="#8c1b3d" stroke-width="1.85" stroke-linejoin="round"/>
<circle cx="350.60" cy="115.50" r="2.3" fill="#35507f"/>
<circle cx="368.60" cy="115.50" r="2.3" fill="#35507f"/>
<circle cx="404.60" cy="115.50" r="2.3" fill="#35507f"/>
<path d="M350.60 112.90 L353.07 117.45 L348.13 117.45 Z" fill="#8c1b3d"/>
<path d="M368.60 74.16 L371.07 78.71 L366.13 78.71 Z" fill="#8c1b3d"/>
<path d="M404.60 68.46 L407.07 73.01 L402.13 73.01 Z" fill="#8c1b3d"/>
<text x="382.50" y="65.27" font-size="6.6" fill="#222" textLength="23.50" lengthAdjust="spacingAndGlyphs"><tspan font-style="italic">P</tspan>=0.029</text>
<text x="342.50" y="73.57" font-size="6.6" fill="#222" textLength="23.50" lengthAdjust="spacingAndGlyphs"><tspan font-style="italic">P</tspan>=0.029</text>
<text x="334.50" y="88.07" font-size="6.6" fill="#222" textLength="28.00" lengthAdjust="spacingAndGlyphs"><tspan font-style="italic">P</tspan>=0.0043</text>
<text x="462.50" y="36.65" font-size="9.6" fill="#111" stroke="#111" stroke-width="0.12" textLength="25.00" lengthAdjust="spacingAndGlyphs">spleen</text>
<path d="M437.80 43.60 V118.50 M437.20 115.50 H512.00" stroke="#000" stroke-width="1.25" fill="none"/>
<path d="M434.60 115.50H437.80 M434.60 97.67H437.80 M434.60 79.85H437.80 M434.60 62.02H437.80 M434.60 44.20H437.80 M455.80 115.50V118.50 M473.80 115.50V118.50 M491.80 115.50V118.50 M509.80 115.50V118.50" stroke="#000" stroke-width="1.0" fill="none"/>
<text x="428.70" y="117.67" font-size="6.3" fill="#222" stroke="#222" stroke-width="0.12" textLength="3.50" lengthAdjust="spacingAndGlyphs">0</text>
<text x="428.70" y="99.84" font-size="6.3" fill="#222" stroke="#222" stroke-width="0.12" textLength="3.50" lengthAdjust="spacingAndGlyphs">5</text>
<text x="425.19" y="82.02" font-size="6.3" fill="#222" stroke="#222" stroke-width="0.12" textLength="7.01" lengthAdjust="spacingAndGlyphs">10</text>
<text x="425.19" y="64.19" font-size="6.3" fill="#222" stroke="#222" stroke-width="0.12" textLength="7.01" lengthAdjust="spacingAndGlyphs">15</text>
<text x="425.19" y="46.37" font-size="6.3" fill="#222" stroke="#222" stroke-width="0.12" textLength="7.01" lengthAdjust="spacingAndGlyphs">20</text>
<text x="436.05" y="126.57" font-size="6.3" fill="#222" stroke="#222" stroke-width="0.12" textLength="3.50" lengthAdjust="spacingAndGlyphs">0</text>
<text x="454.05" y="126.57" font-size="6.3" fill="#222" stroke="#222" stroke-width="0.12" textLength="3.50" lengthAdjust="spacingAndGlyphs">7</text>
<text x="470.30" y="126.57" font-size="6.3" fill="#222" stroke="#222" stroke-width="0.12" textLength="7.01" lengthAdjust="spacingAndGlyphs">14</text>
<text x="488.30" y="126.57" font-size="6.3" fill="#222" stroke="#222" stroke-width="0.12" textLength="7.01" lengthAdjust="spacingAndGlyphs">21</text>
<text x="506.30" y="126.57" font-size="6.3" fill="#222" stroke="#222" stroke-width="0.12" textLength="7.01" lengthAdjust="spacingAndGlyphs">28</text>
<text x="453.00" y="136.80" font-size="9.6" fill="#111" stroke="#111" stroke-width="0.12" textLength="44.10" lengthAdjust="spacingAndGlyphs">Days post Tx</text>
<text transform="translate(418.94,115.80) rotate(-90)" x="0" y="0" font-size="8.8" fill="#111" stroke="#111" stroke-width="0.12" textLength="74.50" lengthAdjust="spacingAndGlyphs">Donor NK cells (x10<tspan dy="-3.1" font-size="5.8">5</tspan><tspan dy="3.1">)</tspan></text>
<path d="M473.80 80.56V62.38 M471.30 80.56h5 M471.30 62.38h5" stroke="#111" stroke-width="1.2" fill="none"/>
<path d="M509.80 81.63V70.22 M507.30 81.63h5 M507.30 70.22h5" stroke="#111" stroke-width="1.2" fill="none"/>
<polyline points="455.80,115.14 473.80,115.14 509.80,115.14" fill="none" stroke="#2b3c69" stroke-width="1.85" stroke-linejoin="round"/>
<polyline points="455.80,105.52 473.80,71.29 509.80,76.28" fill="none" stroke="#8c1b3d" stroke-width="1.85" stroke-linejoin="round"/>
<circle cx="455.80" cy="115.14" r="2.3" fill="#35507f"/>
<circle cx="473.80" cy="115.14" r="2.3" fill="#35507f"/>
<circle cx="509.80" cy="115.14" r="2.3" fill="#35507f"/>
<path d="M455.80 102.92 L458.27 107.47 L453.33 107.47 Z" fill="#8c1b3d"/>
<path d="M473.80 68.69 L476.27 73.24 L471.33 73.24 Z" fill="#8c1b3d"/>
<path d="M509.80 73.69 L512.27 78.23 L507.33 78.23 Z" fill="#8c1b3d"/>
<text x="457.00" y="60.27" font-size="6.6" fill="#222" textLength="27.50" lengthAdjust="spacingAndGlyphs"><tspan font-style="italic">P</tspan>=0.0006</text>
<text x="483.00" y="69.07" font-size="6.6" fill="#222" textLength="27.50" lengthAdjust="spacingAndGlyphs"><tspan font-style="italic">P</tspan>&lt;0.0001</text>
<text x="440.00" y="82.77" font-size="6.6" fill="#222" textLength="27.50" lengthAdjust="spacingAndGlyphs"><tspan font-style="italic">P</tspan>&lt;0.0001</text>
<text x="260.00" y="170.65" font-size="9.6" fill="#111" stroke="#111" stroke-width="0.12" textLength="15.80" lengthAdjust="spacingAndGlyphs">pLN</text>
<path d="M230.80 177.60 V253.00 M230.20 250.00 H305.00" stroke="#000" stroke-width="1.25" fill="none"/>
<path d="M227.60 250.00H230.80 M227.60 232.05H230.80 M227.60 214.10H230.80 M227.60 196.15H230.80 M227.60 178.20H230.80 M248.80 250.00V253.00 M266.80 250.00V253.00 M284.80 250.00V253.00 M302.80 250.00V253.00" stroke="#000" stroke-width="1.0" fill="none"/>
<text x="216.44" y="252.17" font-size="6.3" fill="#222" stroke="#222" stroke-width="0.12" textLength="8.76" lengthAdjust="spacingAndGlyphs">0.0</text>
<text x="216.44" y="234.22" font-size="6.3" fill="#222" stroke="#222" stroke-width="0.12" textLength="8.76" lengthAdjust="spacingAndGlyphs">0.1</text>
<text x="216.44" y="216.27" font-size="6.3" fill="#222" stroke="#222" stroke-width="0.12" textLength="8.76" lengthAdjust="spacingAndGlyphs">0.2</text>
<text x="216.44" y="198.32" font-size="6.3" fill="#222" stroke="#222" stroke-width="0.12" textLength="8.76" lengthAdjust="spacingAndGlyphs">0.3</text>
<text x="216.44" y="180.37" font-size="6.3" fill="#222" stroke="#222" stroke-width="0.12" textLength="8.76" lengthAdjust="spacingAndGlyphs">0.4</text>
<text x="229.05" y="261.07" font-size="6.3" fill="#222" stroke="#222" stroke-width="0.12" textLength="3.50" lengthAdjust="spacingAndGlyphs">0</text>
<text x="247.05" y="261.07" font-size="6.3" fill="#222" stroke="#222" stroke-width="0.12" textLength="3.50" lengthAdjust="spacingAndGlyphs">7</text>
<text x="263.30" y="261.07" font-size="6.3" fill="#222" stroke="#222" stroke-width="0.12" textLength="7.01" lengthAdjust="spacingAndGlyphs">14</text>
<text x="281.30" y="261.07" font-size="6.3" fill="#222" stroke="#222" stroke-width="0.12" textLength="7.01" lengthAdjust="spacingAndGlyphs">21</text>
<text x="299.30" y="261.07" font-size="6.3" fill="#222" stroke="#222" stroke-width="0.12" textLength="7.01" lengthAdjust="spacingAndGlyphs">28</text>
<text x="246.00" y="271.30" font-size="9.6" fill="#111" stroke="#111" stroke-width="0.12" textLength="44.10" lengthAdjust="spacingAndGlyphs">Days post Tx</text>
<text transform="translate(210.54,250.05) rotate(-90)" x="0" y="0" font-size="8.8" fill="#111" stroke="#111" stroke-width="0.12" textLength="74.50" lengthAdjust="spacingAndGlyphs">Donor NK cells (x10<tspan dy="-3.1" font-size="5.8">5</tspan><tspan dy="3.1">)</tspan></text>
<path d="M266.80 231.15V222.18 M264.30 231.15h5 M264.30 222.18h5" stroke="#111" stroke-width="1.2" fill="none"/>
<path d="M302.80 206.92V195.25 M300.30 206.92h5 M300.30 195.25h5" stroke="#111" stroke-width="1.2" fill="none"/>
<polyline points="248.80,246.41 266.80,249.64 302.80,249.10" fill="none" stroke="#2b3c69" stroke-width="1.85" stroke-linejoin="round"/>
<polyline points="248.80,246.41 266.80,226.66 302.80,201.53" fill="none" stroke="#8c1b3d" stroke-width="1.85" stroke-linejoin="round"/>
<circle cx="248.80" cy="246.41" r="2.3" fill="#35507f"/>
<circle cx="266.80" cy="249.64" r="2.3" fill="#35507f"/>
<circle cx="302.80" cy="249.10" r="2.3" fill="#35507f"/>
<path d="M248.80 243.81 L251.27 248.36 L246.33 248.36 Z" fill="#8c1b3d"/>
<path d="M266.80 224.06 L269.27 228.61 L264.33 228.61 Z" fill="#8c1b3d"/>
<path d="M302.80 198.94 L305.27 203.48 L300.33 203.48 Z" fill="#8c1b3d"/>
<text x="277.00" y="192.27" font-size="6.6" fill="#222" textLength="27.50" lengthAdjust="spacingAndGlyphs"><tspan font-style="italic">P</tspan>=0.0001</text>
<text x="253.80" y="216.07" font-size="6.6" fill="#222" textLength="26.20" lengthAdjust="spacingAndGlyphs"><tspan font-style="italic">P</tspan>=0.0006</text>
<text x="361.30" y="170.65" font-size="9.6" fill="#111" stroke="#111" stroke-width="0.12" textLength="16.70" lengthAdjust="spacingAndGlyphs">liver</text>
<path d="M332.60 177.60 V253.00 M332.00 250.00 H406.80" stroke="#000" stroke-width="1.25" fill="none"/>
<path d="M329.40 250.00H332.60 M329.40 235.64H332.60 M329.40 221.28H332.60 M329.40 206.92H332.60 M329.40 192.56H332.60 M329.40 178.20H332.60 M350.60 250.00V253.00 M368.60 250.00V253.00 M386.60 250.00V253.00 M404.60 250.00V253.00" stroke="#000" stroke-width="1.0" fill="none"/>
<text x="323.50" y="252.17" font-size="6.3" fill="#222" stroke="#222" stroke-width="0.12" textLength="3.50" lengthAdjust="spacingAndGlyphs">0</text>
<text x="323.50" y="237.81" font-size="6.3" fill="#222" stroke="#222" stroke-width="0.12" textLength="3.50" lengthAdjust="spacingAndGlyphs">1</text>
<text x="323.50" y="223.45" font-size="6.3" fill="#222" stroke="#222" stroke-width="0.12" textLength="3.50" lengthAdjust="spacingAndGlyphs">2</text>
<text x="323.50" y="209.09" font-size="6.3" fill="#222" stroke="#222" stroke-width="0.12" textLength="3.50" lengthAdjust="spacingAndGlyphs">3</text>
<text x="323.50" y="194.73" font-size="6.3" fill="#222" stroke="#222" stroke-width="0.12" textLength="3.50" lengthAdjust="spacingAndGlyphs">4</text>
<text x="323.50" y="180.37" font-size="6.3" fill="#222" stroke="#222" stroke-width="0.12" textLength="3.50" lengthAdjust="spacingAndGlyphs">5</text>
<text x="330.85" y="261.07" font-size="6.3" fill="#222" stroke="#222" stroke-width="0.12" textLength="3.50" lengthAdjust="spacingAndGlyphs">0</text>
<text x="348.85" y="261.07" font-size="6.3" fill="#222" stroke="#222" stroke-width="0.12" textLength="3.50" lengthAdjust="spacingAndGlyphs">7</text>
<text x="365.10" y="261.07" font-size="6.3" fill="#222" stroke="#222" stroke-width="0.12" textLength="7.01" lengthAdjust="spacingAndGlyphs">14</text>
<text x="383.10" y="261.07" font-size="6.3" fill="#222" stroke="#222" stroke-width="0.12" textLength="7.01" lengthAdjust="spacingAndGlyphs">21</text>
<text x="401.10" y="261.07" font-size="6.3" fill="#222" stroke="#222" stroke-width="0.12" textLength="7.01" lengthAdjust="spacingAndGlyphs">28</text>
<text x="347.80" y="271.30" font-size="9.6" fill="#111" stroke="#111" stroke-width="0.12" textLength="44.10" lengthAdjust="spacingAndGlyphs">Days post Tx</text>
<text transform="translate(318.44,250.05) rotate(-90)" x="0" y="0" font-size="8.8" fill="#111" stroke="#111" stroke-width="0.12" textLength="74.50" lengthAdjust="spacingAndGlyphs">Donor NK cells (x10<tspan dy="-3.1" font-size="5.8">5</tspan><tspan dy="3.1">)</tspan></text>
<path d="M368.60 210.51V194.71 M366.10 210.51h5 M366.10 194.71h5" stroke="#111" stroke-width="1.2" fill="none"/>
<path d="M404.60 219.84V214.10 M402.10 219.84h5 M402.10 214.10h5" stroke="#111" stroke-width="1.2" fill="none"/>
<polyline points="350.60,250.00 368.60,249.28 404.60,249.28" fill="none" stroke="#2b3c69" stroke-width="1.85" stroke-linejoin="round"/>
<polyline points="350.60,250.00 368.60,202.61 404.60,216.97" fill="none" stroke="#8c1b3d" stroke-width="1.85" stroke-linejoin="round"/>
<circle cx="350.60" cy="250.00" r="2.3" fill="#35507f"/>
<circle cx="368.60" cy="249.28" r="2.3" fill="#35507f"/>
<circle cx="404.60" cy="249.28" r="2.3" fill="#35507f"/>
<path d="M350.60 247.40 L353.07 251.95 L348.13 251.95 Z" fill="#8c1b3d"/>
<path d="M368.60 200.01 L371.07 204.56 L366.13 204.56 Z" fill="#8c1b3d"/>
<path d="M404.60 214.37 L407.07 218.92 L402.13 218.92 Z" fill="#8c1b3d"/>
<text x="355.00" y="192.27" font-size="6.6" fill="#222" textLength="25.00" lengthAdjust="spacingAndGlyphs"><tspan font-style="italic">P</tspan>=0.029</text>
<text x="381.30" y="227.27" font-size="6.6" fill="#222" textLength="23.70" lengthAdjust="spacingAndGlyphs"><tspan font-style="italic">P</tspan>=0.029</text>
<text x="467.00" y="170.65" font-size="9.6" fill="#111" stroke="#111" stroke-width="0.12" textLength="16.00" lengthAdjust="spacingAndGlyphs">lung</text>
<path d="M437.80 177.60 V253.00 M437.20 250.00 H512.00" stroke="#000" stroke-width="1.25" fill="none"/>
<path d="M434.60 250.00H437.80 M434.60 238.03H437.80 M434.60 226.07H437.80 M434.60 214.10H437.80 M434.60 202.13H437.80 M434.60 190.17H437.80 M434.60 178.20H437.80 M455.80 250.00V253.00 M473.80 250.00V253.00 M491.80 250.00V253.00 M509.80 250.00V253.00" stroke="#000" stroke-width="1.0" fill="none"/>
<text x="428.70" y="252.17" font-size="6.3" fill="#222" stroke="#222" stroke-width="0.12" textLength="3.50" lengthAdjust="spacingAndGlyphs">0</text>
<text x="428.70" y="240.20" font-size="6.3" fill="#222" stroke="#222" stroke-width="0.12" textLength="3.50" lengthAdjust="spacingAndGlyphs">5</text>
<text x="425.19" y="228.23" font-size="6.3" fill="#222" stroke="#222" stroke-width="0.12" textLength="7.01" lengthAdjust="spacingAndGlyphs">10</text>
<text x="425.19" y="216.27" font-size="6.3" fill="#222" stroke="#222" stroke-width="0.12" textLength="7.01" lengthAdjust="spacingAndGlyphs">15</text>
<text x="425.19" y="204.30" font-size="6.3" fill="#222" stroke="#222" stroke-width="0.12" textLength="7.01" lengthAdjust="spacingAndGlyphs">20</text>
<text x="425.19" y="192.33" font-size="6.3" fill="#222" stroke="#222" stroke-width="0.12" textLength="7.01" lengthAdjust="spacingAndGlyphs">25</text>
<text x="425.19" y="180.37" font-size="6.3" fill="#222" stroke="#222" stroke-width="0.12" textLength="7.01" lengthAdjust="spacingAndGlyphs">30</text>
<text x="436.05" y="261.07" font-size="6.3" fill="#222" stroke="#222" stroke-width="0.12" textLength="3.50" lengthAdjust="spacingAndGlyphs">0</text>
<text x="454.05" y="261.07" font-size="6.3" fill="#222" stroke="#222" stroke-width="0.12" textLength="3.50" lengthAdjust="spacingAndGlyphs">7</text>
<text x="470.30" y="261.07" font-size="6.3" fill="#222" stroke="#222" stroke-width="0.12" textLength="7.01" lengthAdjust="spacingAndGlyphs">14</text>
<text x="488.30" y="261.07" font-size="6.3" fill="#222" stroke="#222" stroke-width="0.12" textLength="7.01" lengthAdjust="spacingAndGlyphs">21</text>
<text x="506.30" y="261.07" font-size="6.3" fill="#222" stroke="#222" stroke-width="0.12" textLength="7.01" lengthAdjust="spacingAndGlyphs">28</text>
<text x="453.00" y="271.30" font-size="9.6" fill="#111" stroke="#111" stroke-width="0.12" textLength="44.10" lengthAdjust="spacingAndGlyphs">Days post Tx</text>
<text transform="translate(418.94,250.05) rotate(-90)" x="0" y="0" font-size="8.8" fill="#111" stroke="#111" stroke-width="0.12" textLength="74.50" lengthAdjust="spacingAndGlyphs">Donor NK cells (x10<tspan dy="-3.1" font-size="5.8">5</tspan><tspan dy="3.1">)</tspan></text>
<path d="M473.80 225.59V195.43 M471.30 225.59h5 M471.30 195.43h5" stroke="#111" stroke-width="1.2" fill="none"/>
<path d="M509.80 221.28V215.30 M507.30 221.28h5 M507.30 215.30h5" stroke="#111" stroke-width="1.2" fill="none"/>
<polyline points="455.80,250.00 473.80,249.76 509.80,249.28" fill="none" stroke="#2b3c69" stroke-width="1.85" stroke-linejoin="round"/>
<polyline points="455.80,250.00 473.80,210.51 509.80,218.89" fill="none" stroke="#8c1b3d" stroke-width="1.85" stroke-linejoin="round"/>
<circle cx="455.80" cy="250.00" r="2.3" fill="#35507f"/>
<circle cx="473.80" cy="249.76" r="2.3" fill="#35507f"/>
<circle cx="509.80" cy="249.28" r="2.3" fill="#35507f"/>
<path d="M455.80 247.40 L458.27 251.95 L453.33 251.95 Z" fill="#8c1b3d"/>
<path d="M473.80 207.91 L476.27 212.46 L471.33 212.46 Z" fill="#8c1b3d"/>
<path d="M509.80 216.29 L512.27 220.84 L507.33 220.84 Z" fill="#8c1b3d"/>
<text x="486.30" y="212.27" font-size="6.6" fill="#222" textLength="23.70" lengthAdjust="spacingAndGlyphs"><tspan font-style="italic">P</tspan>=0.029</text>
<path d="M229.5 406.80H241" stroke="#8c1b3d" stroke-width="1.6"/>
<path d="M235.30 404.70 L237.58 408.90 L233.02 408.90 Z" fill="#8c1b3d"/>
<path d="M229.5 415.40H241" stroke="#2b3c69" stroke-width="1.6"/>
<circle cx="235.30" cy="415.40" r="2.1" fill="#35507f"/>
<text x="243.30" y="409.04" font-size="6.5" fill="#222" stroke="#222" stroke-width="0.12" textLength="53.70" lengthAdjust="spacingAndGlyphs">B6.CD45.1 BM + T</text>
<path d="M299.4 406.80H303" stroke="#333" stroke-width="0.6"/>
<path d="M304.6 406.80L302.4 405.60L302.4 408.00Z" fill="#333"/>
<text x="305.60" y="409.04" font-size="6.5" fill="#222" stroke="#222" stroke-width="0.12" textLength="9.10" lengthAdjust="spacingAndGlyphs">B6</text>
<text x="243.30" y="417.64" font-size="6.5" fill="#222" stroke="#222" stroke-width="0.12" textLength="53.70" lengthAdjust="spacingAndGlyphs">B6.CD45.1 BM + T</text>
<path d="M299.4 415.40H303" stroke="#333" stroke-width="0.6"/>
<path d="M304.6 415.40L302.4 414.20L302.4 416.60Z" fill="#333"/>
<text x="305.60" y="417.64" font-size="6.5" fill="#222" stroke="#222" stroke-width="0.12" textLength="23.40" lengthAdjust="spacingAndGlyphs">BALB/b</text>
<text x="262.50" y="432.45" font-size="9.6" fill="#111" stroke="#111" stroke-width="0.12" textLength="12.00" lengthAdjust="spacingAndGlyphs">BM</text>
<path d="M230.80 439.40 V514.75 M230.20 511.75 H305.00" stroke="#000" stroke-width="1.25" fill="none"/>
<path d="M227.60 511.75H230.80 M227.60 493.81H230.80 M227.60 475.88H230.80 M227.60 457.94H230.80 M227.60 440.00H230.80 M248.80 511.75V514.75 M266.80 511.75V514.75 M284.80 511.75V514.75 M302.80 511.75V514.75" stroke="#000" stroke-width="1.0" fill="none"/>
<text x="216.44" y="513.92" font-size="6.3" fill="#222" stroke="#222" stroke-width="0.12" textLength="8.76" lengthAdjust="spacingAndGlyphs">0.0</text>
<text x="216.44" y="495.98" font-size="6.3" fill="#222" stroke="#222" stroke-width="0.12" textLength="8.76" lengthAdjust="spacingAndGlyphs">0.5</text>
<text x="216.44" y="478.04" font-size="6.3" fill="#222" stroke="#222" stroke-width="0.12" textLength="8.76" lengthAdjust="spacingAndGlyphs">1.0</text>
<text x="216.44" y="460.10" font-size="6.3" fill="#222" stroke="#222" stroke-width="0.12" textLength="8.76" lengthAdjust="spacingAndGlyphs">1.5</text>
<text x="216.44" y="442.17" font-size="6.3" fill="#222" stroke="#222" stroke-width="0.12" textLength="8.76" lengthAdjust="spacingAndGlyphs">2.0</text>
<text x="229.05" y="522.82" font-size="6.3" fill="#222" stroke="#222" stroke-width="0.12" textLength="3.50" lengthAdjust="spacingAndGlyphs">0</text>
<text x="247.05" y="522.82" font-size="6.3" fill="#222" stroke="#222" stroke-width="0.12" textLength="3.50" lengthAdjust="spacingAndGlyphs">7</text>
<text x="263.30" y="522.82" font-size="6.3" fill="#222" stroke="#222" stroke-width="0.12" textLength="7.01" lengthAdjust="spacingAndGlyphs">14</text>
<text x="281.30" y="522.82" font-size="6.3" fill="#222" stroke="#222" stroke-width="0.12" textLength="7.01" lengthAdjust="spacingAndGlyphs">21</text>
<text x="299.30" y="522.82" font-size="6.3" fill="#222" stroke="#222" stroke-width="0.12" textLength="7.01" lengthAdjust="spacingAndGlyphs">28</text>
<text x="246.00" y="533.05" font-size="9.6" fill="#111" stroke="#111" stroke-width="0.12" textLength="44.10" lengthAdjust="spacingAndGlyphs">Days post Tx</text>
<text transform="translate(210.54,511.82) rotate(-90)" x="0" y="0" font-size="8.8" fill="#111" stroke="#111" stroke-width="0.12" textLength="74.50" lengthAdjust="spacingAndGlyphs">Donor NK cells (x10<tspan dy="-3.1" font-size="5.8">5</tspan><tspan dy="3.1">)</tspan></text>
<path d="M266.80 492.38V486.64 M264.30 492.38h5 M264.30 486.64h5" stroke="#111" stroke-width="1.2" fill="none"/>
<path d="M302.80 470.85V462.60 M300.30 470.85h5 M300.30 462.60h5" stroke="#111" stroke-width="1.2" fill="none"/>
<path d="M302.80 467.62V455.43 M300.30 467.62h5 M300.30 455.43h5" stroke="#111" stroke-width="1.2" fill="none"/>
<polyline points="248.80,507.44 266.80,499.91 302.80,463.32" fill="none" stroke="#2b3c69" stroke-width="1.85" stroke-linejoin="round"/>
<polyline points="248.80,511.03 266.80,489.51 302.80,466.19" fill="none" stroke="#8c1b3d" stroke-width="1.85" stroke-linejoin="round"/>
<circle cx="248.80" cy="507.44" r="2.3" fill="#35507f"/>
<circle cx="266.80" cy="499.91" r="2.3" fill="#35507f"/>
<circle cx="302.80" cy="463.32" r="2.3" fill="#35507f"/>
<path d="M248.80 508.43 L251.27 512.98 L246.33 512.98 Z" fill="#8c1b3d"/>
<path d="M266.80 486.91 L269.27 491.46 L264.33 491.46 Z" fill="#8c1b3d"/>
<path d="M302.80 463.59 L305.27 468.14 L300.33 468.14 Z" fill="#8c1b3d"/>
<text x="253.80" y="480.57" font-size="6.6" fill="#222" textLength="23.70" lengthAdjust="spacingAndGlyphs"><tspan font-style="italic">P</tspan>=0.023</text>
<text x="358.80" y="432.45" font-size="9.6" fill="#111" stroke="#111" stroke-width="0.12" textLength="21.70" lengthAdjust="spacingAndGlyphs">blood</text>
<path d="M332.60 439.40 V514.75 M332.00 511.75 H406.80" stroke="#000" stroke-width="1.25" fill="none"/>
<path d="M329.40 511.75H332.60 M329.40 493.81H332.60 M329.40 475.88H332.60 M329.40 457.94H332.60 M329.40 440.00H332.60 M350.60 511.75V514.75 M368.60 511.75V514.75 M386.60 511.75V514.75 M404.60 511.75V514.75" stroke="#000" stroke-width="1.0" fill="none"/>
<text x="323.50" y="513.92" font-size="6.3" fill="#222" stroke="#222" stroke-width="0.12" textLength="3.50" lengthAdjust="spacingAndGlyphs">0</text>
<text x="323.50" y="495.98" font-size="6.3" fill="#222" stroke="#222" stroke-width="0.12" textLength="3.50" lengthAdjust="spacingAndGlyphs">1</text>
<text x="323.50" y="478.04" font-size="6.3" fill="#222" stroke="#222" stroke-width="0.12" textLength="3.50" lengthAdjust="spacingAndGlyphs">2</text>
<text x="323.50" y="460.10" font-size="6.3" fill="#222" stroke="#222" stroke-width="0.12" textLength="3.50" lengthAdjust="spacingAndGlyphs">3</text>
<text x="323.50" y="442.17" font-size="6.3" fill="#222" stroke="#222" stroke-width="0.12" textLength="3.50" lengthAdjust="spacingAndGlyphs">4</text>
<text x="330.85" y="522.82" font-size="6.3" fill="#222" stroke="#222" stroke-width="0.12" textLength="3.50" lengthAdjust="spacingAndGlyphs">0</text>
<text x="348.85" y="522.82" font-size="6.3" fill="#222" stroke="#222" stroke-width="0.12" textLength="3.50" lengthAdjust="spacingAndGlyphs">7</text>
<text x="365.10" y="522.82" font-size="6.3" fill="#222" stroke="#222" stroke-width="0.12" textLength="7.01" lengthAdjust="spacingAndGlyphs">14</text>
<text x="383.10" y="522.82" font-size="6.3" fill="#222" stroke="#222" stroke-width="0.12" textLength="7.01" lengthAdjust="spacingAndGlyphs">21</text>
<text x="401.10" y="522.82" font-size="6.3" fill="#222" stroke="#222" stroke-width="0.12" textLength="7.01" lengthAdjust="spacingAndGlyphs">28</text>
<text x="347.80" y="533.05" font-size="9.6" fill="#111" stroke="#111" stroke-width="0.12" textLength="44.10" lengthAdjust="spacingAndGlyphs">Days post Tx</text>
<text transform="translate(318.44,517.83) rotate(-90)" x="0" y="0" font-size="8.8" fill="#111" stroke="#111" stroke-width="0.12" textLength="86.50" lengthAdjust="spacingAndGlyphs">Donor NK cells (x10<tspan dy="-3.1" font-size="5.8">5</tspan><tspan dy="3.1">/mL)</tspan></text>
<path d="M368.60 496.14V484.84 M366.10 496.14h5 M366.10 484.84h5" stroke="#111" stroke-width="1.2" fill="none"/>
<path d="M404.60 469.42V455.07 M402.10 469.42h5 M402.10 455.07h5" stroke="#111" stroke-width="1.2" fill="none"/>
<polyline points="350.60,511.75 368.60,510.85 404.60,506.73" fill="none" stroke="#2b3c69" stroke-width="1.85" stroke-linejoin="round"/>
<polyline points="350.60,511.75 368.60,490.23 404.60,462.42" fill="none" stroke="#8c1b3d" stroke-width="1.85" stroke-linejoin="round"/>
<circle cx="350.60" cy="511.75" r="2.3" fill="#35507f"/>
<circle cx="368.60" cy="510.85" r="2.3" fill="#35507f"/>
<circle cx="404.60" cy="506.73" r="2.3" fill="#35507f"/>
<path d="M350.60 509.15 L353.07 513.70 L348.13 513.70 Z" fill="#8c1b3d"/>
<path d="M368.60 487.62 L371.07 492.18 L366.13 492.18 Z" fill="#8c1b3d"/>
<path d="M404.60 459.82 L407.07 464.37 L402.13 464.37 Z" fill="#8c1b3d"/>
<text x="370.00" y="460.27" font-size="6.6" fill="#222" textLength="27.50" lengthAdjust="spacingAndGlyphs"><tspan font-style="italic">P</tspan>=0.0003</text>
<text x="347.00" y="482.27" font-size="6.6" fill="#222" textLength="26.80" lengthAdjust="spacingAndGlyphs"><tspan font-style="italic">P</tspan>=0.0006</text>
<text x="462.50" y="432.45" font-size="9.6" fill="#111" stroke="#111" stroke-width="0.12" textLength="25.00" lengthAdjust="spacingAndGlyphs">spleen</text>
<path d="M437.80 439.40 V514.75 M437.20 511.75 H512.00" stroke="#000" stroke-width="1.25" fill="none"/>
<path d="M434.60 511.75H437.80 M434.60 497.40H437.80 M434.60 483.05H437.80 M434.60 468.70H437.80 M434.60 454.35H437.80 M434.60 440.00H437.80 M455.80 511.75V514.75 M473.80 511.75V514.75 M491.80 511.75V514.75 M509.80 511.75V514.75" stroke="#000" stroke-width="1.0" fill="none"/>
<text x="428.70" y="513.92" font-size="6.3" fill="#222" stroke="#222" stroke-width="0.12" textLength="3.50" lengthAdjust="spacingAndGlyphs">0</text>
<text x="428.70" y="499.57" font-size="6.3" fill="#222" stroke="#222" stroke-width="0.12" textLength="3.50" lengthAdjust="spacingAndGlyphs">5</text>
<text x="425.19" y="485.22" font-size="6.3" fill="#222" stroke="#222" stroke-width="0.12" textLength="7.01" lengthAdjust="spacingAndGlyphs">10</text>
<text x="425.19" y="470.87" font-size="6.3" fill="#222" stroke="#222" stroke-width="0.12" textLength="7.01" lengthAdjust="spacingAndGlyphs">15</text>
<text x="425.19" y="456.52" font-size="6.3" fill="#222" stroke="#222" stroke-width="0.12" textLength="7.01" lengthAdjust="spacingAndGlyphs">20</text>
<text x="425.19" y="442.17" font-size="6.3" fill="#222" stroke="#222" stroke-width="0.12" textLength="7.01" lengthAdjust="spacingAndGlyphs">25</text>
<text x="436.05" y="522.82" font-size="6.3" fill="#222" stroke="#222" stroke-width="0.12" textLength="3.50" lengthAdjust="spacingAndGlyphs">0</text>
<text x="454.05" y="522.82" font-size="6.3" fill="#222" stroke="#222" stroke-width="0.12" textLength="3.50" lengthAdjust="spacingAndGlyphs">7</text>
<text x="470.30" y="522.82" font-size="6.3" fill="#222" stroke="#222" stroke-width="0.12" textLength="7.01" lengthAdjust="spacingAndGlyphs">14</text>
<text x="488.30" y="522.82" font-size="6.3" fill="#222" stroke="#222" stroke-width="0.12" textLength="7.01" lengthAdjust="spacingAndGlyphs">21</text>
<text x="506.30" y="522.82" font-size="6.3" fill="#222" stroke="#222" stroke-width="0.12" textLength="7.01" lengthAdjust="spacingAndGlyphs">28</text>
<text x="453.00" y="533.05" font-size="9.6" fill="#111" stroke="#111" stroke-width="0.12" textLength="44.10" lengthAdjust="spacingAndGlyphs">Days post Tx</text>
<text transform="translate(418.94,511.82) rotate(-90)" x="0" y="0" font-size="8.8" fill="#111" stroke="#111" stroke-width="0.12" textLength="74.50" lengthAdjust="spacingAndGlyphs">Donor NK cells (x10<tspan dy="-3.1" font-size="5.8">5</tspan><tspan dy="3.1">)</tspan></text>
<path d="M473.80 483.34V475.88 M471.30 483.34h5 M471.30 475.88h5" stroke="#111" stroke-width="1.2" fill="none"/>
<path d="M509.80 470.42V451.48 M507.30 470.42h5 M507.30 451.48h5" stroke="#111" stroke-width="1.2" fill="none"/>
<polyline points="455.80,510.89 473.80,504.86 509.80,501.42" fill="none" stroke="#2b3c69" stroke-width="1.85" stroke-linejoin="round"/>
<polyline points="455.80,510.89 473.80,480.18 509.80,460.95" fill="none" stroke="#8c1b3d" stroke-width="1.85" stroke-linejoin="round"/>
<circle cx="455.80" cy="510.89" r="2.3" fill="#35507f"/>
<circle cx="473.80" cy="504.86" r="2.3" fill="#35507f"/>
<circle cx="509.80" cy="501.42" r="2.3" fill="#35507f"/>
<path d="M455.80 508.29 L458.27 512.84 L453.33 512.84 Z" fill="#8c1b3d"/>
<path d="M473.80 477.58 L476.27 482.13 L471.33 482.13 Z" fill="#8c1b3d"/>
<path d="M509.80 458.35 L512.27 462.90 L507.33 462.90 Z" fill="#8c1b3d"/>
<text x="477.50" y="458.57" font-size="6.6" fill="#222" textLength="28.00" lengthAdjust="spacingAndGlyphs"><tspan font-style="italic">P</tspan>=0.0006</text>
<text x="448.00" y="473.57" font-size="6.6" fill="#222" textLength="28.30" lengthAdjust="spacingAndGlyphs"><tspan font-style="italic">P</tspan>=0.0006</text>
<text x="260.00" y="562.95" font-size="9.6" fill="#111" stroke="#111" stroke-width="0.12" textLength="15.50" lengthAdjust="spacingAndGlyphs">pLN</text>
<path d="M230.80 569.90 V645.00 M230.20 642.00 H305.00" stroke="#000" stroke-width="1.25" fill="none"/>
<path d="M227.60 642.00H230.80 M227.60 618.17H230.80 M227.60 594.33H230.80 M227.60 570.50H230.80 M248.80 642.00V645.00 M266.80 642.00V645.00 M284.80 642.00V645.00 M302.80 642.00V645.00" stroke="#000" stroke-width="1.0" fill="none"/>
<text x="216.44" y="644.17" font-size="6.3" fill="#222" stroke="#222" stroke-width="0.12" textLength="8.76" lengthAdjust="spacingAndGlyphs">0.0</text>
<text x="216.44" y="620.33" font-size="6.3" fill="#222" stroke="#222" stroke-width="0.12" textLength="8.76" lengthAdjust="spacingAndGlyphs">0.4</text>
<text x="216.44" y="596.50" font-size="6.3" fill="#222" stroke="#222" stroke-width="0.12" textLength="8.76" lengthAdjust="spacingAndGlyphs">0.8</text>
<text x="216.44" y="572.67" font-size="6.3" fill="#222" stroke="#222" stroke-width="0.12" textLength="8.76" lengthAdjust="spacingAndGlyphs">1.2</text>
<text x="229.05" y="653.07" font-size="6.3" fill="#222" stroke="#222" stroke-width="0.12" textLength="3.50" lengthAdjust="spacingAndGlyphs">0</text>
<text x="247.05" y="653.07" font-size="6.3" fill="#222" stroke="#222" stroke-width="0.12" textLength="3.50" lengthAdjust="spacingAndGlyphs">7</text>
<text x="263.30" y="653.07" font-size="6.3" fill="#222" stroke="#222" stroke-width="0.12" textLength="7.01" lengthAdjust="spacingAndGlyphs">14</text>
<text x="281.30" y="653.07" font-size="6.3" fill="#222" stroke="#222" stroke-width="0.12" textLength="7.01" lengthAdjust="spacingAndGlyphs">21</text>
<text x="299.30" y="653.07" font-size="6.3" fill="#222" stroke="#222" stroke-width="0.12" textLength="7.01" lengthAdjust="spacingAndGlyphs">28</text>
<text x="246.00" y="663.30" font-size="9.6" fill="#111" stroke="#111" stroke-width="0.12" textLength="44.10" lengthAdjust="spacingAndGlyphs">Days post Tx</text>
<text transform="translate(210.54,642.20) rotate(-90)" x="0" y="0" font-size="8.8" fill="#111" stroke="#111" stroke-width="0.12" textLength="74.50" lengthAdjust="spacingAndGlyphs">Donor NK cells (x10<tspan dy="-3.1" font-size="5.8">5</tspan><tspan dy="3.1">)</tspan></text>
<path d="M302.80 615.78V609.83 M300.30 615.78h5 M300.30 609.83h5" stroke="#111" stroke-width="1.2" fill="none"/>
<polyline points="248.80,641.40 266.80,641.40 302.80,638.72" fill="none" stroke="#2b3c69" stroke-width="1.85" stroke-linejoin="round"/>
<polyline points="248.80,641.40 266.80,634.85 302.80,613.40" fill="none" stroke="#8c1b3d" stroke-width="1.85" stroke-linejoin="round"/>
<circle cx="248.80" cy="641.40" r="2.3" fill="#35507f"/>
<circle cx="266.80" cy="641.40" r="2.3" fill="#35507f"/>
<circle cx="302.80" cy="638.72" r="2.3" fill="#35507f"/>
<path d="M248.80 638.80 L251.27 643.35 L246.33 643.35 Z" fill="#8c1b3d"/>
<path d="M266.80 632.25 L269.27 636.80 L264.33 636.80 Z" fill="#8c1b3d"/>
<path d="M302.80 610.80 L305.27 615.35 L300.33 615.35 Z" fill="#8c1b3d"/>
<text x="275.00" y="607.27" font-size="6.6" fill="#222" textLength="27.50" lengthAdjust="spacingAndGlyphs"><tspan font-style="italic">P</tspan>=0.0003</text>
<text x="247.50" y="627.77" font-size="6.6" fill="#222" textLength="27.50" lengthAdjust="spacingAndGlyphs"><tspan font-style="italic">P</tspan>=0.0006</text>
<text x="361.30" y="562.95" font-size="9.6" fill="#111" stroke="#111" stroke-width="0.12" textLength="16.20" lengthAdjust="spacingAndGlyphs">liver</text>
<path d="M332.60 569.90 V645.00 M332.00 642.00 H406.80" stroke="#000" stroke-width="1.25" fill="none"/>
<path d="M329.40 642.00H332.60 M329.40 630.08H332.60 M329.40 618.17H332.60 M329.40 606.25H332.60 M329.40 594.33H332.60 M329.40 582.42H332.60 M329.40 570.50H332.60 M350.60 642.00V645.00 M368.60 642.00V645.00 M386.60 642.00V645.00 M404.60 642.00V645.00" stroke="#000" stroke-width="1.0" fill="none"/>
<text x="323.50" y="644.17" font-size="6.3" fill="#222" stroke="#222" stroke-width="0.12" textLength="3.50" lengthAdjust="spacingAndGlyphs">0</text>
<text x="323.50" y="632.25" font-size="6.3" fill="#222" stroke="#222" stroke-width="0.12" textLength="3.50" lengthAdjust="spacingAndGlyphs">1</text>
<text x="323.50" y="620.33" font-size="6.3" fill="#222" stroke="#222" stroke-width="0.12" textLength="3.50" lengthAdjust="spacingAndGlyphs">2</text>
<text x="323.50" y="608.42" font-size="6.3" fill="#222" stroke="#222" stroke-width="0.12" textLength="3.50" lengthAdjust="spacingAndGlyphs">3</text>
<text x="323.50" y="596.50" font-size="6.3" fill="#222" stroke="#222" stroke-width="0.12" textLength="3.50" lengthAdjust="spacingAndGlyphs">4</text>
<text x="323.50" y="584.58" font-size="6.3" fill="#222" stroke="#222" stroke-width="0.12" textLength="3.50" lengthAdjust="spacingAndGlyphs">5</text>
<text x="323.50" y="572.67" font-size="6.3" fill="#222" stroke="#222" stroke-width="0.12" textLength="3.50" lengthAdjust="spacingAndGlyphs">6</text>
<text x="330.85" y="653.07" font-size="6.3" fill="#222" stroke="#222" stroke-width="0.12" textLength="3.50" lengthAdjust="spacingAndGlyphs">0</text>
<text x="348.85" y="653.07" font-size="6.3" fill="#222" stroke="#222" stroke-width="0.12" textLength="3.50" lengthAdjust="spacingAndGlyphs">7</text>
<text x="365.10" y="653.07" font-size="6.3" fill="#222" stroke="#222" stroke-width="0.12" textLength="7.01" lengthAdjust="spacingAndGlyphs">14</text>
<text x="383.10" y="653.07" font-size="6.3" fill="#222" stroke="#222" stroke-width="0.12" textLength="7.01" lengthAdjust="spacingAndGlyphs">21</text>
<text x="401.10" y="653.07" font-size="6.3" fill="#222" stroke="#222" stroke-width="0.12" textLength="7.01" lengthAdjust="spacingAndGlyphs">28</text>
<text x="347.80" y="663.30" font-size="9.6" fill="#111" stroke="#111" stroke-width="0.12" textLength="44.10" lengthAdjust="spacingAndGlyphs">Days post Tx</text>
<text transform="translate(318.44,642.20) rotate(-90)" x="0" y="0" font-size="8.8" fill="#111" stroke="#111" stroke-width="0.12" textLength="74.50" lengthAdjust="spacingAndGlyphs">Donor NK cells (x10<tspan dy="-3.1" font-size="5.8">5</tspan><tspan dy="3.1">)</tspan></text>
<path d="M368.60 615.78V608.63 M366.10 615.78h5 M366.10 608.63h5" stroke="#111" stroke-width="1.2" fill="none"/>
<path d="M404.60 603.87V579.44 M402.10 603.87h5 M402.10 579.44h5" stroke="#111" stroke-width="1.2" fill="none"/>
<path d="M404.60 624.12V619.95 M402.10 624.12h5 M402.10 619.95h5" stroke="#111" stroke-width="1.2" fill="none"/>
<polyline points="350.60,631.87 368.60,631.87 404.60,622.34" fill="none" stroke="#2b3c69" stroke-width="1.85" stroke-linejoin="round"/>
<polyline points="350.60,642.00 368.60,612.21 404.60,591.95" fill="none" stroke="#8c1b3d" stroke-width="1.85" stroke-linejoin="round"/>
<circle cx="350.60" cy="631.87" r="2.3" fill="#35507f"/>
<circle cx="368.60" cy="631.87" r="2.3" fill="#35507f"/>
<circle cx="404.60" cy="622.34" r="2.3" fill="#35507f"/>
<path d="M350.60 639.40 L353.07 643.95 L348.13 643.95 Z" fill="#8c1b3d"/>
<path d="M368.60 609.61 L371.07 614.16 L366.13 614.16 Z" fill="#8c1b3d"/>
<path d="M404.60 589.35 L407.07 593.90 L402.13 593.90 Z" fill="#8c1b3d"/>
<text x="372.00" y="589.77" font-size="6.6" fill="#222" textLength="26.80" lengthAdjust="spacingAndGlyphs"><tspan font-style="italic">P</tspan>=0.0093</text>
<text x="351.30" y="604.77" font-size="6.6" fill="#222" textLength="27.50" lengthAdjust="spacingAndGlyphs"><tspan font-style="italic">P</tspan>=0.0006</text>
<text x="467.00" y="562.95" font-size="9.6" fill="#111" stroke="#111" stroke-width="0.12" textLength="16.00" lengthAdjust="spacingAndGlyphs">lung</text>
<path d="M437.30 569.90 V645.00 M436.70 642.00 H511.50" stroke="#000" stroke-width="1.25" fill="none"/>
<path d="M434.10 642.00H437.30 M434.10 624.12H437.30 M434.10 606.25H437.30 M434.10 588.38H437.30 M434.10 570.50H437.30 M455.30 642.00V645.00 M473.30 642.00V645.00 M491.30 642.00V645.00 M509.30 642.00V645.00" stroke="#000" stroke-width="1.0" fill="none"/>
<text x="428.20" y="644.17" font-size="6.3" fill="#222" stroke="#222" stroke-width="0.12" textLength="3.50" lengthAdjust="spacingAndGlyphs">0</text>
<text x="424.69" y="626.29" font-size="6.3" fill="#222" stroke="#222" stroke-width="0.12" textLength="7.01" lengthAdjust="spacingAndGlyphs">10</text>
<text x="424.69" y="608.42" font-size="6.3" fill="#222" stroke="#222" stroke-width="0.12" textLength="7.01" lengthAdjust="spacingAndGlyphs">20</text>
<text x="424.69" y="590.54" font-size="6.3" fill="#222" stroke="#222" stroke-width="0.12" textLength="7.01" lengthAdjust="spacingAndGlyphs">30</text>
<text x="424.69" y="572.67" font-size="6.3" fill="#222" stroke="#222" stroke-width="0.12" textLength="7.01" lengthAdjust="spacingAndGlyphs">40</text>
<text x="435.55" y="653.07" font-size="6.3" fill="#222" stroke="#222" stroke-width="0.12" textLength="3.50" lengthAdjust="spacingAndGlyphs">0</text>
<text x="453.55" y="653.07" font-size="6.3" fill="#222" stroke="#222" stroke-width="0.12" textLength="3.50" lengthAdjust="spacingAndGlyphs">7</text>
<text x="469.80" y="653.07" font-size="6.3" fill="#222" stroke="#222" stroke-width="0.12" textLength="7.01" lengthAdjust="spacingAndGlyphs">14</text>
<text x="487.80" y="653.07" font-size="6.3" fill="#222" stroke="#222" stroke-width="0.12" textLength="7.01" lengthAdjust="spacingAndGlyphs">21</text>
<text x="505.80" y="653.07" font-size="6.3" fill="#222" stroke="#222" stroke-width="0.12" textLength="7.01" lengthAdjust="spacingAndGlyphs">28</text>
<text x="452.50" y="663.30" font-size="9.6" fill="#111" stroke="#111" stroke-width="0.12" textLength="44.10" lengthAdjust="spacingAndGlyphs">Days post Tx</text>
<text transform="translate(418.94,642.20) rotate(-90)" x="0" y="0" font-size="8.8" fill="#111" stroke="#111" stroke-width="0.12" textLength="74.50" lengthAdjust="spacingAndGlyphs">Donor NK cells (x10<tspan dy="-3.1" font-size="5.8">5</tspan><tspan dy="3.1">)</tspan></text>
<path d="M509.30 590.16V578.90 M506.80 590.16h5 M506.80 578.90h5" stroke="#111" stroke-width="1.2" fill="none"/>
<path d="M509.30 629.49V623.77 M506.80 629.49h5 M506.80 623.77h5" stroke="#111" stroke-width="1.2" fill="none"/>
<polyline points="455.30,638.42 473.30,640.21 509.30,626.81" fill="none" stroke="#2b3c69" stroke-width="1.85" stroke-linejoin="round"/>
<polyline points="455.30,641.11 473.30,629.13 509.30,584.80" fill="none" stroke="#8c1b3d" stroke-width="1.85" stroke-linejoin="round"/>
<circle cx="455.30" cy="638.42" r="2.3" fill="#35507f"/>
<circle cx="473.30" cy="640.21" r="2.3" fill="#35507f"/>
<circle cx="509.30" cy="626.81" r="2.3" fill="#35507f"/>
<path d="M455.30 638.51 L457.77 643.06 L452.83 643.06 Z" fill="#8c1b3d"/>
<path d="M473.30 626.53 L475.77 631.08 L470.83 631.08 Z" fill="#8c1b3d"/>
<path d="M509.30 582.20 L511.77 586.75 L506.83 586.75 Z" fill="#8c1b3d"/>
<text x="476.30" y="586.07" font-size="6.6" fill="#222" textLength="26.70" lengthAdjust="spacingAndGlyphs"><tspan font-style="italic">P</tspan>=0.0003</text>
<text x="448.00" y="622.77" font-size="6.6" fill="#222" textLength="26.50" lengthAdjust="spacingAndGlyphs"><tspan font-style="italic">P</tspan>=0.0006</text>
</svg>
</body></html>
